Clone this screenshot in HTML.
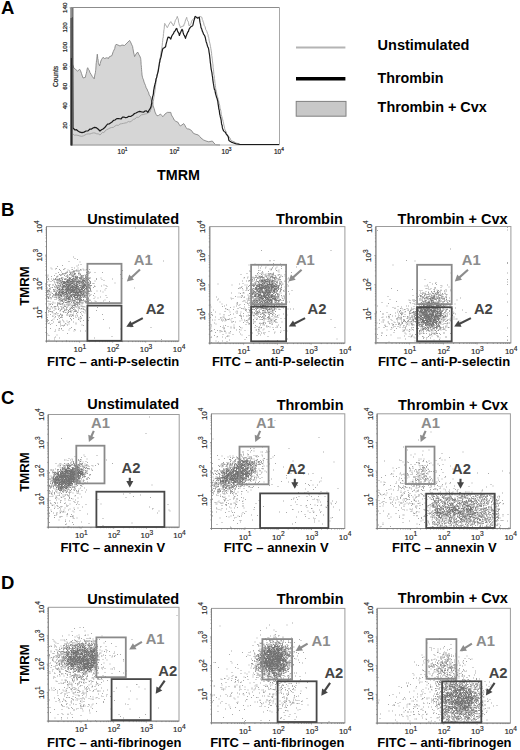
<!DOCTYPE html><html><head><meta charset="utf-8"><style>html,body{margin:0;padding:0;background:#fff;width:520px;height:750px;overflow:hidden}svg{display:block}text{font-family:"Liberation Sans",sans-serif}</style></head><body><svg width="520" height="750" viewBox="0 0 520 750" font-family="Liberation Sans, sans-serif"><defs><filter id="bl" x="-5%" y="-5%" width="110%" height="110%"><feGaussianBlur stdDeviation="0.9"/></filter></defs><text x="1" y="14" font-size="18.5" font-weight="bold" fill="#000">A</text><polygon points="72,145 72,8 73,8 72.7,64.2 73.2,65.8 73.8,68 75.8,69.6 77.7,71.2 79.6,69.2 80.5,70.7 81.5,73.5 82.3,76 83.1,78 85.4,77.3 85.9,74.6 86.3,73.5 86.8,71.3 87.2,68.8 87.7,67.7 88.5,69.4 89.2,70.2 90,72.7 91.2,74.5 92.3,76.5 94.2,78.8 94.6,76 95,74 95.4,72.7 95.6,70.5 95.8,69.2 96,65.9 96.1,64 96.3,62.7 96.5,60.4 96.8,59.1 97,56.4 97.3,54.2 97.5,55.9 97.8,58.8 98,59 98.3,62.3 98.5,63.5 99.6,65.8 100.2,63.4 100.9,61 101.5,59.6 103,57.3 104.6,58.5 106.9,57.7 108.5,58.5 109,57 112,55.5 112.7,53 113.3,51.5 114,50 114.7,48.7 115.3,45.7 116,44.4 118,45 120,46 122,45 124.5,45.5 126,44 128,42 129.6,40.4 131,43 131.8,44.9 132.6,46.5 132.9,48.6 133.2,49.9 133.5,52 134.1,54.4 134.6,56.6 136,54 137.7,52 139,55 139.8,56 140.7,58.6 140.8,59.6 141,61.7 141.1,64.4 141.3,65.8 141.4,67.4 141.6,69.7 141.7,71.3 141.9,72.8 142,75 142.5,77.3 143,78.9 143.5,79.8 144,82 144.8,83.9 145.5,85.5 146.2,87.9 147,89 147.8,91.2 148.5,92.1 149.2,95.1 150,96 150.6,97.1 151.2,99.5 151.8,102 152.3,102.7 152.9,105.1 153.5,107 154.2,108.7 155,112 156,114.2 157,115.8 158.7,115.4 160.4,114 161.7,115.5 163,116.7 165,114 167.3,112.4 170.8,112.4 171.4,114.9 172,116 173.1,117.7 174.2,120 175.9,121.4 177.7,122 179,124.2 180.3,126 182,124.9 183.7,123.6 184.9,125.3 186,127.7 187.2,128.8 189,129 191.5,130.5 193.2,133.1 195,134 198.4,135 199.7,136.5 201,138 203.6,140 206,141 208.8,141.8 212.3,141 214,143.1 215.7,144.7 220,145" fill="#d6d6d6" stroke="#7a7a7a" stroke-width="0.8" stroke-linejoin="round"/><line x1="71" y1="7.5" x2="279.5" y2="7.5" stroke="#8c8c8c" stroke-width="1.2"/><line x1="279.5" y1="7.5" x2="279.5" y2="145" stroke="#a8a8a8" stroke-width="1"/><line x1="71" y1="145" x2="279.5" y2="145" stroke="#b8b8b8" stroke-width="1"/><polyline points="73,134 74.5,135.3 76,135 78,135.4 80,136 81.7,136.3 83.3,135.9 85,135 86.7,134.1 88.3,133.9 90,134 91.7,133.3 93.3,132.9 95,133 96.7,133.8 98.3,133.9 100,135 101.2,133.9 102.5,132.3 103.8,132.7 105,131 106.7,129.7 108.3,128.9 110,128 111.7,127.5 113.3,127.4 115,126 116.7,125.2 118.3,125.4 120,124 121.7,123.7 123.3,123.4 125,123 126.7,122.7 128.3,121.5 130,122 131.7,120.9 133.3,119.4 135,119 136.7,117.1 138.3,117.5 140,116 141.7,114.7 143.3,114.6 145,114 146.7,113.7 148.3,112.8 150,112 150.6,110.1 151.2,108.8 151.8,107.3 152.4,106.1 153,104 153.2,101.7 153.4,101 153.7,98.9 153.9,97.4 154.1,96.7 154.3,94.7 154.6,93.2 154.8,92 155,90 155.2,89.2 155.4,86.9 155.6,85.7 155.8,84 156,82.5 156.2,81.3 156.4,79.4 156.6,78.1 156.8,76.5 157,75 157.3,74.3 157.6,72.4 157.9,71.2 158.2,69.8 158.5,67.1 158.8,66.1 159.1,65.3 159.4,63.6 159.7,60.8 160,60 160.2,57.7 160.5,56.6 160.8,54.2 161,52.9 161.2,50.9 161.5,50.3 161.8,48.9 162,46.7 162.2,45.9 162.4,43 162.5,42.4 162.7,40.8 162.9,38.3 163.1,38.1 163.3,36.7 163.4,33.8 163.6,33.5 163.8,31 164,29.6 164.2,28.9 164.3,27.1 164.5,24.3 164.7,23.4 165.6,24.7 166.4,26.3 167.3,27.7 168.2,25.9 169.1,24.1 169.9,22.8 170.8,21.6 171.7,23.5 172.5,23.7 173.4,26 174.1,24.5 174.7,22.7 175.4,20.3 176,19.3 176.7,18.2 177.3,16.4 177.7,18 178.2,18.8 178.6,22.1 179,23.4 179.4,25.3 179.9,25.4 180.3,27.7 182,26.4 183.7,26 184.2,23.7 184.7,23.6 185.2,21.2 185.7,19.5 186.2,18.6 186.7,17.3 187.1,19.5 187.6,20.8 188.1,21.2 188.5,22.5 188.9,25.3 189.4,26 190.2,24.7 191,23.6 191.7,21.1 192.5,19.6 193.3,19 195,18.5 196.7,17.3 198.4,17.2 200.2,16.5 201.9,17.3 202.3,19.5 202.8,20.4 203.2,22.2 203.6,22.4 204.1,25.2 204.5,26 205.1,26.7 205.7,29.5 206.2,30.2 206.8,31.4 207.4,33.3 208,34.6 208.3,36.9 208.6,37.3 208.9,38.7 209.2,41 209.5,42 209.9,43.4 210.2,45.1 210.5,46.4 210.8,48.3 211.1,50.1 211.4,52 211.6,53.2 211.7,55.5 211.9,56.2 212.1,58.1 212.3,59.1 212.4,60.9 212.6,61.9 212.8,63.8 213,64.9 213.1,67.8 213.3,69 213.5,69.8 213.7,71.9 213.8,74.2 214,75 214.2,75.8 214.4,78.6 214.6,79.4 214.8,81 215,83.1 215.2,83.8 215.4,85.5 215.6,87.3 215.8,89.4 216,90 216.4,91.3 216.8,93.8 217.1,95.2 217.5,96.7 217.9,98 218.2,99.5 218.6,100.6 219,103 219.3,103.9 219.7,105.3 220,108.1 220.3,108.8 220.7,110.2 221,111.6 221.3,114.5 221.7,116.1 222,117 222.4,118.9 222.8,119.9 223.1,121.4 223.5,123.1 223.9,125.1 224.2,126.1 224.6,128.3 225,130 225.8,131 226.6,133.6 227.4,135.1 228.2,135.7 229,137 230,137.9 231,140.5 232,141 234,141.7 236,143 238,143.5 240,144.5" fill="none" stroke="#a0a0a0" stroke-width="0.9" stroke-linejoin="round"/><polyline points="72.5,8 73,128 75,130 76.5,129.7 78,131 80,132.2 82,132.6 84,132.1 86,131 88,130.9 90,129 91.5,129.1 93,128 94.5,127.4 96,127.6 98,129 100,131 101.5,129.8 103,129 104.5,127.8 106,126 107.5,124.1 109,124 110.5,122.9 112,122 113.5,120.4 115,120 116.8,118.6 118.5,118.5 121,119 122.5,117.2 124,117 125.5,117.7 127,117.5 128.8,116.3 130.6,116.5 133,115 134.5,113.5 136,113 137.8,112 139.7,111.4 142,112 143.5,112.2 145,111 146.4,110.9 147.8,112.4 148.8,110.6 149.8,109.2 150.8,107.4 151.1,106.5 151.4,104.7 151.7,103.2 151.9,100.5 152.2,99.1 152.5,97.4 152.8,96 153.1,95.2 153.4,93.8 153.6,90.9 153.9,89.4 154.2,88 154.4,86.5 154.7,85.5 155,84 155.4,82.7 155.8,80.6 156.1,78.6 156.5,78 156.9,76.4 157.2,74.8 157.6,73.6 158,72 158.2,71.3 158.5,69.3 158.8,67.5 159,66.2 159.2,64.8 159.5,62.2 159.8,62.2 160,60 160.4,58.8 160.9,57.4 161.3,55.6 161.7,53.2 162.1,51.5 162.6,49.3 163,48.4 164.3,47.8 165.6,46.7 166,44.3 166.4,42.8 166.8,41.4 167.2,39.8 167.6,38.5 168,37.2 169.4,37.3 170.8,39 171.7,36.3 172.5,34.8 173.4,33.7 174.2,31.7 175.1,30.9 176,28.9 176.8,28.5 177.5,30.9 178.1,32.2 178.8,33.1 179.4,35.5 180.1,33.5 180.7,32.2 181.3,30.7 182,29.4 182.6,30.2 183.2,33 183.8,34.8 184.3,35.3 184.9,36.9 185.5,38.4 186.1,36.2 186.7,34.7 187.2,33.6 187.8,32 188.4,31.5 189,29.4 190.1,27.7 191.3,26.3 192.4,26 192.9,25.2 193.4,22.9 193.9,20.6 194.3,19.7 194.8,17.1 195.3,16.4 197.6,18.2 199.3,17.3 199.5,18.8 199.8,21.1 200,22.4 200.3,23.6 200.5,24.3 200.8,26 201,27.7 201.6,28.6 202.3,31.1 202.9,32.2 203.5,34.1 204.1,34.8 204.8,36 205.4,38 205.8,40.1 206.2,41.9 206.7,43.1 207.1,44.6 207.5,46.1 208,47.4 208.4,48 208.8,50 209,51.6 209.2,52.8 209.4,53.8 209.6,55.3 209.8,57.3 210,58.8 210.2,61.1 210.4,63.1 210.6,63.8 210.8,66.2 211,67.8 211.2,69.3 211.4,70 211.6,71.3 211.9,72.6 212.1,74.2 212.3,75.7 212.6,77.3 212.8,79.7 213.1,81.7 213.3,83.2 213.5,84.1 213.8,86 214,87.3 214.4,89.5 214.9,89.8 215.3,92.5 215.8,94.5 216.2,95.9 216.6,97.5 217.1,98.6 217.5,100.3 217.8,101.4 218.1,104.1 218.3,104.9 218.6,107.4 218.9,109.3 219.2,109.9 219.4,111.6 219.7,114.2 220,115 220.3,116.9 220.6,117.5 220.9,118.9 221.2,120.5 221.5,123.4 221.8,124.8 222.1,125.1 222.4,127.9 222.7,128.8 223.6,130.9 224.4,131.6 225.3,132.3 226.1,133.8 227,135 227.7,135.8 228.3,137.1 228.9,140.3 229.6,141 231.3,142.1 233,142.7 234.8,143.4 236.5,144 238.2,144.2 240,144.5 241.5,144.5 243,144.5 244.5,144.5 246,144.5 247.5,144.5 249,144.5 250.5,144.5 252,144.5 253.5,144.5 255,144.5 256.5,144.5 258,144.5 259.5,144.5 261,144.5 262.5,144.5 264,144.5 265.5,144.5 267,144.5 268.5,144.5 270,144.5 271.5,144.5 273,144.5 274.5,144.5 276,144.5 277.5,144.5 279,144.5" fill="none" stroke="#1a1a1a" stroke-width="1.2" stroke-linejoin="round"/><line x1="71.5" y1="7.5" x2="71.5" y2="17.6" stroke="#8c8c8c" stroke-width="2.6"/><line x1="71.5" y1="17.6" x2="71.5" y2="145.5" stroke="#5a5a5a" stroke-width="2.6"/><line x1="71.4" y1="58" x2="71.4" y2="145.5" stroke="#2a2a2a" stroke-width="1.1"/><text x="67.2" y="125.4" font-size="6.2" text-anchor="middle" fill="#1a1a1a" transform="rotate(-90 67.2 125.4)" stroke="#1a1a1a" stroke-width="0.2">20</text><line x1="69.5" y1="125.4" x2="71" y2="125.4" stroke="#777" stroke-width="0.6"/><text x="67.2" y="105.8" font-size="6.2" text-anchor="middle" fill="#1a1a1a" transform="rotate(-90 67.2 105.8)" stroke="#1a1a1a" stroke-width="0.2">40</text><line x1="69.5" y1="105.8" x2="71" y2="105.8" stroke="#777" stroke-width="0.6"/><text x="67.2" y="86.2" font-size="6.2" text-anchor="middle" fill="#1a1a1a" transform="rotate(-90 67.2 86.2)" stroke="#1a1a1a" stroke-width="0.2">60</text><line x1="69.5" y1="86.2" x2="71" y2="86.2" stroke="#777" stroke-width="0.6"/><text x="67.2" y="66.6" font-size="6.2" text-anchor="middle" fill="#1a1a1a" transform="rotate(-90 67.2 66.6)" stroke="#1a1a1a" stroke-width="0.2">80</text><line x1="69.5" y1="66.6" x2="71" y2="66.6" stroke="#777" stroke-width="0.6"/><text x="67.2" y="47.0" font-size="6.2" text-anchor="middle" fill="#1a1a1a" transform="rotate(-90 67.2 47.0)" stroke="#1a1a1a" stroke-width="0.2">100</text><line x1="69.5" y1="47.0" x2="71" y2="47.0" stroke="#777" stroke-width="0.6"/><text x="67.2" y="27.4" font-size="6.2" text-anchor="middle" fill="#1a1a1a" transform="rotate(-90 67.2 27.4)" stroke="#1a1a1a" stroke-width="0.2">120</text><line x1="69.5" y1="27.4" x2="71" y2="27.4" stroke="#777" stroke-width="0.6"/><text x="67.2" y="7.8" font-size="6.2" text-anchor="middle" fill="#1a1a1a" transform="rotate(-90 67.2 7.8)" stroke="#1a1a1a" stroke-width="0.2">140</text><line x1="69.5" y1="7.8" x2="71" y2="7.8" stroke="#777" stroke-width="0.6"/><text x="57.8" y="76.4" font-size="6.7" text-anchor="middle" fill="#1a1a1a" transform="rotate(-90 57.8 76.4)" stroke="#1a1a1a" stroke-width="0.2">Counts</text><text x="122.5" y="154.4" font-size="6.5" fill="#1a1a1a" stroke="#1a1a1a" stroke-width="0.2" text-anchor="middle">10<tspan font-size="4.8" dy="-3">1</tspan></text><text x="174.5" y="154.4" font-size="6.5" fill="#1a1a1a" stroke="#1a1a1a" stroke-width="0.2" text-anchor="middle">10<tspan font-size="4.8" dy="-3">2</tspan></text><text x="226.5" y="154.4" font-size="6.5" fill="#1a1a1a" stroke="#1a1a1a" stroke-width="0.2" text-anchor="middle">10<tspan font-size="4.8" dy="-3">3</tspan></text><text x="278.9" y="154.4" font-size="6.5" fill="#1a1a1a" stroke="#1a1a1a" stroke-width="0.2" text-anchor="middle">10<tspan font-size="4.8" dy="-3">4</tspan></text><text x="157" y="179.5" font-size="14.3" font-weight="bold" fill="#000">TMRM</text><line x1="296" y1="47.6" x2="345.4" y2="47.6" stroke="#b4b4b4" stroke-width="2"/><line x1="296" y1="78.7" x2="345.4" y2="78.7" stroke="#000" stroke-width="3.4"/><rect x="296.2" y="101.4" width="49.8" height="14.8" fill="#c8c8c8" stroke="#808080" stroke-width="1"/><text x="377.6" y="50" font-size="14.5" font-weight="bold" fill="#000">Unstimulated</text><text x="377.6" y="82.5" font-size="14.3" font-weight="bold" fill="#000">Thrombin</text><text x="377.6" y="111.5" font-size="14.4" font-weight="bold" fill="#000">Thrombin + Cvx</text><g transform="scale(0.5)" filter="url(#bl)" stroke-width="2" fill="none"><path d="M270 456h2m23 54h2m-151 4h2m1 3h2m3 2h2m170 3h2m-191 1h2m20 1h2m0 5h2m-7 1h2m-34 1h2m-12 2h2m27 2h2m-44 1h2m45 0h2m5 0h2m-45 1h2m15 0h2m-28 1h2m5 0h2m16 0h2m35 0h2m-41 1h2m15 0h2m-1 0h2m26 0h2m4 0h2m-18 1h2m2 0h2m-48 1h2m122 0h2m-72 1h2m-54 2h2m55 0h2m-65 1h2m71 0h2m13 0h2m-29 1h2m-68 1h2m64 0h2m61 2h2m-147 1h2m23 0h2m-14 1h2m-15 1h2m5 1h2m10 0h2m-23 2h2m106 1h2m-107 1h2m81 0h2m11 0h2m49 0h2m-143 1h2m120 0h2m-131 1h2m95 0h2m9 0h2m-101 2h2m101 0h2m-112 1h2m-5 2h2m133 2h2m-44 1h2m-96 2h2m3 1h2m107 0h2m-112 1h2m6 0h2m104 0h2m-115 1h2m88 0h2m12 0h2m-106 1h2m8 0h2m78 0h2m23 0h2m-114 2h2m83 0h2m-94 1h2m172 0h2m-59 1h2m-113 1h2m107 2h2m-18 2h2m5 0h2m3 2h2m-19 3h2m-9 2h2m3 2h2m23 0h2m-24 3h2m9 0h2m-107 1h2m3 0h2m111 0h2m-122 1h2m100 0h2m-10 1h2m-88 1h2m106 2h2m-22 2h2m15 0h2m-113 1h2m2 0h2m90 0h2m25 0h2m-115 1h2m75 0h2m17 1h2m-94 1h2m-14 1h2m2 0h2m74 0h2m-80 2h2m74 0h2m-80 1h2m3 3h2m9 0h2m-14 1h2m71 1h2m18 0h2m-92 1h2m3 0h2m46 0h2m-60 1h2m57 0h2m-51 1h2m11 1h2m50 0h2m-80 2h2m9 0h2m11 0h2m70 0h2m-24 1h2m-9 1h2m-62 1h2m41 0h2m-36 1h2m16 0h2m-1 0h2m-28 1h2m62 0h2m-56 1h2m35 0h2m-41 1h2m31 0h2m14 0h2m-64 1h2m102 0h2m-111 1h2m10 0h2m23 0h2m0 0h2m-1 0h2m-22 1h2m47 0h2m-62 1h2m35 0h2m3 0h2m2 0h2m-47 1h2m3 0h2m30 0h2m-28 1h2m-24 1h2m13 0h2m40 0h2m25 0h2m-24 1h2m4 0h2m-46 1h2m26 0h2m-41 1h2m33 1h2m62 0h2m-114 1h2m8 0h2m18 0h2m33 0h2m-68 1h2m1 0h2m4 0h2m62 0h2m8 0h2m-59 1h2m5 0h2m5 0h2m-41 1h2m21 0h2m19 0h2m20 0h2m-56 1h2m12 0h2m5 0h2m8 0h2m7 0h2m-32 1h2m0 0h2m15 0h2m-44 1h2m3 0h2m51 0h2m-57 1h2m5 0h2m25 0h2m-1 1h2m4 0h2m12 0h2m-53 1h2m26 1h2m33 0h2m-53 1h2m11 0h2m1 0h2m36 0h2m-48 1h2m4 0h2m133 2h2m-121 1h2m157 0h2m-85 1h2m-120 1h2m16 0h2m19 0h2m-19 1h2m117 0h2m-133 2h2m25 0h2m11 0h2m-35 1h2m6 0h2m20 1h2m11 0h2m8 0h2m-63 1h2m-18 4h2m39 0h2m-41 3h2m16 0h2m-18 1h2m124 2h2m-115 1h2m-4 2h2m8 0h2m68 0h2m132 3h2m-227 1h2m9 0h2m22 1h2" stroke="#ababab"/><path d="M153 532h2m-37 7h2m40 0h2m-27 1h2m15 0h2m1 0h2m12 0h2m-20 1h2m6 0h2m-23 1h2m17 0h2m-14 1h2m1 0h2m26 0h2m-45 1h2m-1 0h2m21 0h2m-28 1h2m0 0h2m6 0h2m29 0h2m5 0h2m-40 1h2m33 0h2m-54 1h2m-1 0h2m0 0h2m0 0h2m-1 0h2m18 0h2m-23 1h2m19 0h2m5 0h2m-41 1h2m3 0h2m14 0h2m-19 1h2m45 0h2m-51 1h2m6 0h2m3 0h2m27 0h2m-1 0h2m1 0h2m2 0h2m-57 1h2m18 0h2m33 0h2m1 0h2m-44 1h2m0 0h2m30 0h2m-74 1h2m17 0h2m-1 0h2m59 1h2m3 0h2m-59 1h2m5 1h2m47 0h2m-74 1h2m5 0h2m-19 1h2m9 0h2m0 0h2m2 0h2m63 2h2m-73 1h2m69 0h2m9 0h2m-90 1h2m77 0h2m-74 1h2m3 1h2m65 0h2m-73 1h2m3 0h2m69 1h2m-88 2h2m4 0h2m3 0h2m-15 1h2m12 1h2m69 0h2m5 2h2m-79 1h2m-10 1h2m3 0h2m-13 2h2m80 0h2m-83 1h2m10 0h2m-4 1h2m-16 1h2m0 0h2m8 0h2m-15 1h2m84 0h2m-74 1h2m-1 0h2m70 0h2m-88 1h2m1 0h2m9 0h2m67 0h2m1 0h2m-89 1h2m-1 0h2m4 0h2m-2 2h2m1 1h2m71 0h2m-83 1h2m-4 1h2m3 0h2m5 0h2m-15 1h2m5 0h2m4 0h2m-3 1h2m72 0h2m-3 1h2m-87 1h2m-1 0h2m8 0h2m-10 1h2m7 0h2m2 0h2m1 1h2m-15 1h2m1 0h2m11 0h2m58 1h2m-1 0h2m-66 1h2m3 0h2m57 0h2m-69 1h2m61 0h2m-8 1h2m9 0h2m0 0h2m-64 1h2m60 0h2m-86 1h2m23 0h2m46 0h2m-1 1h2m3 0h2m-11 1h2m-25 1h2m-39 1h2m7 0h2m1 0h2m7 0h2m34 0h2m0 0h2m5 0h2m4 0h2m-61 1h2m3 0h2m49 0h2m-61 1h2m16 0h2m6 0h2m2 0h2m27 0h2m-76 1h2m2 0h2m8 0h2m17 0h2m2 0h2m19 0h2m-35 1h2m1 0h2m-1 0h2m5 0h2m25 0h2m-51 1h2m21 0h2m4 0h2m-12 1h2m0 0h2m4 0h2m11 0h2m18 0h2m-68 1h2m0 0h2m16 0h2m0 0h2m31 0h2m0 0h2m0 0h2m-74 1h2m10 0h2m7 0h2m7 0h2m25 0h2m2 0h2m0 0h2m9 0h2m-77 1h2m30 0h2m18 0h2m-26 1h2m-1 0h2m7 0h2m5 0h2m7 0h2m5 0h2m8 0h2m-72 1h2m20 0h2m8 0h2m11 0h2m20 0h2m-70 1h2m15 0h2m10 0h2m7 0h2m27 0h2m2 0h2m-1 0h2m5 0h2m-76 1h2m15 0h2m13 0h2m0 0h2m3 0h2m6 0h2m19 0h2m-49 1h2m28 0h2m4 0h2m11 0h2m-43 1h2m1 0h2m10 0h2m4 0h2m-54 1h2m20 0h2m31 0h2m-55 1h2m-1 0h2m1 0h2m20 0h2m-1 0h2m9 0h2m2 0h2m5 0h2m0 0h2m-1 0h2m-57 1h2m6 0h2m21 0h2m6 0h2m18 0h2m9 0h2m-27 1h2m11 0h2m4 0h2m-53 2h2m23 0h2m38 0h2m-66 1h2m8 0h2m-2 1h2m19 0h2m-21 1h2m0 0h2m27 0h2m-37 1h2m4 0h2m18 0h2m-1 0h2m-29 1h2m2 0h2m14 0h2m14 0h2m-18 1h2m20 0h2m-39 1h2m-5 1h2m-1 0h2m0 0h2m34 1h2m-21 1h2m19 0h2m-69 2h2m18 0h2m40 0h2m-16 1h2m-24 8h2m12 2h2m-13 1h2m-3 6h2m-7 1h2m29 1h2" stroke="#9c9c9c"/><path d="M147 541h2m2 1h2m0 0h2m0 0h2m-11 1h2m-7 1h2m2 0h2m-8 1h2m6 0h2m-5 1h2m11 0h2m-28 1h2m7 0h2m6 0h2m-1 0h2m5 0h2m1 0h2m-20 1h2m2 0h2m-22 1h2m11 0h2m8 0h2m10 0h2m10 0h2m-40 1h2m3 0h2m1 0h2m1 0h2m10 0h2m16 0h2m-16 1h2m-19 1h2m0 0h2m16 0h2m-17 1h2m3 0h2m6 0h2m-29 1h2m23 0h2m8 0h2m-1 0h2m-1 0h2m-1 0h2m-52 1h2m9 0h2m2 0h2m10 0h2m0 0h2m8 0h2m-1 0h2m5 0h2m-47 1h2m27 0h2m3 0h2m3 0h2m10 0h2m-68 1h2m6 0h2m1 0h2m-1 0h2m7 0h2m4 0h2m1 0h2m16 0h2m0 0h2m0 0h2m4 0h2m1 0h2m-56 1h2m52 0h2m2 0h2m-67 1h2m2 0h2m1 0h2m-1 0h2m4 0h2m2 0h2m0 0h2m39 0h2m1 0h2m0 0h2m-65 1h2m1 0h2m0 0h2m-1 0h2m-8 1h2m5 0h2m1 0h2m-10 1h2m4 1h2m50 0h2m-62 1h2m65 0h2m-67 1h2m58 0h2m-1 0h2m-63 1h2m2 0h2m58 0h2m-63 1h2m60 0h2m-67 1h2m2 0h2m57 0h2m-3 1h2m-1 1h2m-64 1h2m-1 0h2m1 0h2m58 0h2m-70 1h2m0 0h2m63 1h2m-70 1h2m3 0h2m3 0h2m53 0h2m-64 1h2m1 0h2m59 0h2m-1 0h2m-3 1h2m-62 2h2m60 0h2m-76 1h2m8 0h2m1 0h2m59 0h2m-6 1h2m-82 1h2m77 0h2m-83 1h2m2 0h2m7 0h2m-2 1h2m4 0h2m58 1h2m-64 1h2m-1 0h2m3 0h2m54 0h2m-78 1h2m72 0h2m3 0h2m-68 1h2m65 1h2m-84 1h2m13 0h2m-1 0h2m61 0h2m-66 2h2m3 0h2m56 0h2m-1 0h2m-78 1h2m11 0h2m60 0h2m-7 1h2m-47 1h2m4 0h2m34 0h2m-71 1h2m11 0h2m6 0h2m12 0h2m11 0h2m16 0h2m2 0h2m1 0h2m0 0h2m2 0h2m-61 1h2m-22 1h2m23 0h2m21 0h2m4 0h2m21 0h2m-56 1h2m2 0h2m3 0h2m-1 0h2m1 0h2m6 0h2m5 0h2m-31 1h2m9 0h2m10 0h2m1 0h2m16 0h2m2 0h2m-48 1h2m2 0h2m2 0h2m20 0h2m6 0h2m0 0h2m-1 0h2m12 0h2m-54 1h2m-1 0h2m19 0h2m-1 0h2m27 0h2m-55 1h2m3 0h2m11 0h2m5 0h2m0 0h2m3 0h2m14 0h2m-48 1h2m17 0h2m2 0h2m2 0h2m19 0h2m2 0h2m-59 1h2m6 0h2m4 0h2m-1 0h2m34 0h2m-1 0h2m-47 1h2m2 0h2m0 0h2m3 0h2m7 0h2m4 0h2m0 0h2m1 0h2m12 0h2m2 0h2m-62 1h2m18 0h2m0 0h2m10 0h2m4 0h2m1 0h2m5 0h2m-50 1h2m5 0h2m21 0h2m-29 1h2m2 0h2m13 0h2m8 0h2m0 0h2m0 0h2m4 0h2m-42 1h2m0 0h2m26 0h2m0 0h2m0 0h2m-7 1h2m4 0h2m-1 0h2m-12 1h2m-1 0h2m1 0h2m-1 1h2m9 0h2m-42 1h2m21 0h2m3 1h2m-18 1h2m7 0h2m0 1h2m-3 1h2m-1 0h2m-6 1h2m5 1h2m-21 1h2m6 1h2m2 1h2m9 0h2m-14 1h2m-1 0h2m-16 1h2m8 1h2m1 5h2m3 0h2" stroke="#8e8e8e"/><path d="M148 548h2m-3 2h2m-6 2h2m0 0h2m4 0h2m-8 1h2m3 0h2m-6 1h2m4 0h2m-13 1h2m8 0h2m0 0h2m-1 0h2m-1 0h2m2 0h2m-10 1h2m5 0h2m6 0h2m-30 1h2m-1 0h2m6 0h2m2 0h2m8 0h2m9 0h2m-51 1h2m20 0h2m7 0h2m10 0h2m1 0h2m-38 1h2m0 0h2m4 0h2m-1 0h2m6 0h2m9 0h2m0 0h2m0 0h2m-33 1h2m-1 0h2m11 0h2m0 0h2m4 0h2m1 0h2m4 0h2m0 0h2m2 0h2m-38 1h2m7 0h2m-1 0h2m0 0h2m6 0h2m2 0h2m3 0h2m1 0h2m2 0h2m0 0h2m-58 1h2m4 0h2m19 0h2m6 0h2m-35 1h2m3 0h2m0 0h2m0 0h2m19 0h2m4 0h2m2 0h2m3 0h2m3 0h2m-47 1h2m1 0h2m-1 0h2m22 0h2m6 0h2m4 0h2m-47 1h2m-1 0h2m2 0h2m35 0h2m6 0h2m0 0h2m-53 1h2m2 0h2m-1 0h2m-1 0h2m26 0h2m0 1h2m15 0h2m-56 1h2m39 0h2m0 0h2m-13 1h2m-1 0h2m13 0h2m0 0h2m3 0h2m-58 1h2m1 0h2m34 0h2m13 0h2m-50 1h2m30 0h2m3 0h2m9 0h2m-1 0h2m0 0h2m-60 1h2m6 0h2m47 0h2m-1 0h2m-60 1h2m6 0h2m27 0h2m-36 1h2m1 0h2m33 1h2m11 0h2m0 0h2m0 0h2m-62 1h2m5 0h2m45 0h2m0 0h2m-61 1h2m3 0h2m49 0h2m5 0h2m-54 1h2m44 0h2m-1 0h2m-52 1h2m1 0h2m-1 0h2m36 0h2m6 0h2m-59 1h2m56 0h2m-62 1h2m4 0h2m0 0h2m0 0h2m-10 1h2m56 0h2m2 0h2m-58 1h2m53 0h2m-61 1h2m1 0h2m44 0h2m-1 0h2m2 0h2m-57 1h2m0 0h2m8 0h2m1 0h2m-21 1h2m8 0h2m0 0h2m43 0h2m3 0h2m-63 1h2m57 0h2m-1 0h2m-65 1h2m0 0h2m2 0h2m-1 0h2m5 0h2m6 0h2m10 0h2m20 0h2m0 0h2m3 0h2m-62 1h2m0 0h2m3 0h2m8 0h2m1 0h2m29 0h2m-58 1h2m2 0h2m1 0h2m4 0h2m12 0h2m2 0h2m1 0h2m-1 0h2m18 0h2m1 0h2m-1 0h2m1 0h2m1 0h2m-56 1h2m-1 0h2m0 0h2m3 0h2m6 0h2m4 0h2m0 0h2m2 0h2m9 0h2m0 0h2m1 0h2m3 0h2m1 0h2m-60 1h2m1 0h2m-1 0h2m-1 0h2m3 0h2m1 0h2m25 0h2m-33 1h2m5 0h2m15 0h2m12 0h2m3 0h2m2 0h2m-51 1h2m17 0h2m14 0h2m1 0h2m-42 1h2m12 0h2m2 0h2m0 0h2m1 0h2m5 0h2m0 0h2m0 0h2m0 0h2m-28 1h2m2 0h2m0 0h2m3 0h2m10 0h2m0 0h2m-24 1h2m1 0h2m21 0h2m-38 1h2m3 0h2m21 0h2m4 0h2m2 0h2m-1 0h2m-1 0h2m-38 1h2m9 0h2m-1 0h2m-1 0h2m12 0h2m-1 0h2m4 0h2m-30 1h2m0 0h2m22 0h2m3 0h2m-42 1h2m6 0h2m-1 0h2m10 0h2m3 0h2m8 0h2m1 0h2m0 0h2m0 0h2m-31 1h2m1 0h2m19 0h2m-27 1h2m-1 0h2m-1 0h2m-1 0h2m18 0h2m1 1h2m-16 1h2m4 0h2m4 0h2m-7 1h2m0 0h2m-9 1h2m-3 4h2" stroke="#808080"/><path d="M149 556h2m-5 1h2m-10 1h2m-1 0h2m3 0h2m6 0h2m-1 0h2m-12 1h2m0 0h2m2 0h2m-15 1h2m0 0h2m4 0h2m3 0h2m-18 1h2m-1 0h2m2 0h2m1 0h2m23 0h2m0 0h2m-36 1h2m-1 0h2m-1 0h2m8 0h2m3 0h2m4 0h2m4 0h2m-33 1h2m-1 0h2m-1 0h2m3 0h2m-1 0h2m0 0h2m-1 0h2m0 0h2m0 0h2m2 0h2m1 0h2m2 0h2m7 0h2m-40 1h2m0 0h2m1 0h2m0 0h2m0 0h2m1 0h2m2 0h2m0 0h2m-1 0h2m5 0h2m-1 0h2m0 0h2m-1 0h2m0 0h2m-1 0h2m-1 0h2m4 0h2m-1 0h2m-44 1h2m0 0h2m1 0h2m-1 0h2m0 0h2m1 0h2m2 0h2m8 0h2m0 0h2m9 0h2m-38 1h2m1 0h2m0 0h2m0 0h2m1 0h2m1 0h2m-1 0h2m-1 0h2m-1 0h2m3 0h2m-1 0h2m-1 0h2m8 0h2m0 0h2m-42 1h2m-1 0h2m0 0h2m7 0h2m2 0h2m-1 0h2m-1 0h2m-1 0h2m13 0h2m4 0h2m0 0h2m2 0h2m-43 1h2m0 0h2m-1 0h2m3 0h2m1 0h2m4 0h2m-1 0h2m-1 0h2m0 0h2m-1 0h2m-1 0h2m2 0h2m9 0h2m-46 1h2m5 0h2m-1 0h2m0 0h2m1 0h2m0 0h2m-1 0h2m5 0h2m-1 0h2m15 0h2m1 0h2m-43 1h2m5 0h2m-1 0h2m-1 0h2m-1 0h2m-1 0h2m-1 0h2m0 0h2m0 0h2m1 0h2m0 0h2m3 0h2m-1 0h2m-1 0h2m9 0h2m-1 0h2m-1 0h2m-1 0h2m-1 0h2m-44 1h2m1 0h2m-1 0h2m2 0h2m-1 0h2m-1 0h2m4 0h2m4 0h2m-1 0h2m-1 0h2m5 0h2m0 0h2m2 0h2m-1 0h2m0 0h2m-1 0h2m-1 0h2m-1 0h2m-49 1h2m2 0h2m6 0h2m-1 0h2m-1 0h2m-1 0h2m-1 0h2m0 0h2m0 0h2m2 0h2m1 0h2m8 0h2m4 0h2m0 0h2m-1 0h2m-46 1h2m2 0h2m-1 0h2m0 0h2m-1 0h2m-1 0h2m-1 0h2m5 0h2m0 0h2m-1 0h2m3 0h2m-1 0h2m-1 0h2m-1 0h2m7 0h2m-1 0h2m-1 0h2m-1 0h2m-1 0h2m3 0h2m0 0h2m-52 1h2m0 0h2m0 0h2m0 0h2m4 0h2m-1 0h2m2 0h2m-1 0h2m0 0h2m0 0h2m-1 0h2m-1 0h2m1 0h2m0 0h2m6 0h2m4 0h2m4 0h2m-50 1h2m6 0h2m-1 0h2m-1 0h2m0 0h2m1 0h2m0 0h2m0 0h2m2 0h2m-1 0h2m-1 0h2m-1 0h2m-1 0h2m5 0h2m3 0h2m-1 0h2m0 0h2m-1 0h2m2 0h2m0 0h2m-51 1h2m2 0h2m0 0h2m-1 0h2m0 0h2m0 0h2m3 0h2m0 0h2m0 0h2m-1 0h2m0 0h2m0 0h2m-1 0h2m1 0h2m-1 0h2m-1 0h2m-1 0h2m3 0h2m-1 0h2m2 0h2m3 0h2m-50 1h2m6 0h2m1 0h2m-1 0h2m-1 0h2m0 0h2m-1 0h2m3 0h2m4 0h2m0 0h2m-1 0h2m6 0h2m-1 0h2m0 0h2m-1 0h2m4 0h2m-51 1h2m6 0h2m-1 0h2m0 0h2m-1 0h2m2 0h2m3 0h2m-1 0h2m-1 0h2m1 0h2m-1 0h2m-1 0h2m-1 0h2m-1 0h2m0 0h2m0 0h2m-1 0h2m1 0h2m-1 0h2m-46 1h2m4 0h2m3 0h2m-1 0h2m-1 0h2m1 0h2m0 0h2m-1 0h2m-1 0h2m1 0h2m-1 0h2m-1 0h2m-1 0h2m-1 0h2m1 0h2m-1 0h2m4 0h2m-1 0h2m1 0h2m1 0h2m4 0h2m-51 1h2m4 0h2m5 0h2m-1 0h2m2 0h2m0 0h2m-1 0h2m-1 0h2m-1 0h2m3 0h2m-1 0h2m0 0h2m0 0h2m4 0h2m0 0h2m-1 0h2m1 0h2m3 0h2m-42 1h2m3 0h2m-1 0h2m0 0h2m0 0h2m0 0h2m1 0h2m-1 0h2m-1 0h2m0 0h2m3 0h2m2 0h2m-1 0h2m6 0h2m-1 0h2m-44 1h2m2 0h2m1 0h2m-1 0h2m-1 0h2m-1 0h2m2 0h2m0 0h2m-1 0h2m0 0h2m-1 0h2m-1 0h2m0 0h2m-1 0h2m0 0h2m-1 0h2m0 0h2m1 0h2m-1 0h2m0 0h2m1 0h2m0 0h2m0 0h2m-51 1h2m3 0h2m0 0h2m-1 0h2m3 0h2m-1 0h2m-1 0h2m2 0h2m2 0h2m0 0h2m-1 0h2m1 0h2m2 0h2m-1 0h2m-1 0h2m2 0h2m-1 0h2m-1 0h2m-1 0h2m0 0h2m5 0h2m-47 1h2m-1 0h2m9 0h2m2 0h2m0 0h2m0 0h2m-1 0h2m-1 0h2m-1 0h2m3 0h2m3 0h2m-1 0h2m2 0h2m-1 0h2m-1 0h2m-45 1h2m-1 0h2m0 0h2m1 0h2m1 0h2m0 0h2m2 0h2m-1 0h2m1 0h2m0 0h2m2 0h2m0 0h2m0 0h2m0 0h2m0 0h2m-1 0h2m-1 0h2m1 0h2m-1 0h2m-1 0h2m6 0h2m-54 1h2m8 0h2m-1 0h2m3 0h2m2 0h2m0 0h2m-1 0h2m7 0h2m-1 0h2m1 0h2m-1 0h2m1 0h2m1 0h2m4 0h2m-49 1h2m3 0h2m0 0h2m4 0h2m-1 0h2m2 0h2m0 0h2m9 0h2m2 0h2m-1 0h2m4 0h2m-1 0h2m1 0h2m-1 0h2m-50 1h2m3 0h2m0 0h2m3 0h2m2 0h2m1 0h2m7 0h2m1 0h2m0 0h2m-1 0h2m0 0h2m0 0h2m-42 1h2m9 0h2m10 0h2m2 0h2m0 0h2m-1 0h2m-1 0h2m0 0h2m0 0h2m2 0h2m0 0h2m2 0h2m2 0h2m-47 1h2m0 0h2m4 0h2m3 0h2m-1 0h2m12 0h2m2 0h2m2 0h2m-1 0h2m0 0h2m0 0h2m1 0h2m-45 1h2m17 0h2m6 0h2m0 0h2m-1 0h2m0 0h2m-1 0h2m-1 0h2m-1 0h2m1 0h2m-30 1h2m-1 0h2m3 0h2m3 0h2m1 0h2m2 0h2m10 0h2m-30 1h2m-1 0h2m3 0h2m0 0h2m-1 0h2m4 0h2m4 0h2m-1 0h2m-21 1h2m0 0h2m19 0h2m-8 1h2m4 0h2m-24 1h2m15 0h2m3 0h2m-25 1h2m21 0h2m-28 1h2m3 0h2m-1 0h2m15 0h2m-3 1h2" stroke="#727272"/></g><rect x="46.5" y="226.6" width="132.3" height="114.5" fill="none" stroke="#9c9c9c" stroke-width="1"/><line x1="46.5" y1="226.6" x2="46.5" y2="341.6" stroke="#858585" stroke-width="1"/><line x1="46.0" y1="341.1" x2="178.8" y2="341.1" stroke="#858585" stroke-width="1"/><path d="M45.0 341.1h1.5M46.5 341.1v1.5M45.5 332.5h1.0M56.5 341.1v1.0M45.5 327.4h1.0M62.3 341.1v1.0M45.5 323.9h1.0M66.4 341.1v1.0M45.5 321.1h1.0M69.6 341.1v1.0M45.5 318.8h1.0M72.2 341.1v1.0M45.5 316.9h1.0M74.5 341.1v1.0M45.5 315.2h1.0M76.4 341.1v1.0M45.5 313.8h1.0M78.1 341.1v1.0M45.0 312.5h1.5M79.6 341.1v1.5M45.5 303.9h1.0M89.5 341.1v1.0M45.5 298.8h1.0M95.4 341.1v1.0M45.5 295.2h1.0M99.5 341.1v1.0M45.5 292.5h1.0M102.7 341.1v1.0M45.5 290.2h1.0M105.3 341.1v1.0M45.5 288.3h1.0M107.5 341.1v1.0M45.5 286.6h1.0M109.4 341.1v1.0M45.5 285.2h1.0M111.1 341.1v1.0M45.0 283.9h1.5M112.7 341.1v1.5M45.5 275.2h1.0M122.6 341.1v1.0M45.5 270.2h1.0M128.4 341.1v1.0M45.5 266.6h1.0M132.6 341.1v1.0M45.5 263.8h1.0M135.8 341.1v1.0M45.5 261.6h1.0M138.4 341.1v1.0M45.5 259.7h1.0M140.6 341.1v1.0M45.5 258.0h1.0M142.5 341.1v1.0M45.5 256.5h1.0M144.2 341.1v1.0M45.0 255.2h1.5M145.7 341.1v1.5M45.5 246.6h1.0M155.7 341.1v1.0M45.5 241.6h1.0M161.5 341.1v1.0M45.5 238.0h1.0M165.6 341.1v1.0M45.5 235.2h1.0M168.8 341.1v1.0M45.5 233.0h1.0M171.5 341.1v1.0M45.5 231.0h1.0M173.7 341.1v1.0M45.5 229.4h1.0M175.6 341.1v1.0M45.5 227.9h1.0M177.3 341.1v1.0" stroke="#777" stroke-width="0.7"/><text x="79.9" y="352.3" font-size="8" fill="#1e1e1e" stroke="#1e1e1e" stroke-width="0.15" text-anchor="middle">10<tspan font-size="6.6" dy="-3.6">1</tspan></text><text x="42.1" y="312.5" font-size="8" fill="#1e1e1e" stroke="#1e1e1e" stroke-width="0.15" text-anchor="middle" transform="rotate(-90 42.1 312.5)">10<tspan font-size="6.6" dy="-3.6">1</tspan></text><text x="113.0" y="352.3" font-size="8" fill="#1e1e1e" stroke="#1e1e1e" stroke-width="0.15" text-anchor="middle">10<tspan font-size="6.6" dy="-3.6">2</tspan></text><text x="42.1" y="283.9" font-size="8" fill="#1e1e1e" stroke="#1e1e1e" stroke-width="0.15" text-anchor="middle" transform="rotate(-90 42.1 283.9)">10<tspan font-size="6.6" dy="-3.6">2</tspan></text><text x="146.0" y="352.3" font-size="8" fill="#1e1e1e" stroke="#1e1e1e" stroke-width="0.15" text-anchor="middle">10<tspan font-size="6.6" dy="-3.6">3</tspan></text><text x="42.1" y="255.2" font-size="8" fill="#1e1e1e" stroke="#1e1e1e" stroke-width="0.15" text-anchor="middle" transform="rotate(-90 42.1 255.2)">10<tspan font-size="6.6" dy="-3.6">3</tspan></text><text x="179.1" y="352.3" font-size="8" fill="#1e1e1e" stroke="#1e1e1e" stroke-width="0.15" text-anchor="middle">10<tspan font-size="6.6" dy="-3.6">4</tspan></text><text x="42.1" y="226.6" font-size="8" fill="#1e1e1e" stroke="#1e1e1e" stroke-width="0.15" text-anchor="middle" transform="rotate(-90 42.1 226.6)">10<tspan font-size="6.6" dy="-3.6">4</tspan></text><rect x="87.4" y="263.8" width="34.1" height="39.3" fill="none" stroke="#8a8a8a" stroke-width="1.8"/><rect x="87.4" y="305.6" width="34.1" height="35.2" fill="none" stroke="#484848" stroke-width="1.8"/><text x="133.8" y="264.9" font-size="14.8" font-weight="bold" fill="#8c8c8c">A1</text><line x1="140.0" y1="269.5" x2="130.9" y2="277.9" stroke="#8c8c8c" stroke-width="2.1"/><polygon points="126.8,281.6 129.3,274.6 134.0,279.8" fill="#8c8c8c"/><text x="145.7" y="314.3" font-size="14.8" font-weight="bold" fill="#454545">A2</text><line x1="142.8" y1="318.1" x2="131.2" y2="324.2" stroke="#454545" stroke-width="2.1"/><polygon points="126.3,326.8 130.4,320.7 133.7,326.9" fill="#454545"/><text x="179.0" y="223.8" font-size="14.5" font-weight="bold" text-anchor="end" fill="#000">Unstimulated</text><text x="113.2" y="366.0" font-size="13" font-weight="bold" text-anchor="middle" fill="#000">FITC – anti-P-selectin</text><text x="29.4" y="285.9" font-size="13.2" font-weight="bold" text-anchor="middle" fill="#000" transform="rotate(-90 29.4 285.9)">TMRM</text><g transform="scale(0.5)" filter="url(#bl)" stroke-width="2" fill="none"><path d="M522 501h2m137 0h2m-124 20h2m6 0h2m-10 1h2m5 5h2m-39 1h2m49 0h2m-14 1h2m-53 1h2m36 1h2m-15 1h2m38 1h2m-33 1h2m20 0h2m37 0h2m-50 1h2m-30 1h2m12 0h2m19 0h2m9 1h2m-25 1h2m9 0h2m5 2h2m-43 1h2m1 0h2m-23 1h2m55 0h2m-57 1h2m22 0h2m10 0h2m32 0h2m-15 1h2m-43 1h2m5 0h2m57 0h2m-61 1h2m-32 1h2m42 0h2m-4 1h2m-56 1h2m44 0h2m29 0h2m9 0h2m-10 1h2m-53 1h2m49 1h2m6 0h2m-7 1h2m-71 1h2m8 0h2m51 0h2m0 0h2m-74 1h2m19 0h2m-24 1h2m5 0h2m80 0h2m-76 1h2m67 1h2m2 0h2m-78 3h2m-17 1h2m6 0h2m2 0h2m-1 0h2m5 0h2m63 0h2m-1 0h2m-3 1h2m-9 1h2m12 0h2m-93 3h2m-52 1h2m41 0h2m85 0h2m6 1h2m-112 1h2m24 0h2m2 0h2m5 0h2m71 2h2m1 0h2m-95 1h2m7 1h2m75 0h2m-89 1h2m9 0h2m77 0h2m-96 1h2m-4 1h2m6 0h2m6 1h2m5 1h2m-16 1h2m6 0h2m74 0h2m-80 1h2m73 0h2m15 0h2m-9 2h2m-92 2h2m-26 1h2m13 0h2m6 0h2m91 2h2m-10 1h2m-5 2h2m-85 1h2m11 0h2m-29 1h2m95 0h2m-137 1h2m41 0h2m2 0h2m87 0h2m-88 1h2m3 0h2m-28 1h2m105 0h2m-105 1h2m97 0h2m-130 1h2m24 0h2m-30 2h2m51 1h2m8 0h2m-14 2h2m-48 1h2m130 0h2m0 0h2m3 0h2m-106 1h2m15 0h2m-20 1h2m19 0h2m-2 1h2m65 0h2m-120 1h2m29 0h2m3 1h2m7 0h2m-70 1h2m30 0h2m42 0h2m-21 1h2m-31 1h2m22 0h2m84 0h2m-116 1h2m-25 1h2m44 0h2m19 0h2m-30 1h2m17 0h2m16 0h2m55 0h2m7 0h2m-63 1h2m62 0h2m-118 1h2m30 0h2m-33 1h2m37 0h2m60 0h2m3 0h2m16 0h2m3 0h2m4 0h2m-122 1h2m23 0h2m-1 0h2m63 0h2m-133 1h2m29 0h2m31 1h2m-19 1h2m17 0h2m8 0h2m-74 2h2m27 0h2m10 0h2m1 0h2m5 0h2m-61 1h2m71 0h2m-24 2h2m11 0h2m-49 1h2m25 0h2m12 0h2m84 0h2m-146 1h2m23 0h2m11 0h2m88 0h2m-128 1h2m70 0h2m2 0h2m5 0h2m48 0h2m14 0h2m-151 1h2m31 0h2m19 0h2m0 0h2m17 0h2m44 0h2m-100 1h2m43 0h2m55 0h2m-2 1h2m-121 1h2m13 0h2m35 0h2m-64 1h2m19 0h2m4 0h2m20 0h2m47 0h2m31 0h2m2 0h2m-117 1h2m67 0h2m-48 1h2m17 0h2m77 0h2m6 0h2m-128 1h2m69 0h2m12 0h2m13 0h2m-108 1h2m14 0h2m0 0h2m62 0h2m2 0h2m25 0h2m0 0h2m107 0h2m-239 1h2m3 0h2m15 0h2m13 0h2m20 0h2m3 0h2m5 0h2m9 0h2m19 0h2m21 0h2m-108 2h2m3 0h2m28 0h2m13 0h2m31 0h2m-63 1h2m41 0h2m37 0h2m-88 1h2m0 0h2m4 0h2m34 0h2m1 0h2m31 0h2m6 0h2m11 0h2m-79 1h2m38 0h2m25 0h2m-127 1h2m89 0h2m20 0h2m-37 1h2m10 0h2m1 0h2m7 0h2m-101 1h2m-12 1h2m68 0h2m4 0h2m44 0h2m-78 1h2m59 0h2m26 0h2m-108 1h2m58 0h2m-90 1h2m22 0h2m84 0h2m-1 0h2m18 0h2m-115 1h2m13 0h2m21 0h2m33 0h2m21 0h2m-77 1h2m4 0h2m70 0h2m-61 1h2m27 0h2m6 0h2m26 0h2m4 0h2m7 0h2m107 0h2m-250 1h2m38 0h2m4 0h2m-1 0h2m13 0h2m36 0h2m-76 1h2m-2 1h2m52 0h2m-75 1h2m48 0h2m66 0h2m-76 1h2m7 0h2m42 0h2m-93 1h2m53 0h2m76 0h2m-146 1h2m23 0h2m66 0h2m43 0h2m10 0h2m-155 1h2m-1 0h2m37 0h2m57 0h2m16 0h2m-100 1h2m37 0h2m69 0h2m-121 1h2m69 0h2m26 0h2m29 0h2m-111 1h2m4 0h2m45 0h2m42 0h2m-70 2h2m34 0h2m10 0h2m-85 1h2m18 0h2m16 1h2m35 0h2m-94 1h2m67 0h2m14 0h2m-61 1h2m-1 0h2m0 0h2m-25 1h2m99 0h2m-115 1h2m9 0h2m9 0h2m-25 1h2m69 0h2m-44 1h2m122 2h2m97 0h2m-186 1h2m-33 1h2m75 1h2m17 0h2m-125 1h2m11 0h2m84 0h2m-79 1h2m-19 1h2m79 0h2m-97 1h2m10 1h2m13 0h2" stroke="#ababab"/><path d="M516 532h2m28 0h2m-28 4h2m21 1h2m-3 2h2m-3 1h2m9 1h2m-29 5h2m19 0h2m-34 1h2m3 0h2m19 0h2m1 0h2m1 0h2m-25 1h2m6 0h2m5 0h2m-18 1h2m17 0h2m1 0h2m-1 0h2m-1 0h2m-18 1h2m11 0h2m10 0h2m-1 0h2m-13 1h2m2 0h2m-34 2h2m12 0h2m8 0h2m-32 1h2m22 0h2m-34 1h2m5 0h2m38 0h2m6 0h2m-55 1h2m48 1h2m-49 1h2m48 0h2m-60 1h2m2 0h2m6 0h2m46 0h2m-54 1h2m2 0h2m42 0h2m1 0h2m-63 1h2m5 1h2m5 0h2m40 0h2m-45 1h2m2 0h2m35 2h2m9 1h2m-65 1h2m2 1h2m53 0h2m2 1h2m-60 1h2m-9 1h2m5 0h2m51 0h2m2 0h2m-2 1h2m-68 1h2m-18 3h2m11 1h2m76 0h2m-72 1h2m57 0h2m-58 1h2m56 0h2m-63 1h2m57 0h2m-66 1h2m62 0h2m-62 1h2m58 1h2m5 0h2m-11 1h2m-73 2h2m12 0h2m58 0h2m-83 1h2m18 1h2m69 0h2m-16 1h2m-64 1h2m-14 1h2m72 0h2m3 0h2m-81 1h2m15 0h2m-14 2h2m7 0h2m64 0h2m-69 2h2m3 1h2m0 0h2m-12 1h2m1 0h2m4 0h2m63 0h2m-72 2h2m3 0h2m59 1h2m1 0h2m-79 1h2m3 0h2m6 0h2m-1 0h2m66 0h2m-74 3h2m61 0h2m-7 1h2m5 0h2m-69 1h2m5 0h2m50 0h2m-85 1h2m30 0h2m-6 1h2m57 0h2m-1 0h2m-64 2h2m1 0h2m5 1h2m32 0h2m3 0h2m7 0h2m4 0h2m-61 1h2m44 0h2m2 0h2m-52 1h2m7 0h2m1 0h2m37 0h2m-44 1h2m31 0h2m0 0h2m-75 2h2m8 0h2m23 0h2m30 0h2m4 0h2m-1 0h2m-64 1h2m16 0h2m30 0h2m-85 1h2m41 0h2m5 0h2m1 0h2m-1 0h2m49 0h2m-61 1h2m-4 1h2m2 0h2m13 0h2m5 0h2m21 0h2m-51 1h2m43 0h2m-96 1h2m67 0h2m21 0h2m7 0h2m-8 1h2m-47 1h2m2 0h2m3 0h2m15 0h2m0 0h2m16 0h2m-40 1h2m32 0h2m-40 1h2m10 0h2m7 0h2m-1 0h2m15 0h2m3 0h2m-39 1h2m10 0h2m12 0h2m-18 1h2m6 0h2m8 0h2m-37 1h2m23 0h2m8 0h2m-42 1h2m6 0h2m-1 0h2m21 0h2m22 0h2m-74 1h2m2 0h2m7 0h2m10 0h2m29 0h2m-59 1h2m33 0h2m2 0h2m14 0h2m5 0h2m8 0h2m-37 1h2m8 0h2m7 0h2m-40 1h2m21 0h2m-1 0h2m9 0h2m0 0h2m-40 1h2m13 0h2m12 0h2m9 0h2m-1 0h2m6 0h2m-100 1h2m75 0h2m1 0h2m7 0h2m-82 1h2m36 0h2m0 0h2m-1 0h2m30 0h2m2 0h2m-87 1h2m4 0h2m48 0h2m4 0h2m7 0h2m-81 1h2m96 0h2m0 0h2m1 0h2m-96 1h2m39 0h2m48 0h2m4 0h2m-61 1h2m46 0h2m-4 1h2m2 0h2m4 1h2m4 0h2m-60 1h2m34 0h2m-35 1h2m27 0h2m-1 0h2m10 0h2m-42 1h2m23 0h2m1 0h2m11 0h2m-15 1h2m16 0h2m-26 2h2m3 0h2m-9 4h2m13 0h2m19 0h2m-111 1h2m75 0h2m-76 1h2m67 0h2m8 2h2m-13 1h2m-7 1h2m-1 0h2m4 0h2m-98 1h2m15 0h2m0 1h2m6 0h2m-8 1h2m4 0h2m64 1h2m-58 2h2m61 0h2m2 0h2m-11 1h2m-66 6h2" stroke="#9c9c9c"/><path d="M536 548h2m-23 2h2m21 0h2m-5 1h2m-25 1h2m5 0h2m3 0h2m3 0h2m1 0h2m3 0h2m2 0h2m7 0h2m-34 1h2m1 0h2m-1 0h2m18 0h2m0 0h2m-25 1h2m9 0h2m5 0h2m1 0h2m1 0h2m4 0h2m-40 1h2m0 0h2m3 0h2m1 0h2m-1 0h2m-1 0h2m-1 0h2m-1 0h2m11 0h2m2 0h2m0 0h2m0 0h2m-43 1h2m5 0h2m1 0h2m32 0h2m-1 0h2m-39 1h2m10 0h2m5 0h2m11 0h2m-29 1h2m12 0h2m2 0h2m4 0h2m7 0h2m-23 1h2m2 0h2m11 0h2m6 0h2m-10 1h2m-33 1h2m26 0h2m-29 1h2m23 0h2m-1 0h2m4 0h2m-39 1h2m1 0h2m30 0h2m0 0h2m8 0h2m-47 1h2m36 0h2m2 0h2m-51 1h2m5 0h2m35 0h2m-38 1h2m35 0h2m3 0h2m-52 1h2m48 0h2m-55 1h2m7 0h2m41 0h2m0 0h2m-53 1h2m40 0h2m-52 1h2m3 0h2m-4 1h2m0 0h2m0 0h2m-2 1h2m-4 1h2m48 1h2m4 1h2m-54 1h2m49 0h2m-58 1h2m-1 0h2m1 0h2m48 0h2m-56 3h2m46 0h2m6 0h2m-60 1h2m1 0h2m-3 1h2m0 0h2m45 0h2m-3 1h2m-54 1h2m45 1h2m1 0h2m-49 1h2m-8 1h2m47 0h2m-47 1h2m1 0h2m0 0h2m45 0h2m1 0h2m-5 1h2m-48 1h2m40 0h2m2 0h2m-56 1h2m0 0h2m45 0h2m-48 1h2m-4 1h2m0 0h2m0 0h2m48 0h2m-1 0h2m-2 1h2m-1 0h2m-47 2h2m40 0h2m-1 0h2m-58 1h2m6 0h2m48 1h2m-52 1h2m51 0h2m-10 1h2m4 0h2m0 0h2m-56 1h2m46 0h2m0 0h2m-54 1h2m9 0h2m41 0h2m-54 1h2m3 0h2m43 0h2m-56 1h2m3 0h2m1 0h2m30 0h2m4 0h2m2 0h2m-50 1h2m6 0h2m36 0h2m3 0h2m-39 1h2m0 0h2m18 0h2m11 0h2m-49 1h2m1 0h2m5 0h2m35 0h2m2 0h2m-46 1h2m32 0h2m-38 1h2m-1 0h2m27 0h2m16 0h2m-14 1h2m-41 1h2m1 0h2m7 0h2m26 0h2m-43 1h2m3 0h2m1 0h2m3 0h2m17 0h2m11 0h2m-14 1h2m9 0h2m-46 1h2m6 0h2m17 0h2m0 0h2m6 0h2m-1 0h2m-41 1h2m33 0h2m-27 1h2m3 0h2m-1 0h2m-13 1h2m1 0h2m22 0h2m-18 1h2m3 0h2m3 0h2m6 0h2m1 0h2m0 0h2m2 0h2m-39 1h2m5 0h2m11 0h2m1 0h2m-1 0h2m3 0h2m5 0h2m-38 1h2m16 0h2m3 0h2m8 0h2m-21 1h2m16 0h2m-36 1h2m13 0h2m7 0h2m3 0h2m4 0h2m-33 1h2m13 0h2m-27 1h2m6 0h2m-1 0h2m-1 0h2m-1 0h2m18 0h2m0 0h2m-23 1h2m1 0h2m8 0h2m-1 0h2m-1 0h2m3 0h2m0 0h2m-27 1h2m-1 0h2m3 0h2m3 0h2m3 0h2m2 0h2m-26 1h2m1 0h2m26 0h2m-16 1h2m9 0h2m6 0h2m-36 1h2m2 0h2m27 0h2m-20 1h2m-15 1h2m15 1h2m-8 1h2m0 1h2m8 4h2m1 0h2m-17 1h2" stroke="#8e8e8e"/><path d="M523 553h2m-7 1h2m2 0h2m11 2h2m11 1h2m-31 1h2m3 0h2m11 0h2m1 0h2m7 0h2m-26 1h2m2 0h2m2 0h2m-13 1h2m3 0h2m-1 0h2m-1 0h2m0 0h2m2 0h2m-10 1h2m1 0h2m6 0h2m-1 0h2m3 0h2m-26 1h2m1 0h2m0 0h2m0 0h2m12 0h2m0 0h2m3 0h2m-25 1h2m0 0h2m5 0h2m1 0h2m-1 0h2m4 0h2m-1 0h2m-26 1h2m-1 0h2m-1 0h2m0 0h2m5 0h2m7 0h2m-6 1h2m-1 0h2m5 0h2m-36 1h2m6 0h2m10 0h2m15 0h2m-40 2h2m38 0h2m-1 0h2m-36 1h2m-1 0h2m0 0h2m-13 1h2m2 0h2m35 0h2m0 0h2m-1 0h2m-43 1h2m-1 0h2m38 0h2m0 0h2m-1 1h2m-1 0h2m-44 1h2m38 0h2m-1 0h2m-46 1h2m41 0h2m-47 1h2m-1 0h2m-1 0h2m42 0h2m-6 1h2m0 0h2m0 0h2m-48 1h2m36 0h2m2 0h2m1 0h2m-48 2h2m-1 0h2m0 0h2m36 0h2m4 0h2m-9 1h2m0 0h2m-1 0h2m-41 1h2m0 0h2m37 0h2m-44 1h2m-1 0h2m27 0h2m-39 1h2m1 0h2m36 0h2m3 0h2m-46 1h2m1 0h2m1 0h2m2 0h2m25 0h2m-41 1h2m-1 0h2m2 0h2m31 0h2m0 0h2m2 0h2m-45 1h2m0 0h2m1 0h2m39 0h2m-50 1h2m-1 0h2m7 0h2m30 0h2m5 0h2m-46 1h2m2 0h2m0 0h2m23 0h2m13 0h2m-53 1h2m4 0h2m32 0h2m4 0h2m-10 1h2m1 0h2m-38 1h2m-1 0h2m4 0h2m23 0h2m0 0h2m0 0h2m-39 1h2m38 0h2m5 0h2m-49 1h2m5 0h2m-1 0h2m29 0h2m-1 0h2m1 0h2m-48 1h2m4 0h2m2 0h2m32 0h2m2 0h2m-50 1h2m8 0h2m26 0h2m4 0h2m-2 1h2m0 0h2m-42 1h2m2 0h2m0 0h2m27 0h2m-38 1h2m11 0h2m28 0h2m-44 1h2m6 0h2m3 0h2m5 0h2m7 0h2m5 0h2m1 0h2m-1 0h2m-45 1h2m3 0h2m2 0h2m7 0h2m0 0h2m1 0h2m17 0h2m-45 1h2m-1 0h2m-1 0h2m3 0h2m-1 0h2m1 0h2m9 0h2m9 0h2m8 0h2m0 0h2m-1 0h2m2 0h2m-50 1h2m0 0h2m1 0h2m3 0h2m16 0h2m5 0h2m-31 1h2m4 0h2m-1 0h2m-1 0h2m3 0h2m12 0h2m7 0h2m-45 1h2m1 0h2m6 0h2m4 0h2m5 0h2m7 0h2m0 0h2m-37 1h2m4 0h2m2 0h2m0 0h2m2 0h2m4 0h2m9 0h2m-37 1h2m13 0h2m9 0h2m0 0h2m0 0h2m1 0h2m3 0h2m-23 1h2m4 0h2m0 0h2m5 0h2m2 0h2m-22 1h2m10 0h2m1 0h2m1 0h2m-1 0h2m-18 1h2m2 0h2m1 0h2m-1 0h2m4 0h2m-26 1h2m3 0h2m1 0h2m3 0h2m3 0h2m-11 1h2m0 0h2m7 0h2m-14 1h2m-1 0h2m0 0h2m2 0h2m-1 0h2m9 0h2m-21 1h2m2 0h2m9 0h2m-22 1h2m4 0h2m-6 1h2m0 0h2m5 0h2m0 0h2m0 0h2m-22 1h2m4 0h2m3 0h2m-1 1h2m-1 0h2m-1 0h2m0 0h2m-1 0h2m-1 0h2m0 0h2m-2 1h2m3 1h2m-13 2h2m5 0h2" stroke="#808080"/><path d="M533 560h2m6 0h2m-21 1h2m0 0h2m2 0h2m-8 1h2m0 0h2m8 0h2m0 0h2m-14 1h2m4 0h2m0 0h2m9 0h2m-16 1h2m-1 0h2m2 0h2m1 0h2m0 0h2m1 0h2m-17 1h2m-4 1h2m0 0h2m-1 0h2m-1 0h2m7 0h2m3 0h2m0 0h2m-23 1h2m2 0h2m3 0h2m3 0h2m-1 0h2m3 0h2m-1 0h2m-29 1h2m3 0h2m-1 0h2m0 0h2m5 0h2m-1 0h2m1 0h2m3 0h2m5 0h2m-29 1h2m3 0h2m5 0h2m0 0h2m-1 0h2m-1 0h2m-1 0h2m-1 0h2m-1 0h2m-1 0h2m0 0h2m-1 0h2m-32 1h2m-1 0h2m0 0h2m0 0h2m0 0h2m1 0h2m3 0h2m1 0h2m-1 0h2m0 0h2m-1 0h2m2 0h2m0 0h2m0 0h2m-29 1h2m2 0h2m-1 0h2m-1 0h2m-1 0h2m2 0h2m-1 0h2m-1 0h2m0 0h2m-1 0h2m3 0h2m1 0h2m1 0h2m0 0h2m-1 0h2m-37 1h2m-1 0h2m-1 0h2m1 0h2m1 0h2m2 0h2m0 0h2m0 0h2m0 0h2m0 0h2m0 0h2m2 0h2m0 0h2m-1 0h2m1 0h2m-1 0h2m1 0h2m-35 1h2m0 0h2m3 0h2m0 0h2m0 0h2m-1 0h2m-1 0h2m0 0h2m0 0h2m0 0h2m-1 0h2m-1 0h2m2 0h2m-1 0h2m-1 0h2m-1 0h2m-1 0h2m0 0h2m-1 0h2m0 0h2m0 0h2m-41 1h2m2 0h2m-1 0h2m-1 0h2m0 0h2m0 0h2m2 0h2m0 0h2m1 0h2m-1 0h2m1 0h2m1 0h2m0 0h2m-25 1h2m0 0h2m-1 0h2m-1 0h2m0 0h2m0 0h2m-1 0h2m1 0h2m-1 0h2m0 0h2m0 0h2m1 0h2m2 0h2m-1 0h2m-1 0h2m0 0h2m-1 0h2m6 0h2m-44 1h2m3 0h2m2 0h2m-1 0h2m0 0h2m-1 0h2m1 0h2m-1 0h2m0 0h2m-1 0h2m0 0h2m-1 0h2m-1 0h2m-1 0h2m-1 0h2m3 0h2m-1 0h2m3 0h2m-1 0h2m-41 1h2m2 0h2m-1 0h2m-1 0h2m0 0h2m0 0h2m0 0h2m1 0h2m-1 0h2m0 0h2m3 0h2m2 0h2m1 0h2m5 0h2m-37 1h2m0 0h2m-1 0h2m1 0h2m0 0h2m0 0h2m2 0h2m0 0h2m0 0h2m2 0h2m0 0h2m2 0h2m-1 0h2m2 0h2m-1 0h2m-1 0h2m-36 1h2m4 0h2m-1 0h2m-1 0h2m7 0h2m-1 0h2m0 0h2m4 0h2m0 0h2m2 0h2m-1 0h2m1 0h2m-39 1h2m2 0h2m-1 0h2m-1 0h2m-1 0h2m6 0h2m3 0h2m0 0h2m1 0h2m0 0h2m5 0h2m-31 1h2m2 0h2m5 0h2m-1 0h2m-1 0h2m-1 0h2m0 0h2m0 0h2m0 0h2m0 0h2m0 0h2m1 0h2m0 0h2m-36 1h2m2 0h2m2 0h2m-1 0h2m-1 0h2m1 0h2m1 0h2m-1 0h2m-1 0h2m2 0h2m-1 0h2m-1 0h2m-24 1h2m-1 0h2m0 0h2m3 0h2m6 0h2m-1 0h2m3 0h2m-1 0h2m0 0h2m5 0h2m-34 1h2m0 0h2m0 0h2m-1 0h2m0 0h2m-1 0h2m-1 0h2m-1 0h2m0 0h2m0 0h2m-1 0h2m-1 0h2m-1 0h2m-1 0h2m0 0h2m-21 1h2m0 0h2m0 0h2m1 0h2m1 0h2m0 0h2m2 0h2m0 0h2m-1 0h2m0 0h2m0 0h2m-22 1h2m3 0h2m-1 0h2m-1 0h2m0 0h2m-1 0h2m1 0h2m-1 0h2m0 0h2m-1 0h2m-1 0h2m-1 0h2m-28 1h2m12 0h2m1 0h2m3 0h2m-26 1h2m3 0h2m0 0h2m0 0h2m-1 0h2m3 0h2m-1 0h2m-1 0h2m1 0h2m0 0h2m-1 0h2m0 0h2m-22 1h2m0 0h2m0 0h2m5 0h2m-1 0h2m3 0h2m-1 0h2m2 0h2m3 0h2m-33 1h2m3 0h2m0 0h2m8 0h2m0 0h2m0 0h2m1 0h2m-20 1h2m1 0h2m-1 0h2m1 0h2m-1 0h2m-1 0h2m-1 0h2m1 0h2m0 0h2m0 0h2m0 0h2m3 0h2m-34 1h2m3 0h2m-1 0h2m0 0h2m0 0h2m0 0h2m1 0h2m-1 0h2m-1 0h2m1 0h2m0 0h2m2 0h2m-1 0h2m1 0h2m1 0h2m0 0h2m-38 1h2m-1 0h2m1 0h2m7 0h2m-1 0h2m1 0h2m-1 0h2m-1 0h2m-1 0h2m-1 0h2m4 0h2m3 0h2m-1 0h2m0 0h2m-1 0h2m-28 1h2m1 0h2m0 0h2m0 0h2m2 0h2m-1 0h2m2 0h2m0 0h2m-1 0h2m2 0h2m7 0h2m-35 1h2m-1 0h2m-1 0h2m1 0h2m3 0h2m-1 0h2m-1 0h2m0 0h2m0 0h2m1 0h2m-1 0h2m-1 0h2m1 0h2m-24 1h2m-1 0h2m-1 0h2m8 0h2m0 0h2m4 0h2m1 0h2m1 0h2m-1 0h2m-28 1h2m-1 0h2m0 0h2m-1 0h2m-1 0h2m2 0h2m2 0h2m1 0h2m5 0h2m1 0h2m0 0h2m-1 0h2m-37 1h2m1 0h2m4 0h2m7 0h2m0 0h2m-1 0h2m-1 0h2m8 0h2m0 0h2m-34 1h2m13 0h2m1 0h2m-1 0h2m1 0h2m0 0h2m0 0h2m3 0h2m-31 1h2m1 0h2m0 0h2m7 0h2m-1 0h2m0 0h2m-1 0h2m0 0h2m2 0h2m3 0h2m-38 1h2m12 0h2m2 0h2m5 0h2m0 0h2m1 0h2m-23 1h2m4 0h2m2 0h2m2 0h2m4 0h2m-10 1h2m-1 0h2m2 0h2m-16 1h2m2 0h2m-1 0h2m2 1h2m0 0h2m5 0h2m-19 1h2m2 0h2m4 0h2m0 0h2m-11 1h2m8 1h2m-18 1h2m4 0h2m1 0h2m-9 1h2m0 0h2m1 1h2m-8 4h2m-1 0h2m0 1h2" stroke="#727272"/></g><rect x="209.8" y="226.6" width="135.1" height="116.5" fill="none" stroke="#9c9c9c" stroke-width="1"/><line x1="209.8" y1="226.6" x2="209.8" y2="343.6" stroke="#858585" stroke-width="1"/><line x1="209.3" y1="343.1" x2="344.9" y2="343.1" stroke="#858585" stroke-width="1"/><path d="M208.3 343.1h1.5M209.8 343.1v1.5M208.8 334.3h1.0M220.0 343.1v1.0M208.8 329.2h1.0M225.9 343.1v1.0M208.8 325.6h1.0M230.1 343.1v1.0M208.8 322.7h1.0M233.4 343.1v1.0M208.8 320.4h1.0M236.1 343.1v1.0M208.8 318.5h1.0M238.3 343.1v1.0M208.8 316.8h1.0M240.3 343.1v1.0M208.8 315.3h1.0M242.0 343.1v1.0M208.3 314.0h1.5M243.6 343.1v1.5M208.8 305.2h1.0M253.7 343.1v1.0M208.8 300.1h1.0M259.7 343.1v1.0M208.8 296.4h1.0M263.9 343.1v1.0M208.8 293.6h1.0M267.2 343.1v1.0M208.8 291.3h1.0M269.9 343.1v1.0M208.8 289.4h1.0M272.1 343.1v1.0M208.8 287.7h1.0M274.1 343.1v1.0M208.8 286.2h1.0M275.8 343.1v1.0M208.3 284.9h1.5M277.4 343.1v1.5M208.8 276.1h1.0M287.5 343.1v1.0M208.8 271.0h1.0M293.5 343.1v1.0M208.8 267.3h1.0M297.7 343.1v1.0M208.8 264.5h1.0M301.0 343.1v1.0M208.8 262.2h1.0M303.6 343.1v1.0M208.8 260.2h1.0M305.9 343.1v1.0M208.8 258.5h1.0M307.9 343.1v1.0M208.8 257.1h1.0M309.6 343.1v1.0M208.3 255.7h1.5M311.1 343.1v1.5M208.8 247.0h1.0M321.3 343.1v1.0M208.8 241.8h1.0M327.2 343.1v1.0M208.8 238.2h1.0M331.5 343.1v1.0M208.8 235.4h1.0M334.7 343.1v1.0M208.8 233.1h1.0M337.4 343.1v1.0M208.8 231.1h1.0M339.7 343.1v1.0M208.8 229.4h1.0M341.6 343.1v1.0M208.8 227.9h1.0M343.4 343.1v1.0" stroke="#777" stroke-width="0.7"/><text x="243.9" y="354.3" font-size="8" fill="#1e1e1e" stroke="#1e1e1e" stroke-width="0.15" text-anchor="middle">10<tspan font-size="6.6" dy="-3.6">1</tspan></text><text x="205.4" y="314.0" font-size="8" fill="#1e1e1e" stroke="#1e1e1e" stroke-width="0.15" text-anchor="middle" transform="rotate(-90 205.4 314.0)">10<tspan font-size="6.6" dy="-3.6">1</tspan></text><text x="277.7" y="354.3" font-size="8" fill="#1e1e1e" stroke="#1e1e1e" stroke-width="0.15" text-anchor="middle">10<tspan font-size="6.6" dy="-3.6">2</tspan></text><text x="205.4" y="284.9" font-size="8" fill="#1e1e1e" stroke="#1e1e1e" stroke-width="0.15" text-anchor="middle" transform="rotate(-90 205.4 284.9)">10<tspan font-size="6.6" dy="-3.6">2</tspan></text><text x="311.4" y="354.3" font-size="8" fill="#1e1e1e" stroke="#1e1e1e" stroke-width="0.15" text-anchor="middle">10<tspan font-size="6.6" dy="-3.6">3</tspan></text><text x="205.4" y="255.7" font-size="8" fill="#1e1e1e" stroke="#1e1e1e" stroke-width="0.15" text-anchor="middle" transform="rotate(-90 205.4 255.7)">10<tspan font-size="6.6" dy="-3.6">3</tspan></text><text x="345.2" y="354.3" font-size="8" fill="#1e1e1e" stroke="#1e1e1e" stroke-width="0.15" text-anchor="middle">10<tspan font-size="6.6" dy="-3.6">4</tspan></text><text x="205.4" y="226.6" font-size="8" fill="#1e1e1e" stroke="#1e1e1e" stroke-width="0.15" text-anchor="middle" transform="rotate(-90 205.4 226.6)">10<tspan font-size="6.6" dy="-3.6">4</tspan></text><rect x="251.1" y="264.8" width="35.0" height="39.4" fill="none" stroke="#8a8a8a" stroke-width="1.8"/><rect x="251.1" y="306.6" width="35.0" height="34.7" fill="none" stroke="#484848" stroke-width="1.8"/><text x="295.9" y="264.9" font-size="14.8" font-weight="bold" fill="#8c8c8c">A1</text><line x1="301.6" y1="269.7" x2="292.6" y2="277.9" stroke="#8c8c8c" stroke-width="2.1"/><polygon points="288.5,281.6 291.0,274.6 295.7,279.8" fill="#8c8c8c"/><text x="307.6" y="314.3" font-size="14.8" font-weight="bold" fill="#454545">A2</text><line x1="305.1" y1="318.1" x2="293.7" y2="324.0" stroke="#454545" stroke-width="2.1"/><polygon points="288.8,326.5 293.0,320.4 296.2,326.6" fill="#454545"/><text x="342.8" y="223.6" font-size="14.5" font-weight="bold" text-anchor="end" fill="#000">Thrombin</text><text x="278.0" y="366.0" font-size="13" font-weight="bold" text-anchor="middle" fill="#000">FITC – anti-P-selectin</text><g transform="scale(0.5)" filter="url(#bl)" stroke-width="2" fill="none"><path d="M1014 455h2m-2 5h2m-262 1h2m144 37h2m-90 23h2m15 1h2m183 3h2m-2 2h2m-231 3h2m114 16h2m111 0h2m-167 13h2m163 0h2m-2 5h2m-157 1h2m10 0h2m-3 2h2m-8 1h2m6 1h2m140 0h2m-162 1h2m38 0h2m-15 1h2m-34 1h2m32 0h2m-29 2h2m39 0h2m-18 1h2m-101 2h2m67 0h2m0 0h2m6 0h2m-7 1h2m-34 1h2m33 0h2m30 0h2m-20 1h2m25 0h2m-108 1h2m43 0h2m2 0h2m44 1h2m1 0h2m7 0h2m-52 1h2m-13 1h2m14 0h2m-14 2h2m43 0h2m-59 1h2m180 1h2m-123 1h2m-57 1h2m52 0h2m-69 1h2m-52 2h2m59 0h2m-6 2h2m57 0h2m-1 1h2m4 0h2m20 0h2m-143 3h2m46 0h2m-12 1h2m5 0h2m87 0h2m-85 1h2m-40 2h2m220 1h2m-253 1h2m55 1h2m9 0h2m63 0h2m-122 1h2m47 0h2m7 0h2m73 1h2m-80 1h2m66 2h2m-147 1h2m17 0h2m37 0h2m2 0h2m-23 1h2m30 0h2m-27 1h2m-19 1h2m2 1h2m31 0h2m86 0h2m-123 1h2m9 0h2m1 0h2m8 0h2m84 0h2m2 0h2m-90 1h2m77 0h2m8 0h2m-98 1h2m-5 1h2m9 0h2m3 0h2m101 0h2m-111 1h2m81 0h2m54 1h2m-204 1h2m6 0h2m48 0h2m86 0h2m-106 1h2m-44 1h2m19 0h2m120 0h2m34 0h2m-181 1h2m36 0h2m13 0h2m100 0h2m-144 1h2m36 0h2m101 0h2m-112 1h2m100 0h2m10 0h2m-147 1h2m42 0h2m-34 1h2m23 0h2m89 0h2m9 0h2m-109 1h2m215 0h2m-232 1h2m4 0h2m-16 1h2m-13 1h2m5 0h2m4 0h2m21 0h2m-40 1h2m37 0h2m-27 1h2m20 0h2m100 0h2m-1 0h2m-91 1h2m-15 1h2m97 0h2m6 0h2m2 0h2m0 0h2m-134 1h2m-25 1h2m23 1h2m134 1h2m-31 1h2m-129 1h2m1 0h2m7 0h2m-1 0h2m9 0h2m5 0h2m-7 1h2m21 0h2m-61 1h2m43 0h2m95 0h2m1 0h2m-142 1h2m17 0h2m4 0h2m102 0h2m0 0h2m3 0h2m-118 1h2m16 0h2m-2 1h2m24 0h2m61 0h2m-118 1h2m15 0h2m105 0h2m-126 1h2m131 0h2m-105 1h2m5 0h2m-38 1h2m1 0h2m11 1h2m22 0h2m-55 1h2m23 0h2m15 0h2m4 0h2m2 0h2m12 0h2m1 0h2m69 0h2m-116 1h2m37 0h2m190 0h2m-224 1h2m-41 1h2m55 0h2m75 0h2m-108 1h2m35 0h2m4 0h2m61 0h2m-116 1h2m30 0h2m14 0h2m11 0h2m-48 1h2m101 0h2m-86 1h2m8 0h2m83 0h2m-99 1h2m11 0h2m-57 2h2m22 0h2m54 1h2m41 0h2m0 0h2m-127 1h2m76 0h2m9 0h2m24 0h2m20 0h2m-91 1h2m6 0h2m13 0h2m22 0h2m-106 1h2m113 0h2m9 0h2m-101 1h2m75 0h2m-98 1h2m8 0h2m99 0h2m-67 1h2m12 0h2m11 0h2m26 0h2m10 0h2m-60 1h2m195 0h2m-264 1h2m67 0h2m4 0h2m17 0h2m42 0h2m0 0h2m-47 1h2m-54 1h2m2 0h2m28 0h2m48 0h2m-126 1h2m89 0h2m-38 1h2m40 0h2m24 1h2m-13 1h2m145 0h2m-2 1h2m-187 1h2m48 0h2m-104 2h2m74 0h2m-101 1h2m138 0h2" stroke="#ababab"/><path d="M853 572h2m14 3h2m-1 1h2m-4 2h2m-3 1h2m12 1h2m-7 1h2m3 0h2m-15 1h2m4 0h2m12 0h2m-28 1h2m3 0h2m10 0h2m-4 1h2m-23 1h2m5 0h2m-20 1h2m-1 0h2m1 0h2m18 0h2m9 0h2m-41 1h2m6 0h2m8 0h2m3 0h2m9 0h2m7 0h2m3 0h2m-35 1h2m-14 1h2m3 0h2m2 0h2m6 0h2m16 0h2m2 0h2m0 0h2m4 0h2m-25 1h2m-29 1h2m19 0h2m-22 1h2m38 0h2m-1 0h2m-42 1h2m12 0h2m14 0h2m-19 1h2m24 0h2m0 0h2m-40 1h2m31 0h2m11 0h2m-53 1h2m1 0h2m35 1h2m5 0h2m-52 1h2m0 0h2m6 0h2m-7 1h2m35 1h2m6 0h2m-71 1h2m6 0h2m10 0h2m2 0h2m44 0h2m2 0h2m2 0h2m-17 1h2m14 0h2m-1 0h2m-74 1h2m58 0h2m-1 0h2m3 0h2m3 0h2m-16 1h2m-1 0h2m-1 0h2m-69 1h2m73 0h2m-55 1h2m-4 1h2m44 0h2m6 0h2m-67 1h2m10 0h2m45 0h2m4 1h2m0 0h2m-7 1h2m1 0h2m6 0h2m-71 2h2m0 1h2m52 2h2m4 0h2m-69 2h2m-6 1h2m6 0h2m-24 1h2m14 0h2m60 0h2m3 0h2m0 0h2m-101 1h2m25 0h2m-24 1h2m18 0h2m68 1h2m0 0h2m-96 1h2m-2 1h2m1 0h2m6 0h2m7 0h2m85 0h2m-78 1h2m57 0h2m-88 1h2m0 0h2m12 0h2m1 0h2m-23 1h2m16 0h2m0 0h2m71 0h2m-115 2h2m21 0h2m13 1h2m74 0h2m-73 1h2m79 0h2m-81 1h2m63 0h2m-86 1h2m1 0h2m3 0h2m7 0h2m-48 1h2m17 0h2m17 0h2m0 0h2m4 0h2m2 0h2m78 0h2m-112 1h2m-5 1h2m5 0h2m17 0h2m69 0h2m-100 1h2m-3 1h2m3 0h2m18 0h2m-12 1h2m73 0h2m5 0h2m4 0h2m-132 1h2m0 0h2m25 0h2m10 0h2m-1 0h2m77 0h2m0 0h2m9 0h2m-85 1h2m76 0h2m5 0h2m-101 1h2m11 0h2m69 0h2m4 0h2m7 0h2m-97 1h2m-1 0h2m1 0h2m2 0h2m-1 0h2m2 0h2m1 0h2m-3 1h2m60 0h2m-82 1h2m-1 0h2m-10 1h2m13 0h2m2 0h2m2 0h2m73 0h2m-98 1h2m4 0h2m16 0h2m-1 0h2m7 0h2m57 0h2m-91 1h2m10 0h2m-30 1h2m3 0h2m4 0h2m14 0h2m10 0h2m-43 1h2m14 0h2m15 0h2m4 0h2m-1 0h2m1 0h2m-22 1h2m3 1h2m77 0h2m-104 1h2m4 0h2m89 1h2m2 0h2m1 0h2m-128 1h2m114 0h2m11 0h2m-88 1h2m22 0h2m5 0h2m36 0h2m5 0h2m-56 1h2m2 0h2m-4 1h2m12 0h2m14 0h2m2 0h2m8 0h2m9 0h2m-14 1h2m6 0h2m-79 1h2m3 0h2m11 0h2m12 0h2m1 0h2m-1 0h2m35 0h2m-76 1h2m54 0h2m10 0h2m-35 1h2m8 0h2m3 0h2m2 0h2m2 0h2m5 1h2m-35 1h2m5 0h2m-39 2h2m26 0h2m23 0h2m1 0h2m2 0h2m0 0h2m-1 0h2m-28 1h2m-1 0h2m16 0h2m1 0h2m2 0h2m0 0h2m-38 1h2m-1 0h2m26 0h2m-39 1h2m2 0h2m25 0h2m-1 0h2m-40 1h2m33 1h2m-38 1h2m-3 1h2m20 0h2m10 0h2m17 0h2m-2 1h2m-24 1h2m5 1h2" stroke="#9c9c9c"/><path d="M868 583h2m4 0h2m-2 2h2m0 0h2m-6 1h2m-8 1h2m2 0h2m-22 1h2m22 0h2m-1 0h2m-22 1h2m0 0h2m12 0h2m-1 0h2m3 0h2m-28 1h2m14 0h2m-29 1h2m6 0h2m15 0h2m1 0h2m7 0h2m0 0h2m-1 0h2m-24 1h2m8 0h2m6 0h2m-38 1h2m5 0h2m6 0h2m9 0h2m17 0h2m4 0h2m-49 1h2m6 0h2m-1 0h2m9 0h2m10 0h2m-12 1h2m0 0h2m3 0h2m3 0h2m-35 1h2m2 0h2m-1 0h2m0 0h2m9 0h2m6 0h2m9 0h2m3 0h2m-41 1h2m8 0h2m14 0h2m-1 0h2m1 0h2m5 0h2m0 0h2m-35 1h2m0 0h2m-1 0h2m13 0h2m4 0h2m4 0h2m-17 1h2m-1 0h2m15 0h2m3 0h2m-28 1h2m8 0h2m-1 0h2m-30 1h2m0 0h2m25 0h2m-36 1h2m5 0h2m24 0h2m-34 1h2m0 0h2m30 0h2m-35 1h2m-1 0h2m0 0h2m-1 0h2m27 0h2m-39 1h2m38 2h2m-41 1h2m44 0h2m-9 1h2m-1 1h2m1 0h2m0 0h2m1 0h2m-7 1h2m-2 1h2m-47 1h2m40 0h2m3 0h2m-57 1h2m49 0h2m-54 1h2m46 0h2m2 0h2m0 0h2m-1 0h2m-53 1h2m49 0h2m2 0h2m-60 1h2m1 0h2m42 0h2m-49 1h2m-2 1h2m0 0h2m54 1h2m-61 1h2m46 0h2m3 0h2m-3 1h2m-67 1h2m5 0h2m2 0h2m1 0h2m49 0h2m-58 1h2m1 0h2m57 0h2m-68 1h2m0 0h2m-5 1h2m2 0h2m60 0h2m-62 1h2m0 0h2m52 0h2m-60 1h2m1 0h2m54 0h2m-86 1h2m23 0h2m6 0h2m-9 1h2m-1 0h2m4 0h2m52 0h2m-61 1h2m58 0h2m-64 2h2m6 0h2m48 0h2m-1 0h2m1 0h2m1 0h2m-8 1h2m-1 0h2m-67 1h2m61 0h2m-74 1h2m3 0h2m7 0h2m57 0h2m-87 2h2m20 0h2m1 0h2m1 0h2m49 0h2m0 0h2m-66 1h2m5 0h2m3 0h2m-10 1h2m11 0h2m47 0h2m-79 1h2m15 0h2m-1 0h2m53 1h2m-56 1h2m0 0h2m-1 0h2m1 0h2m-1 0h2m-1 0h2m41 0h2m-55 1h2m3 0h2m47 1h2m-1 0h2m-47 1h2m43 0h2m-48 1h2m0 0h2m-4 1h2m41 0h2m2 0h2m-43 1h2m0 1h2m-12 1h2m1 0h2m0 0h2m-5 1h2m5 0h2m-1 0h2m-1 0h2m-1 0h2m6 0h2m12 0h2m7 0h2m1 0h2m-47 1h2m41 0h2m-44 1h2m12 0h2m30 0h2m-11 1h2m6 0h2m-48 1h2m14 0h2m5 0h2m8 0h2m0 0h2m4 0h2m4 0h2m-1 0h2m-37 1h2m1 0h2m1 0h2m2 0h2m8 0h2m4 0h2m-31 1h2m11 0h2m7 0h2m5 0h2m6 0h2m-38 1h2m0 0h2m2 0h2m3 0h2m4 0h2m-10 1h2m-1 0h2m6 0h2m-26 1h2m-1 0h2m15 0h2m11 0h2m-1 0h2m4 0h2m-32 1h2m10 0h2m-22 1h2" stroke="#8e8e8e"/><path d="M871 592h2m-12 1h2m5 0h2m-18 2h2m7 0h2m0 0h2m-12 1h2m-1 0h2m6 0h2m0 0h2m-1 0h2m0 0h2m6 0h2m-18 1h2m-1 0h2m2 0h2m0 0h2m1 0h2m-10 1h2m5 0h2m-10 1h2m-11 1h2m19 0h2m-13 1h2m1 0h2m-16 1h2m5 0h2m0 0h2m5 0h2m-11 1h2m3 0h2m-1 0h2m-10 1h2m0 0h2m10 0h2m2 0h2m0 0h2m-1 0h2m-25 1h2m3 0h2m6 0h2m-1 0h2m-24 1h2m16 0h2m-1 0h2m2 0h2m-26 1h2m1 0h2m12 0h2m-19 1h2m2 0h2m2 0h2m13 0h2m5 0h2m0 0h2m-1 0h2m-28 1h2m24 1h2m-1 0h2m0 1h2m-1 0h2m-45 1h2m2 0h2m2 0h2m-1 0h2m24 0h2m2 0h2m-39 1h2m3 0h2m-13 1h2m39 0h2m1 0h2m-41 1h2m41 0h2m-49 1h2m42 0h2m-43 1h2m-1 0h2m38 0h2m4 0h2m-14 1h2m3 0h2m-48 1h2m46 0h2m3 1h2m-51 1h2m41 0h2m-45 1h2m40 0h2m2 0h2m-49 1h2m1 0h2m38 0h2m-1 0h2m0 0h2m-44 1h2m41 0h2m-50 1h2m3 0h2m-9 1h2m3 0h2m0 0h2m-7 1h2m1 0h2m39 0h2m0 0h2m-1 0h2m-43 1h2m40 0h2m-50 1h2m1 0h2m-7 1h2m4 0h2m0 0h2m39 0h2m-1 0h2m-46 1h2m41 0h2m1 0h2m-47 1h2m44 0h2m-7 1h2m-50 1h2m1 0h2m2 0h2m40 0h2m-52 1h2m3 0h2m47 0h2m-57 1h2m1 0h2m5 0h2m37 0h2m4 0h2m-57 1h2m2 0h2m-1 0h2m41 0h2m-47 1h2m2 0h2m-1 0h2m35 0h2m-45 1h2m8 0h2m31 0h2m-44 1h2m5 0h2m-1 0h2m-9 1h2m1 0h2m37 0h2m-43 1h2m2 0h2m36 0h2m-37 2h2m-1 0h2m3 0h2m29 0h2m-1 0h2m-46 1h2m-1 0h2m-1 0h2m6 0h2m24 0h2m4 0h2m-39 1h2m0 0h2m0 0h2m1 0h2m20 0h2m-1 0h2m-1 0h2m2 0h2m-1 0h2m0 0h2m-43 2h2m5 0h2m-1 0h2m24 0h2m-37 1h2m-1 0h2m3 0h2m0 0h2m29 0h2m-21 1h2m7 0h2m-1 0h2m-1 0h2m5 0h2m-34 1h2m5 0h2m19 0h2m2 0h2m1 0h2m-42 1h2m17 0h2m3 0h2m1 0h2m7 0h2m1 0h2m-38 1h2m2 0h2m17 0h2m6 0h2m4 0h2m-36 1h2m-1 0h2m7 0h2m1 0h2m9 0h2m4 0h2m-26 1h2m2 0h2m-1 0h2m3 0h2m1 0h2m5 0h2m0 0h2m-21 1h2m2 0h2m1 0h2m5 0h2m-24 1h2m0 0h2" stroke="#808080"/><path d="M864 598h2m-4 2h2m-2 1h2m2 3h2m-12 1h2m-1 0h2m4 0h2m-14 1h2m0 0h2m0 0h2m0 0h2m0 0h2m1 0h2m6 0h2m-1 0h2m0 0h2m0 0h2m0 0h2m-25 1h2m3 0h2m-1 0h2m0 0h2m4 0h2m0 0h2m-1 0h2m-1 0h2m0 0h2m-22 1h2m-1 0h2m-1 0h2m0 0h2m1 0h2m-1 0h2m-1 0h2m-1 0h2m9 0h2m-27 1h2m1 0h2m-1 0h2m3 0h2m1 0h2m5 0h2m2 0h2m2 0h2m-31 1h2m3 0h2m5 0h2m-1 0h2m-1 0h2m3 0h2m3 0h2m0 0h2m-1 0h2m-1 0h2m1 0h2m-35 1h2m5 0h2m-1 0h2m1 0h2m-1 0h2m-1 0h2m2 0h2m7 0h2m0 0h2m-1 0h2m-1 0h2m-29 1h2m3 0h2m-1 0h2m-1 0h2m1 0h2m5 0h2m3 0h2m-1 0h2m2 0h2m-31 1h2m2 0h2m-1 0h2m3 0h2m3 0h2m0 0h2m-1 0h2m-1 0h2m-1 0h2m-26 1h2m0 0h2m0 0h2m-1 0h2m0 0h2m-1 0h2m-1 0h2m-1 0h2m3 0h2m-1 0h2m2 0h2m0 0h2m-1 0h2m1 0h2m3 0h2m-34 1h2m2 0h2m2 0h2m-1 0h2m0 0h2m0 0h2m-1 0h2m1 0h2m-1 0h2m0 0h2m1 0h2m0 0h2m-1 0h2m1 0h2m0 0h2m-35 1h2m-1 0h2m-1 0h2m-1 0h2m-1 0h2m3 0h2m1 0h2m3 0h2m4 0h2m0 0h2m-1 0h2m-1 0h2m1 0h2m0 0h2m0 0h2m-36 1h2m0 0h2m2 0h2m-1 0h2m0 0h2m1 0h2m-1 0h2m-1 0h2m-1 0h2m-1 0h2m0 0h2m3 0h2m0 0h2m0 0h2m1 0h2m-1 0h2m1 0h2m-40 1h2m1 0h2m2 0h2m1 0h2m1 0h2m0 0h2m3 0h2m0 0h2m0 0h2m3 0h2m0 0h2m-1 0h2m-1 0h2m-1 0h2m-1 0h2m1 0h2m-1 0h2m-1 0h2m-37 1h2m0 0h2m2 0h2m-1 0h2m-1 0h2m-1 0h2m-1 0h2m1 0h2m-1 0h2m2 0h2m-1 0h2m0 0h2m-23 1h2m-1 0h2m0 0h2m2 0h2m3 0h2m-1 0h2m0 0h2m-1 0h2m2 0h2m-1 0h2m2 0h2m0 0h2m4 0h2m1 0h2m-39 1h2m-1 0h2m1 0h2m2 0h2m0 0h2m-1 0h2m-1 0h2m-1 0h2m-1 0h2m-1 0h2m2 0h2m-1 0h2m0 0h2m-1 0h2m0 0h2m-1 0h2m0 0h2m-1 0h2m-1 0h2m-33 1h2m2 0h2m0 0h2m1 0h2m-1 0h2m-1 0h2m-1 0h2m5 0h2m4 0h2m3 0h2m1 0h2m-1 0h2m-35 1h2m-1 0h2m-1 0h2m3 0h2m1 0h2m0 0h2m-1 0h2m1 0h2m0 0h2m1 0h2m-1 0h2m-1 0h2m0 0h2m-1 0h2m0 0h2m2 0h2m-1 0h2m-1 0h2m-1 0h2m-39 1h2m0 0h2m2 0h2m0 0h2m0 0h2m-1 0h2m0 0h2m0 0h2m1 0h2m-1 0h2m6 0h2m2 0h2m-1 0h2m1 0h2m-1 0h2m0 0h2m0 0h2m-38 1h2m0 0h2m0 0h2m-1 0h2m-1 0h2m-1 0h2m0 0h2m0 0h2m4 0h2m2 0h2m-1 0h2m0 0h2m1 0h2m3 0h2m4 0h2m-1 0h2m-40 1h2m-1 0h2m0 0h2m-1 0h2m0 0h2m0 0h2m-1 0h2m-1 0h2m4 0h2m2 0h2m-1 0h2m-1 0h2m-1 0h2m-1 0h2m2 0h2m3 0h2m2 0h2m0 0h2m-39 1h2m0 0h2m2 0h2m0 0h2m4 0h2m0 0h2m1 0h2m7 0h2m-1 0h2m-1 0h2m2 0h2m-39 1h2m-1 0h2m-1 0h2m-1 0h2m-1 0h2m0 0h2m-1 0h2m-1 0h2m2 0h2m-1 0h2m1 0h2m-1 0h2m0 0h2m0 0h2m1 0h2m2 0h2m-1 0h2m-1 0h2m1 0h2m2 0h2m-36 1h2m1 0h2m-1 0h2m0 0h2m-1 0h2m1 0h2m1 0h2m0 0h2m-1 0h2m-1 0h2m0 0h2m-1 0h2m-1 0h2m2 0h2m8 0h2m-36 1h2m-1 0h2m0 0h2m-1 0h2m0 0h2m-1 0h2m0 0h2m-1 0h2m0 0h2m1 0h2m2 0h2m-1 0h2m-1 0h2m1 0h2m-1 0h2m0 0h2m-1 0h2m1 0h2m0 0h2m-40 1h2m0 0h2m0 0h2m0 0h2m1 0h2m-1 0h2m-1 0h2m-1 0h2m-1 0h2m-1 0h2m-1 0h2m-1 0h2m2 0h2m-1 0h2m0 0h2m-1 0h2m-1 0h2m2 0h2m-1 0h2m-1 0h2m1 0h2m-1 0h2m-1 0h2m-1 0h2m0 0h2m-42 1h2m0 0h2m4 0h2m0 0h2m-1 0h2m-1 0h2m-1 0h2m-1 0h2m-1 0h2m-1 0h2m-1 0h2m2 0h2m-1 0h2m0 0h2m-1 0h2m0 0h2m0 0h2m-1 0h2m0 0h2m4 0h2m1 0h2m-43 1h2m-1 0h2m-1 0h2m3 0h2m-1 0h2m0 0h2m0 0h2m1 0h2m-1 0h2m-1 0h2m-1 0h2m-1 0h2m0 0h2m-1 0h2m-1 0h2m3 0h2m-1 0h2m-1 0h2m-1 0h2m-1 0h2m-1 0h2m-1 0h2m1 0h2m-31 1h2m1 0h2m-1 0h2m0 0h2m-1 0h2m-1 0h2m-1 0h2m-1 0h2m-1 0h2m2 0h2m1 0h2m1 0h2m-1 0h2m1 0h2m1 0h2m-1 0h2m-41 1h2m3 0h2m-1 0h2m-1 0h2m1 0h2m-1 0h2m0 0h2m0 0h2m-1 0h2m-1 0h2m-1 0h2m0 0h2m-1 0h2m1 0h2m3 0h2m-1 0h2m1 0h2m0 0h2m0 0h2m-34 1h2m1 0h2m0 0h2m2 0h2m-1 0h2m-1 0h2m2 0h2m-1 0h2m0 0h2m-1 0h2m-1 0h2m0 0h2m4 0h2m1 0h2m-1 0h2m-1 0h2m-38 1h2m5 0h2m1 0h2m1 0h2m1 0h2m1 0h2m-1 0h2m-1 0h2m1 0h2m2 0h2m-1 0h2m0 0h2m4 0h2m-39 1h2m-1 0h2m-1 0h2m-1 0h2m0 0h2m-1 0h2m2 0h2m-1 0h2m-1 0h2m-1 0h2m1 0h2m0 0h2m-1 0h2m-1 0h2m3 0h2m1 0h2m3 0h2m-1 0h2m2 0h2m-36 1h2m-1 0h2m6 0h2m0 0h2m-1 0h2m0 0h2m-1 0h2m0 0h2m0 0h2m1 0h2m0 0h2m0 0h2m-1 0h2m3 0h2m-34 1h2m4 0h2m2 0h2m1 0h2m0 0h2m1 0h2m5 0h2m0 0h2m-29 1h2m0 0h2m0 0h2m-1 0h2m-1 0h2m0 0h2m-1 0h2m-1 0h2m1 0h2m0 0h2m-1 0h2m3 0h2m-1 0h2m-1 0h2m-1 0h2m0 0h2m-26 1h2m0 0h2m4 0h2m2 0h2m-1 0h2m-1 0h2m-1 0h2m-1 0h2m1 0h2m-1 0h2m-1 0h2m2 0h2m-1 0h2m-30 1h2m0 0h2m-1 0h2m3 0h2m0 0h2m-1 0h2m-1 0h2m2 0h2m-1 0h2m0 0h2m1 0h2m4 0h2m-1 0h2m-1 0h2m-35 1h2m9 0h2m1 0h2m-1 0h2m0 0h2m-1 0h2m-1 0h2m-1 0h2m0 0h2m1 0h2m-1 0h2m-1 0h2m0 0h2m-1 0h2m0 0h2m-33 1h2m1 0h2m0 0h2m0 0h2m-1 0h2m1 0h2m-1 0h2m8 0h2m2 0h2m-1 0h2m-1 0h2m-22 1h2m-1 0h2m-1 0h2m0 0h2m-1 0h2m-1 0h2m7 0h2m-1 0h2m-19 1h2m0 0h2m5 0h2m-1 0h2m0 0h2m1 0h2m-1 0h2m-1 0h2m3 0h2m0 0h2m-23 1h2m1 0h2m0 0h2m1 0h2m-1 0h2m2 0h2m-17 1h2m2 0h2m1 0h2m2 0h2m-1 0h2m-1 0h2m1 0h2m4 0h2m-22 1h2m1 0h2m2 0h2m3 0h2m-13 1h2m2 0h2m2 0h2m-1 0h2m-1 0h2m-7 1h2m1 1h2" stroke="#727272"/></g><rect x="375.9" y="226.5" width="135.0" height="116.4" fill="none" stroke="#9c9c9c" stroke-width="1"/><line x1="375.9" y1="226.5" x2="375.9" y2="343.4" stroke="#858585" stroke-width="1"/><line x1="375.4" y1="342.9" x2="510.9" y2="342.9" stroke="#858585" stroke-width="1"/><path d="M374.4 342.9h1.5M375.9 342.9v1.5M374.9 334.1h1.0M386.1 342.9v1.0M374.9 329.0h1.0M392.0 342.9v1.0M374.9 325.4h1.0M396.2 342.9v1.0M374.9 322.6h1.0M399.5 342.9v1.0M374.9 320.3h1.0M402.2 342.9v1.0M374.9 318.3h1.0M404.4 342.9v1.0M374.9 316.6h1.0M406.4 342.9v1.0M374.9 315.1h1.0M408.1 342.9v1.0M374.4 313.8h1.5M409.6 342.9v1.5M374.9 305.0h1.0M419.8 342.9v1.0M374.9 299.9h1.0M425.8 342.9v1.0M374.9 296.3h1.0M430.0 342.9v1.0M374.9 293.5h1.0M433.2 342.9v1.0M374.9 291.2h1.0M435.9 342.9v1.0M374.9 289.2h1.0M438.2 342.9v1.0M374.9 287.5h1.0M440.1 342.9v1.0M374.9 286.0h1.0M441.9 342.9v1.0M374.4 284.7h1.5M443.4 342.9v1.5M374.9 275.9h1.0M453.6 342.9v1.0M374.9 270.8h1.0M459.5 342.9v1.0M374.9 267.2h1.0M463.7 342.9v1.0M374.9 264.4h1.0M467.0 342.9v1.0M374.9 262.1h1.0M469.7 342.9v1.0M374.9 260.1h1.0M471.9 342.9v1.0M374.9 258.4h1.0M473.9 342.9v1.0M374.9 256.9h1.0M475.6 342.9v1.0M374.4 255.6h1.5M477.1 342.9v1.5M374.9 246.8h1.0M487.3 342.9v1.0M374.9 241.7h1.0M493.3 342.9v1.0M374.9 238.1h1.0M497.5 342.9v1.0M374.9 235.3h1.0M500.7 342.9v1.0M374.9 233.0h1.0M503.4 342.9v1.0M374.9 231.0h1.0M505.7 342.9v1.0M374.9 229.3h1.0M507.6 342.9v1.0M374.9 227.8h1.0M509.4 342.9v1.0" stroke="#777" stroke-width="0.7"/><text x="409.9" y="354.1" font-size="8" fill="#1e1e1e" stroke="#1e1e1e" stroke-width="0.15" text-anchor="middle">10<tspan font-size="6.6" dy="-3.6">1</tspan></text><text x="371.5" y="313.8" font-size="8" fill="#1e1e1e" stroke="#1e1e1e" stroke-width="0.15" text-anchor="middle" transform="rotate(-90 371.5 313.8)">10<tspan font-size="6.6" dy="-3.6">1</tspan></text><text x="443.7" y="354.1" font-size="8" fill="#1e1e1e" stroke="#1e1e1e" stroke-width="0.15" text-anchor="middle">10<tspan font-size="6.6" dy="-3.6">2</tspan></text><text x="371.5" y="284.7" font-size="8" fill="#1e1e1e" stroke="#1e1e1e" stroke-width="0.15" text-anchor="middle" transform="rotate(-90 371.5 284.7)">10<tspan font-size="6.6" dy="-3.6">2</tspan></text><text x="477.4" y="354.1" font-size="8" fill="#1e1e1e" stroke="#1e1e1e" stroke-width="0.15" text-anchor="middle">10<tspan font-size="6.6" dy="-3.6">3</tspan></text><text x="371.5" y="255.6" font-size="8" fill="#1e1e1e" stroke="#1e1e1e" stroke-width="0.15" text-anchor="middle" transform="rotate(-90 371.5 255.6)">10<tspan font-size="6.6" dy="-3.6">3</tspan></text><text x="511.2" y="354.1" font-size="8" fill="#1e1e1e" stroke="#1e1e1e" stroke-width="0.15" text-anchor="middle">10<tspan font-size="6.6" dy="-3.6">4</tspan></text><text x="371.5" y="226.5" font-size="8" fill="#1e1e1e" stroke="#1e1e1e" stroke-width="0.15" text-anchor="middle" transform="rotate(-90 371.5 226.5)">10<tspan font-size="6.6" dy="-3.6">4</tspan></text><rect x="417.1" y="264.8" width="34.6" height="39.4" fill="none" stroke="#8a8a8a" stroke-width="1.8"/><rect x="417.1" y="307.2" width="34.6" height="34.1" fill="none" stroke="#484848" stroke-width="1.8"/><text x="461.8" y="264.9" font-size="14.8" font-weight="bold" fill="#8c8c8c">A1</text><line x1="468.0" y1="269.7" x2="458.9" y2="277.9" stroke="#8c8c8c" stroke-width="2.1"/><polygon points="454.8,281.6 457.3,274.6 462.0,279.8" fill="#8c8c8c"/><text x="473.9" y="314.3" font-size="14.8" font-weight="bold" fill="#454545">A2</text><line x1="470.9" y1="318.1" x2="459.1" y2="324.0" stroke="#454545" stroke-width="2.1"/><polygon points="454.2,326.5 458.4,320.5 461.6,326.7" fill="#454545"/><text x="507.6" y="223.5" font-size="14.5" font-weight="bold" text-anchor="end" fill="#000">Thrombin + Cvx</text><text x="444.0" y="366.0" font-size="13" font-weight="bold" text-anchor="middle" fill="#000">FITC – anti-P-selectin</text><g transform="scale(0.5)" filter="url(#bl)" stroke-width="2" fill="none"><path d="M298 834h2m-9 33h2m-171 10h2m43 33h2m24 1h2m-46 2h2m18 0h2m-9 2h2m-27 2h2m4 1h2m28 0h2m-19 1h2m3 0h2m-35 1h2m1 0h2m7 0h2m70 0h2m-79 1h2m19 0h2m3 1h2m-18 1h2m24 0h2m-8 1h2m7 1h2m-65 2h2m6 0h2m74 0h2m27 0h2m-53 2h2m21 0h2m-81 1h2m0 0h2m54 1h2m6 0h2m5 0h2m-7 1h2m-11 5h2m-68 1h2m63 0h2m1 0h2m2 0h2m-84 2h2m0 0h2m79 0h2m-12 1h2m9 0h2m-88 4h2m-3 2h2m80 3h2m-84 2h2m76 3h2m-1 0h2m-81 1h2m79 1h2m-83 2h2m67 3h2m-2 1h2m6 1h2m-7 1h2m-6 4h2m136 1h2m-152 1h2m7 0h2m-66 2h2m63 0h2m-5 3h2m6 0h2m2 4h2m-26 1h2m2 0h2m2 0h2m5 0h2m-67 1h2m56 1h2m-2 1h2m12 0h2m-69 1h2m-8 1h2m39 0h2m5 0h2m-49 1h2m55 0h2m102 0h2m-158 1h2m54 0h2m85 0h2m-145 1h2m28 0h2m-1 1h2m144 0h2m-164 1h2m30 0h2m-47 1h2m4 0h2m25 0h2m9 0h2m-52 1h2m2 0h2m161 0h2m-156 1h2m7 0h2m2 0h2m35 0h2m87 1h2m47 0h2m-189 1h2m40 0h2m-47 1h2m26 0h2m-23 1h2m26 0h2m48 1h2m-85 1h2m15 0h2m5 0h2m12 0h2m-53 1h2m38 0h2m-21 1h2m33 1h2m-49 2h2m10 0h2m-8 1h2m14 0h2m22 0h2m-55 1h2m7 0h2m16 0h2m9 1h2m60 0h2m-51 1h2m3 0h2m12 0h2m162 0h2m-230 1h2m23 0h2m1 1h2m-23 1h2m17 0h2m-20 1h2m4 0h2m0 0h2m8 0h2m-26 1h2m53 0h2m132 0h2m-202 1h2m18 0h2m9 1h2m16 0h2m6 0h2m-49 1h2m5 0h2m188 0h2m-168 1h2m163 0h2m-158 1h2m-49 1h2m24 0h2m7 0h2m199 0h2m-180 1h2m-42 1h2m0 0h2m22 0h2m170 0h2m20 0h2m-239 1h2m19 0h2m1 0h2m1 1h2m16 0h2m-36 1h2m10 0h2m-29 1h2m6 0h2m11 0h2m193 0h2m-218 1h2m34 0h2m-23 1h2m59 0h2m-43 1h2m-1 0h2m6 0h2m-36 2h2m1 0h2m32 0h2m-49 1h2m33 0h2m-14 1h2m0 0h2m19 0h2m-28 1h2m0 0h2m24 0h2m-3 2h2m6 0h2m-8 1h2m56 0h2m-90 3h2m11 0h2m6 2h2m-10 1h2m30 1h2m-66 1h2m44 0h2m117 1h2m-88 1h2m-47 1h2m-4 1h2m14 0h2m57 2h2m-72 2h2m-1 0h2m-1 0h2m18 1h2m5 0h2" stroke="#ababab"/><path d="M160 919h2m-18 1h2m12 2h2m-14 1h2m-6 1h2m2 1h2m-8 1h2m-14 1h2m6 0h2m21 0h2m3 0h2m-45 1h2m8 0h2m8 0h2m17 0h2m7 0h2m-27 1h2m-21 1h2m37 0h2m6 0h2m-54 1h2m6 0h2m-15 1h2m47 0h2m3 0h2m2 0h2m-10 1h2m10 0h2m-60 1h2m51 1h2m-4 2h2m5 0h2m-65 2h2m0 0h2m-15 1h2m1 0h2m62 1h2m-67 1h2m66 0h2m-2 2h2m-67 1h2m-5 1h2m65 0h2m0 1h2m4 2h2m-4 1h2m-79 2h2m67 1h2m-69 1h2m63 0h2m-6 1h2m-67 2h2m72 0h2m-13 1h2m9 0h2m-76 1h2m72 0h2m-9 1h2m-1 1h2m-6 1h2m-64 1h2m-3 1h2m57 2h2m-1 0h2m-62 1h2m-5 3h2m4 0h2m49 1h2m4 0h2m-64 1h2m2 0h2m45 0h2m-4 1h2m2 0h2m-53 1h2m0 0h2m41 1h2m1 0h2m-51 1h2m-1 0h2m46 0h2m-1 0h2m-42 2h2m1 0h2m21 0h2m-1 0h2m4 0h2m6 0h2m5 0h2m-46 1h2m22 0h2m3 0h2m3 0h2m-2 1h2m-51 1h2m40 0h2m-38 1h2m4 0h2m1 0h2m19 0h2m2 0h2m-41 1h2m23 0h2m27 0h2m-43 1h2m27 0h2m-35 1h2m9 0h2m16 0h2m0 0h2m-42 1h2m14 0h2m36 0h2m-53 1h2m4 0h2m12 0h2m-16 1h2m8 0h2m18 0h2m-15 2h2m2 0h2m-1 0h2m-17 1h2m18 0h2m-1 1h2m-11 1h2m-18 2h2m9 0h2m14 0h2m-11 2h2m11 0h2m-23 4h2m24 2h2m0 2h2m-51 1h2m8 0h2m-9 4h2m-1 1h2m7 0h2m6 3h2m-3 4h2m-2 7h2m-10 3h2m26 5h2m1 0h2m-37 2h2" stroke="#9c9c9c"/><path d="M160 923h2m-11 3h2m5 0h2m-14 1h2m15 0h2m-31 1h2m0 0h2m9 0h2m-1 0h2m11 0h2m-15 1h2m6 0h2m-1 0h2m3 0h2m-32 1h2m4 0h2m2 0h2m10 0h2m0 0h2m0 0h2m-29 1h2m7 0h2m6 0h2m-1 0h2m2 0h2m2 0h2m-1 0h2m11 0h2m-47 1h2m20 0h2m17 0h2m-31 1h2m19 0h2m-33 1h2m0 0h2m33 0h2m-43 1h2m42 0h2m-49 1h2m3 0h2m38 0h2m3 0h2m-49 1h2m1 0h2m45 0h2m-56 2h2m5 0h2m33 0h2m-1 0h2m-1 0h2m-52 3h2m-1 0h2m0 1h2m45 0h2m5 0h2m-69 1h2m3 0h2m-5 1h2m5 0h2m55 0h2m-64 1h2m-2 1h2m1 0h2m-1 0h2m-6 1h2m58 0h2m0 0h2m-63 2h2m56 0h2m-1 0h2m-5 2h2m-61 1h2m59 0h2m-1 0h2m-5 1h2m-65 2h2m0 0h2m0 1h2m50 0h2m-1 0h2m-57 1h2m52 0h2m-59 2h2m0 1h2m0 0h2m51 1h2m-1 0h2m-1 0h2m-9 2h2m4 0h2m-57 1h2m51 0h2m-11 1h2m8 0h2m-8 1h2m-51 1h2m47 1h2m-47 1h2m-11 1h2m9 0h2m-12 1h2m2 0h2m1 0h2m-2 1h2m3 0h2m-12 1h2m40 0h2m-1 0h2m1 0h2m-9 1h2m-36 1h2m25 2h2m-7 2h2m3 0h2m-16 1h2m-1 0h2m8 0h2m-12 1h2m5 0h2m4 1h2m-10 1h2m-1 0h2m3 0h2m-1 1h2" stroke="#8e8e8e"/><path d="M137 930h2m4 0h2m-11 1h2m0 0h2m9 0h2m1 0h2m-14 1h2m-1 0h2m-1 0h2m7 0h2m0 0h2m8 0h2m-29 1h2m14 0h2m-1 0h2m1 0h2m-22 1h2m0 0h2m16 0h2m-1 0h2m-1 0h2m-24 1h2m-1 0h2m-1 0h2m5 0h2m10 0h2m0 0h2m-31 1h2m-1 0h2m4 0h2m9 0h2m-1 0h2m9 0h2m-29 1h2m1 0h2m0 0h2m10 0h2m-25 1h2m35 0h2m1 0h2m-43 1h2m3 0h2m30 0h2m-43 1h2m-1 0h2m44 0h2m-48 1h2m42 0h2m-2 1h2m-49 1h2m1 0h2m-13 2h2m4 0h2m47 0h2m-3 1h2m1 0h2m-55 1h2m-1 0h2m-1 0h2m46 0h2m-54 1h2m50 0h2m0 0h2m-58 1h2m2 0h2m46 0h2m0 0h2m0 0h2m-62 1h2m0 0h2m54 1h2m-58 1h2m50 1h2m-53 1h2m0 0h2m-7 1h2m51 0h2m-4 1h2m-52 1h2m-3 1h2m0 0h2m-4 1h2m46 0h2m0 1h2m-51 1h2m0 0h2m43 0h2m-1 0h2m-50 1h2m44 0h2m2 0h2m-54 1h2m1 0h2m39 0h2m2 0h2m2 0h2m-5 1h2m-1 0h2m-49 1h2m37 0h2m4 0h2m-51 1h2m3 0h2m-7 1h2m3 0h2m-2 1h2m0 0h2m-1 0h2m30 0h2m3 1h2m-43 1h2m0 0h2m30 0h2m0 0h2m-33 1h2m0 0h2m-3 1h2m-1 1h2m-1 1h2m-1 0h2m9 0h2m1 0h2m0 0h2m4 0h2m-29 1h2m1 0h2m15 0h2m-1 0h2m-1 0h2m1 0h2m-18 1h2m-1 1h2m-1 0h2m0 0h2m3 0h2m-13 1h2m8 0h2m-15 1h2m3 0h2m0 0h2m-3 1h2m1 0h2m-1 0h2m-10 1h2m2 0h2" stroke="#808080"/><path d="M153 933h2m-2 2h2m-18 1h2m5 0h2m-1 0h2m3 0h2m-1 0h2m-1 0h2m-1 0h2m-1 0h2m0 0h2m-21 1h2m-1 0h2m4 0h2m4 0h2m-25 1h2m5 0h2m0 0h2m1 0h2m4 0h2m-1 0h2m5 0h2m-1 0h2m1 0h2m0 0h2m0 0h2m-33 1h2m0 0h2m7 0h2m0 0h2m-1 0h2m-1 0h2m2 0h2m0 0h2m-1 0h2m-1 0h2m0 0h2m0 0h2m-20 1h2m-1 0h2m0 0h2m1 0h2m1 0h2m1 0h2m-1 0h2m-1 0h2m1 0h2m4 0h2m-37 1h2m1 0h2m0 0h2m0 0h2m0 0h2m-1 0h2m-1 0h2m2 0h2m-1 0h2m0 0h2m3 0h2m2 0h2m-1 0h2m1 0h2m-36 1h2m5 0h2m-1 0h2m-1 0h2m1 0h2m0 0h2m-1 0h2m-1 0h2m-1 0h2m-1 0h2m0 0h2m-1 0h2m-1 0h2m0 0h2m0 0h2m-1 0h2m4 0h2m0 0h2m0 0h2m-41 1h2m0 0h2m1 0h2m-1 0h2m-1 0h2m-1 0h2m-1 0h2m-1 0h2m0 0h2m-1 0h2m1 0h2m0 0h2m0 0h2m-1 0h2m0 0h2m0 0h2m-1 0h2m1 0h2m3 0h2m2 0h2m-1 0h2m-1 0h2m-40 1h2m1 0h2m1 0h2m-1 0h2m0 0h2m0 0h2m4 0h2m0 0h2m-1 0h2m-1 0h2m0 0h2m0 0h2m0 0h2m-1 0h2m-1 0h2m-1 0h2m-1 0h2m1 0h2m-1 0h2m-1 0h2m-1 0h2m-43 1h2m1 0h2m-1 0h2m-1 0h2m3 0h2m-1 0h2m-1 0h2m-1 0h2m0 0h2m2 0h2m-1 0h2m0 0h2m0 0h2m-1 0h2m-1 0h2m-1 0h2m3 0h2m1 0h2m-1 0h2m-1 0h2m-1 0h2m4 0h2m-52 1h2m4 0h2m0 0h2m2 0h2m-1 0h2m0 0h2m1 0h2m-1 0h2m-1 0h2m0 0h2m-1 0h2m2 0h2m1 0h2m1 0h2m-1 0h2m-1 0h2m-1 0h2m2 0h2m0 0h2m-1 0h2m-1 0h2m0 0h2m-1 0h2m-1 0h2m-44 1h2m0 0h2m0 0h2m1 0h2m-1 0h2m-1 0h2m-1 0h2m-1 0h2m1 0h2m-1 0h2m0 0h2m-1 0h2m0 0h2m-1 0h2m1 0h2m-1 0h2m0 0h2m-1 0h2m1 0h2m-1 0h2m0 0h2m-1 0h2m0 0h2m-1 0h2m-1 0h2m-1 0h2m0 0h2m-1 0h2m-45 1h2m0 0h2m1 0h2m-1 0h2m-1 0h2m-1 0h2m0 0h2m3 0h2m0 0h2m2 0h2m-1 0h2m-1 0h2m-1 0h2m0 0h2m-1 0h2m-1 0h2m-1 0h2m-1 0h2m-1 0h2m2 0h2m4 0h2m-47 1h2m-1 0h2m1 0h2m-1 0h2m2 0h2m2 0h2m0 0h2m6 0h2m-1 0h2m-1 0h2m-1 0h2m-1 0h2m-1 0h2m0 0h2m0 0h2m-1 0h2m-1 0h2m-1 0h2m0 0h2m1 0h2m2 0h2m-47 1h2m2 0h2m0 0h2m-1 0h2m-1 0h2m0 0h2m-1 0h2m0 0h2m0 0h2m-1 0h2m0 0h2m-1 0h2m0 0h2m-1 0h2m0 0h2m-1 0h2m-1 0h2m-1 0h2m0 0h2m-1 0h2m-1 0h2m-1 0h2m-1 0h2m0 0h2m0 0h2m0 0h2m4 0h2m-1 0h2m-48 1h2m-1 0h2m1 0h2m0 0h2m-1 0h2m0 0h2m-1 0h2m-1 0h2m0 0h2m0 0h2m-1 0h2m-1 0h2m0 0h2m0 0h2m-1 0h2m1 0h2m-1 0h2m0 0h2m1 0h2m1 0h2m1 0h2m-1 0h2m1 0h2m-1 0h2m0 0h2m-49 1h2m4 0h2m-1 0h2m-1 0h2m1 0h2m-1 0h2m-1 0h2m0 0h2m-1 0h2m-1 0h2m0 0h2m-1 0h2m-1 0h2m0 0h2m1 0h2m-1 0h2m-1 0h2m-1 0h2m-1 0h2m-1 0h2m-1 0h2m0 0h2m1 0h2m1 0h2m-1 0h2m0 0h2m0 0h2m-1 0h2m-47 1h2m-1 0h2m-1 0h2m0 0h2m-1 0h2m0 0h2m0 0h2m-1 0h2m-1 0h2m0 0h2m-1 0h2m-1 0h2m0 0h2m-1 0h2m-1 0h2m-1 0h2m-1 0h2m1 0h2m-1 0h2m0 0h2m-1 0h2m0 0h2m-1 0h2m-1 0h2m-1 0h2m-1 0h2m2 0h2m2 0h2m-45 1h2m-1 0h2m2 0h2m-1 0h2m-1 0h2m0 0h2m0 0h2m0 0h2m-1 0h2m0 0h2m-1 0h2m-1 0h2m-1 0h2m-1 0h2m0 0h2m-1 0h2m-1 0h2m1 0h2m-1 0h2m-1 0h2m-1 0h2m-1 0h2m0 0h2m-1 0h2m-1 0h2m0 0h2m2 0h2m-1 0h2m-1 0h2m-1 0h2m-1 0h2m-49 1h2m2 0h2m1 0h2m-1 0h2m0 0h2m-1 0h2m-1 0h2m0 0h2m-1 0h2m1 0h2m-1 0h2m-1 0h2m1 0h2m-1 0h2m-1 0h2m-1 0h2m1 0h2m-1 0h2m-1 0h2m0 0h2m1 0h2m0 0h2m1 0h2m-1 0h2m3 0h2m-48 1h2m-1 0h2m3 0h2m1 0h2m0 0h2m-1 0h2m1 0h2m-1 0h2m0 0h2m2 0h2m1 0h2m-1 0h2m-1 0h2m-1 0h2m-1 0h2m-1 0h2m-1 0h2m-1 0h2m-1 0h2m-1 0h2m0 0h2m-1 0h2m-1 0h2m0 0h2m-43 1h2m1 0h2m0 0h2m-1 0h2m5 0h2m1 0h2m2 0h2m-1 0h2m-1 0h2m1 0h2m-1 0h2m-1 0h2m-1 0h2m-1 0h2m-1 0h2m-1 0h2m-1 0h2m-1 0h2m-1 0h2m-1 0h2m0 0h2m3 0h2m2 0h2m-1 0h2m-52 1h2m4 0h2m0 0h2m-1 0h2m-1 0h2m-1 0h2m1 0h2m-1 0h2m-1 0h2m-1 0h2m-1 0h2m-1 0h2m3 0h2m0 0h2m0 0h2m-1 0h2m-1 0h2m0 0h2m-1 0h2m1 0h2m0 0h2m-1 0h2m-1 0h2m-1 0h2m-1 0h2m-1 0h2m3 0h2m-50 1h2m1 0h2m0 0h2m0 0h2m0 0h2m1 0h2m-1 0h2m2 0h2m-1 0h2m1 0h2m-1 0h2m-1 0h2m0 0h2m1 0h2m-1 0h2m-1 0h2m-1 0h2m0 0h2m-1 0h2m-1 0h2m-1 0h2m-1 0h2m-1 0h2m-1 0h2m0 0h2m-42 1h2m2 0h2m-1 0h2m-1 0h2m3 0h2m0 0h2m-1 0h2m-1 0h2m-1 0h2m1 0h2m-1 0h2m2 0h2m0 0h2m-1 0h2m1 0h2m0 0h2m0 0h2m7 0h2m-1 0h2m-43 1h2m-1 0h2m2 0h2m0 0h2m-1 0h2m2 0h2m-1 0h2m-1 0h2m1 0h2m1 0h2m-1 0h2m-1 0h2m0 0h2m-1 0h2m-1 0h2m-1 0h2m1 0h2m0 0h2m1 0h2m-1 0h2m-39 1h2m-1 0h2m1 0h2m-1 0h2m5 0h2m0 0h2m-1 0h2m-1 0h2m0 0h2m-1 0h2m-1 0h2m-1 0h2m0 0h2m-1 0h2m-1 0h2m-1 0h2m-1 0h2m0 0h2m-1 0h2m0 0h2m-1 0h2m0 0h2m1 0h2m0 0h2m-42 1h2m5 0h2m0 0h2m1 0h2m0 0h2m0 0h2m-1 0h2m-1 0h2m-1 0h2m2 0h2m-1 0h2m0 0h2m0 0h2m-1 0h2m1 0h2m-1 0h2m-1 0h2m0 0h2m-42 1h2m2 0h2m0 0h2m-1 0h2m1 0h2m1 0h2m-1 0h2m-1 0h2m0 0h2m-1 0h2m-1 0h2m0 0h2m-1 0h2m0 0h2m-1 0h2m-1 0h2m-1 0h2m1 0h2m1 0h2m-1 0h2m-1 0h2m0 0h2m1 0h2m-1 0h2m0 0h2m-41 1h2m1 0h2m-1 0h2m1 0h2m-1 0h2m0 0h2m-1 0h2m2 0h2m-1 0h2m-1 0h2m-1 0h2m1 0h2m-1 0h2m1 0h2m1 0h2m-1 0h2m0 0h2m-1 0h2m-36 1h2m1 0h2m-1 0h2m3 0h2m2 0h2m-1 0h2m-1 0h2m0 0h2m0 0h2m-1 0h2m-1 0h2m0 0h2m-1 0h2m0 0h2m0 0h2m-1 0h2m-1 0h2m-1 0h2m-27 1h2m1 0h2m-1 0h2m3 0h2m-1 0h2m-1 0h2m2 0h2m-1 0h2m2 0h2m-1 0h2m-1 0h2m0 0h2m-1 0h2m-1 0h2m0 0h2m0 0h2m-36 1h2m5 0h2m-1 0h2m-1 0h2m0 0h2m-1 0h2m-1 0h2m1 0h2m-1 0h2m0 0h2m-1 0h2m-1 0h2m-1 0h2m1 0h2m-1 0h2m-1 0h2m-1 0h2m3 0h2m-29 1h2m-1 0h2m0 0h2m-1 0h2m-1 0h2m0 0h2m0 0h2m3 0h2m-1 0h2m0 0h2m1 0h2m0 0h2m-1 0h2m-30 1h2m4 0h2m0 0h2m1 0h2m0 0h2m9 0h2m-1 0h2m0 0h2m0 0h2m-25 1h2m3 0h2m-1 0h2m3 0h2m-1 0h2m2 0h2m0 0h2m-1 0h2m-1 0h2m0 0h2m-1 0h2m-1 0h2m-26 1h2m4 0h2m4 0h2m0 0h2m0 0h2m-1 0h2m0 0h2m-19 1h2m0 0h2m-1 0h2m-1 0h2m1 0h2m4 0h2m3 0h2m-20 1h2m0 0h2m-1 0h2m0 0h2m3 0h2m-1 0h2m-12 1h2m1 0h2m-1 0h2m-1 0h2m1 0h2m-14 1h2m0 0h2m-1 0h2m2 0h2m1 0h2m3 0h2m-17 1h2m2 0h2m10 0h2m-12 1h2m-5 1h2" stroke="#727272"/></g><rect x="48.3" y="414.5" width="130.9" height="112.7" fill="none" stroke="#9c9c9c" stroke-width="1"/><line x1="48.3" y1="414.5" x2="48.3" y2="527.7" stroke="#858585" stroke-width="1"/><line x1="47.8" y1="527.2" x2="179.2" y2="527.2" stroke="#858585" stroke-width="1"/><path d="M46.8 527.2h1.5M48.3 527.2v1.5M47.3 518.7h1.0M58.2 527.2v1.0M47.3 513.8h1.0M63.9 527.2v1.0M47.3 510.2h1.0M68.0 527.2v1.0M47.3 507.5h1.0M71.2 527.2v1.0M47.3 505.3h1.0M73.8 527.2v1.0M47.3 503.4h1.0M76.0 527.2v1.0M47.3 501.8h1.0M77.9 527.2v1.0M47.3 500.3h1.0M79.5 527.2v1.0M46.8 499.0h1.5M81.0 527.2v1.5M47.3 490.5h1.0M90.9 527.2v1.0M47.3 485.6h1.0M96.6 527.2v1.0M47.3 482.1h1.0M100.7 527.2v1.0M47.3 479.3h1.0M103.9 527.2v1.0M47.3 477.1h1.0M106.5 527.2v1.0M47.3 475.2h1.0M108.7 527.2v1.0M47.3 473.6h1.0M110.6 527.2v1.0M47.3 472.1h1.0M112.3 527.2v1.0M46.8 470.9h1.5M113.7 527.2v1.5M47.3 462.4h1.0M123.6 527.2v1.0M47.3 457.4h1.0M129.4 527.2v1.0M47.3 453.9h1.0M133.5 527.2v1.0M47.3 451.2h1.0M136.6 527.2v1.0M47.3 448.9h1.0M139.2 527.2v1.0M47.3 447.0h1.0M141.4 527.2v1.0M47.3 445.4h1.0M143.3 527.2v1.0M47.3 444.0h1.0M145.0 527.2v1.0M46.8 442.7h1.5M146.5 527.2v1.5M47.3 434.2h1.0M156.3 527.2v1.0M47.3 429.2h1.0M162.1 527.2v1.0M47.3 425.7h1.0M166.2 527.2v1.0M47.3 423.0h1.0M169.3 527.2v1.0M47.3 420.8h1.0M171.9 527.2v1.0M47.3 418.9h1.0M174.1 527.2v1.0M47.3 417.2h1.0M176.0 527.2v1.0M47.3 415.8h1.0M177.7 527.2v1.0" stroke="#777" stroke-width="0.7"/><text x="81.3" y="538.4" font-size="8" fill="#1e1e1e" stroke="#1e1e1e" stroke-width="0.15" text-anchor="middle">10<tspan font-size="6.6" dy="-3.6">1</tspan></text><text x="43.9" y="499.0" font-size="8" fill="#1e1e1e" stroke="#1e1e1e" stroke-width="0.15" text-anchor="middle" transform="rotate(-90 43.9 499.0)">10<tspan font-size="6.6" dy="-3.6">1</tspan></text><text x="114.0" y="538.4" font-size="8" fill="#1e1e1e" stroke="#1e1e1e" stroke-width="0.15" text-anchor="middle">10<tspan font-size="6.6" dy="-3.6">2</tspan></text><text x="43.9" y="470.9" font-size="8" fill="#1e1e1e" stroke="#1e1e1e" stroke-width="0.15" text-anchor="middle" transform="rotate(-90 43.9 470.9)">10<tspan font-size="6.6" dy="-3.6">2</tspan></text><text x="146.8" y="538.4" font-size="8" fill="#1e1e1e" stroke="#1e1e1e" stroke-width="0.15" text-anchor="middle">10<tspan font-size="6.6" dy="-3.6">3</tspan></text><text x="43.9" y="442.7" font-size="8" fill="#1e1e1e" stroke="#1e1e1e" stroke-width="0.15" text-anchor="middle" transform="rotate(-90 43.9 442.7)">10<tspan font-size="6.6" dy="-3.6">3</tspan></text><text x="179.5" y="538.4" font-size="8" fill="#1e1e1e" stroke="#1e1e1e" stroke-width="0.15" text-anchor="middle">10<tspan font-size="6.6" dy="-3.6">4</tspan></text><text x="43.9" y="414.5" font-size="8" fill="#1e1e1e" stroke="#1e1e1e" stroke-width="0.15" text-anchor="middle" transform="rotate(-90 43.9 414.5)">10<tspan font-size="6.6" dy="-3.6">4</tspan></text><rect x="76.3" y="445.7" width="28.2" height="37.7" fill="none" stroke="#8a8a8a" stroke-width="1.8"/><rect x="96.4" y="491.7" width="68.0" height="35.3" fill="none" stroke="#484848" stroke-width="1.8"/><text x="91.0" y="427.8" font-size="14.8" font-weight="bold" fill="#8c8c8c">A1</text><line x1="93.8" y1="430.9" x2="91.1" y2="437.0" stroke="#8c8c8c" stroke-width="2.1"/><polygon points="88.9,442.0 88.3,434.7 94.7,437.5" fill="#8c8c8c"/><text x="121.5" y="473.3" font-size="14.8" font-weight="bold" fill="#454545">A2</text><line x1="129.8" y1="477.8" x2="129.8" y2="482.0" stroke="#454545" stroke-width="2.1"/><polygon points="129.8,487.5 126.3,481.0 133.3,481.0" fill="#454545"/><text x="179.2" y="409.2" font-size="14.5" font-weight="bold" text-anchor="end" fill="#000">Unstimulated</text><text x="112.8" y="552.0" font-size="13" font-weight="bold" text-anchor="middle" fill="#000">FITC – annexin V</text><text x="29.4" y="472.0" font-size="13.2" font-weight="bold" text-anchor="middle" fill="#000" transform="rotate(-90 29.4 472.0)">TMRM</text><g transform="scale(0.5)" filter="url(#bl)" stroke-width="2" fill="none"><path d="M549 841h2m86 34h2m-214 3h2m60 15h2m35 1h2m-26 3h2m5 0h2m68 0h2m-101 4h2m15 0h2m5 0h2m3 1h2m23 0h2m-49 1h2m50 0h2m-39 1h2m19 0h2m1 0h2m8 0h2m110 0h2m-163 1h2m44 0h2m-47 3h2m6 0h2m0 1h2m-17 1h2m40 0h2m-91 1h2m71 0h2m39 0h2m-107 1h2m14 0h2m4 0h2m43 0h2m12 0h2m-14 1h2m2 0h2m-63 1h2m56 0h2m30 0h2m-87 1h2m3 0h2m0 0h2m-21 2h2m51 0h2m-1 0h2m24 0h2m11 0h2m-106 2h2m94 0h2m-67 2h2m50 0h2m4 0h2m57 1h2m-61 2h2m7 0h2m130 0h2m-245 3h2m124 0h2m-27 1h2m11 0h2m-99 2h2m-7 1h2m1 1h2m92 0h2m-11 1h2m40 1h2m-144 2h2m-2 2h2m91 0h2m6 0h2m-89 2h2m106 0h2m-119 1h2m155 0h2m-160 1h2m1 0h2m96 0h2m-99 1h2m98 1h2m-110 1h2m88 1h2m6 0h2m57 1h2m19 0h2m21 0h2m-21 1h2m8 0h2m-192 1h2m86 2h2m56 0h2m-149 3h2m4 0h2m82 0h2m-1 0h2m5 1h2m-17 1h2m62 0h2m68 0h2m-217 2h2m113 0h2m-39 2h2m0 0h2m28 1h2m82 0h2m-198 1h2m214 0h2m-142 1h2m15 0h2m42 0h2m-54 1h2m15 0h2m47 0h2m60 0h2m-215 1h2m83 0h2m4 0h2m-21 1h2m92 0h2m-84 1h2m99 0h2m-120 2h2m8 0h2m39 0h2m71 0h2m-195 1h2m200 0h2m7 0h2m-212 1h2m112 0h2m54 0h2m22 0h2m-133 2h2m9 0h2m6 0h2m47 0h2m-56 2h2m1 0h2m10 0h2m112 0h2m-209 1h2m1 1h2m48 0h2m9 0h2m186 0h2m-67 1h2m14 1h2m-127 1h2m-79 1h2m66 0h2m-26 1h2m-26 1h2m36 0h2m-1 0h2m130 0h2m24 0h2m-168 1h2m18 0h2m156 0h2m-231 1h2m26 0h2m142 0h2m-172 1h2m16 0h2m162 0h2m1 0h2m-160 1h2m-29 1h2m19 0h2m33 0h2m132 0h2m19 0h2m0 0h2m-201 2h2m24 0h2m150 0h2m-196 1h2m9 0h2m37 0h2m-19 1h2m-19 1h2m2 0h2m22 0h2m-1 0h2m126 0h2m14 0h2m7 0h2m12 0h2m11 0h2m-202 1h2m31 1h2m108 0h2m-128 1h2m0 0h2m16 0h2m99 0h2m-166 1h2m25 1h2m14 0h2m4 0h2m112 0h2m40 0h2m-206 1h2m21 0h2m10 0h2m29 0h2m90 0h2m10 0h2m29 0h2m6 0h2m-185 1h2m182 0h2m1 0h2m-184 1h2m21 0h2m37 0h2m95 0h2m-179 1h2m32 0h2m12 0h2m79 0h2m96 0h2m-182 1h2m168 0h2m-66 1h2m43 0h2m3 0h2m30 0h2m-245 1h2m0 0h2m19 0h2m13 1h2m0 0h2m190 0h2m-207 1h2m3 0h2m22 0h2m24 0h2m157 0h2m-241 1h2m0 0h2m227 0h2m-214 1h2m0 0h2m139 0h2m25 0h2m-171 1h2m176 0h2m11 0h2m-192 1h2m31 0h2m94 0h2m18 0h2m9 0h2m20 0h2m5 0h2m11 0h2m-186 1h2m139 0h2m-128 1h2m39 0h2m-70 1h2m191 0h2m13 0h2m-194 1h2m32 0h2m103 0h2m37 0h2m-193 1h2m5 0h2m17 0h2m-46 1h2m178 0h2m-192 1h2m17 0h2m-17 1h2m68 0h2m75 0h2m-1 0h2m-146 1h2m195 0h2m38 0h2m-218 2h2m151 0h2m8 0h2m-170 1h2m32 0h2m109 0h2m37 0h2m-219 1h2m6 0h2m124 0h2m36 0h2m29 0h2m-179 1h2m12 0h2m2 0h2m15 0h2m85 0h2m45 0h2m5 0h2m12 0h2m-154 2h2m-7 1h2m124 1h2m-145 1h2m34 0h2m142 0h2m-225 1h2m41 0h2m46 0h2m116 0h2m-210 1h2m35 0h2m12 0h2m-25 1h2m156 0h2m-155 1h2m133 0h2m-123 1h2m191 0h2m-227 1h2m27 0h2m156 0h2m33 0h2m-46 1h2m10 0h2m-127 3h2m122 0h2m-164 1h2m11 0h2m0 0h2m154 1h2m20 0h2m-181 2h2m146 0h2m-187 1h2m145 0h2m-118 2h2m108 1h2m58 0h2m-213 1h2m83 1h2m-60 4h2m-1 1h2m129 0h2m46 0h2m-153 1h2m195 1h2" stroke="#ababab"/><path d="M481 909h2m3 1h2m25 1h2m-33 1h2m11 0h2m2 1h2m-29 1h2m10 0h2m16 0h2m-30 1h2m11 0h2m0 0h2m10 0h2m-29 1h2m15 0h2m4 0h2m-1 0h2m-36 1h2m10 0h2m8 0h2m7 0h2m30 0h2m-26 1h2m2 0h2m-51 1h2m0 0h2m8 0h2m42 0h2m-46 1h2m41 0h2m10 0h2m-66 1h2m46 0h2m1 0h2m-2 1h2m-54 1h2m5 0h2m0 0h2m46 0h2m-1 0h2m2 0h2m-59 1h2m-21 1h2m5 0h2m61 0h2m-62 1h2m1 0h2m7 0h2m42 0h2m4 0h2m2 0h2m12 0h2m-93 1h2m7 0h2m4 0h2m2 0h2m46 0h2m10 0h2m-84 1h2m0 0h2m71 0h2m-72 1h2m-1 0h2m1 0h2m60 0h2m1 0h2m0 0h2m-1 0h2m-1 0h2m-62 1h2m-18 1h2m-1 0h2m6 0h2m-12 1h2m82 0h2m-91 1h2m5 0h2m4 0h2m-10 1h2m78 3h2m0 0h2m-89 2h2m7 0h2m-15 2h2m74 0h2m7 0h2m-8 1h2m4 0h2m-86 2h2m4 0h2m67 0h2m11 0h2m-100 3h2m3 0h2m4 0h2m0 0h2m69 0h2m-73 1h2m-8 1h2m-1 0h2m4 0h2m72 0h2m4 0h2m-83 1h2m73 0h2m-8 2h2m-71 1h2m71 1h2m-5 1h2m2 1h2m-84 1h2m-1 0h2m-1 0h2m85 0h2m-19 1h2m4 0h2m-15 1h2m4 0h2m-7 1h2m1 0h2m5 0h2m3 0h2m-87 1h2m4 0h2m61 0h2m-67 3h2m3 0h2m-13 1h2m3 0h2m-7 1h2m66 1h2m-66 1h2m84 0h2m-89 2h2m53 0h2m4 0h2m-62 1h2m51 0h2m1 0h2m7 0h2m-62 1h2m1 0h2m44 0h2m-57 1h2m0 0h2m3 0h2m44 0h2m15 0h2m-66 1h2m62 0h2m-28 1h2m-7 1h2m11 0h2m-54 1h2m1 0h2m-2 1h2m6 0h2m6 0h2m22 0h2m-49 1h2m30 0h2m7 0h2m3 0h2m-48 1h2m13 0h2m-5 1h2m3 0h2m18 0h2m-34 1h2m16 0h2m2 0h2m3 0h2m4 0h2m-1 0h2m-37 1h2m5 0h2m3 0h2m19 0h2m0 0h2m-29 1h2m11 0h2m10 0h2m-27 1h2m30 0h2m-44 1h2m38 0h2m-32 1h2m10 0h2m11 0h2m2 0h2m5 0h2m-24 1h2m20 0h2m-41 2h2m11 4h2m0 1h2m2 2h2m21 1h2m-28 3h2m-2 1h2m-15 2h2m36 0h2m-36 1h2m2 1h2m0 0h2m-6 1h2m27 1h2m-11 1h2m9 0h2m-31 2h2m-13 5h2m188 1h2m-142 15h2m-6 1h2" stroke="#9c9c9c"/><path d="M491 915h2m4 2h2m-26 1h2m6 0h2m5 0h2m3 0h2m-18 1h2m1 0h2m-4 1h2m6 0h2m12 0h2m-32 2h2m8 0h2m-1 0h2m13 0h2m-1 0h2m0 0h2m-1 0h2m-26 1h2m-1 0h2m2 0h2m22 0h2m1 0h2m6 0h2m-44 1h2m-1 0h2m25 0h2m0 0h2m9 0h2m-10 1h2m12 0h2m-58 1h2m37 0h2m1 0h2m-1 0h2m-1 0h2m-41 1h2m3 0h2m29 0h2m-61 1h2m6 0h2m6 0h2m-1 0h2m42 0h2m-56 1h2m4 0h2m6 0h2m-12 1h2m1 0h2m46 0h2m0 0h2m-2 1h2m-61 1h2m5 0h2m2 0h2m37 0h2m7 0h2m-1 0h2m-9 1h2m-53 1h2m2 0h2m49 0h2m-6 1h2m-50 1h2m1 0h2m48 0h2m-60 1h2m6 0h2m49 0h2m-67 1h2m-1 0h2m1 0h2m53 0h2m1 0h2m-1 0h2m-64 2h2m61 0h2m-67 1h2m0 0h2m-9 1h2m0 0h2m65 1h2m-68 1h2m63 0h2m1 0h2m-7 1h2m-4 1h2m-63 1h2m57 0h2m-2 2h2m-59 1h2m55 0h2m-60 1h2m57 1h2m-2 1h2m-72 1h2m61 0h2m3 0h2m-1 0h2m-67 1h2m57 0h2m-63 1h2m1 0h2m0 0h2m-7 1h2m-1 0h2m0 0h2m60 0h2m-69 1h2m-1 0h2m61 0h2m-1 1h2m-9 1h2m-1 0h2m-58 1h2m62 0h2m-13 1h2m-1 0h2m-51 1h2m47 0h2m-8 1h2m-54 1h2m53 0h2m-1 0h2m-54 1h2m0 0h2m0 0h2m-1 0h2m14 0h2m-1 0h2m15 0h2m0 0h2m0 0h2m3 0h2m-55 1h2m-1 0h2m-5 1h2m-1 0h2m0 0h2m0 0h2m3 0h2m2 0h2m6 0h2m22 0h2m-41 1h2m9 0h2m17 0h2m-1 0h2m8 0h2m2 0h2m1 0h2m-1 0h2m-62 1h2m14 0h2m14 0h2m3 0h2m5 0h2m2 0h2m-21 1h2m0 0h2m1 0h2m-30 1h2m8 0h2m4 0h2m5 0h2m10 0h2m8 0h2m-42 1h2m14 0h2m10 0h2m1 0h2m-1 0h2m2 0h2m3 0h2m-33 1h2m3 0h2m-1 0h2m7 0h2m1 0h2m-35 1h2m12 0h2m3 0h2m5 0h2m-1 0h2m-1 0h2m4 0h2m-16 2h2m2 0h2m1 0h2m9 0h2m-34 1h2m0 0h2m2 0h2m0 0h2m-12 1h2m0 0h2m-1 0h2m8 0h2m9 0h2m-26 1h2m11 0h2m2 1h2m-15 1h2m10 0h2m-17 1h2m2 0h2m22 0h2m-28 1h2m21 1h2" stroke="#8e8e8e"/><path d="M493 919h2m-13 2h2m-1 0h2m-1 0h2m3 0h2m0 0h2m-1 0h2m0 0h2m-4 1h2m-16 1h2m4 0h2m3 0h2m-1 0h2m0 0h2m0 0h2m7 0h2m-28 1h2m5 0h2m5 0h2m1 0h2m-20 1h2m1 0h2m-1 0h2m4 0h2m10 0h2m-1 0h2m3 0h2m-4 1h2m-1 0h2m-23 1h2m13 0h2m-29 1h2m1 0h2m4 0h2m17 0h2m0 0h2m-1 0h2m-31 1h2m17 0h2m6 0h2m-1 0h2m2 0h2m-43 1h2m3 0h2m3 0h2m13 0h2m6 0h2m3 0h2m3 0h2m-40 1h2m3 0h2m16 0h2m2 0h2m-1 0h2m2 0h2m0 0h2m6 0h2m-44 1h2m-1 0h2m23 0h2m3 0h2m6 0h2m-42 1h2m5 0h2m12 0h2m1 0h2m3 1h2m-1 0h2m1 0h2m2 0h2m-45 1h2m4 0h2m-1 0h2m1 0h2m21 0h2m7 0h2m-1 0h2m-42 1h2m0 0h2m1 0h2m19 0h2m1 0h2m6 0h2m6 0h2m-43 1h2m2 0h2m18 0h2m-1 0h2m5 0h2m-49 1h2m-1 0h2m-1 0h2m0 0h2m5 0h2m-1 0h2m28 0h2m4 0h2m-1 0h2m0 0h2m1 0h2m-56 1h2m0 0h2m37 0h2m4 0h2m2 0h2m-54 1h2m0 0h2m2 0h2m1 0h2m-1 0h2m-1 0h2m36 0h2m2 0h2m-55 1h2m3 0h2m2 0h2m3 0h2m30 0h2m1 0h2m0 0h2m0 0h2m-63 1h2m6 0h2m42 0h2m1 0h2m4 0h2m0 0h2m-64 1h2m5 0h2m1 0h2m2 0h2m0 0h2m35 0h2m2 0h2m1 0h2m-62 1h2m-1 0h2m1 0h2m46 0h2m-57 1h2m-1 0h2m1 0h2m0 0h2m52 0h2m-57 1h2m-1 0h2m50 0h2m-57 1h2m5 0h2m44 0h2m-3 1h2m1 0h2m-54 1h2m48 0h2m-6 1h2m-53 1h2m2 0h2m47 0h2m2 0h2m-8 2h2m0 0h2m-54 1h2m46 0h2m1 0h2m-56 1h2m-1 0h2m-10 1h2m7 0h2m1 0h2m40 0h2m2 0h2m-57 1h2m4 0h2m45 0h2m0 0h2m-57 1h2m0 0h2m-1 0h2m39 0h2m1 0h2m1 0h2m-1 0h2m-43 1h2m-15 1h2m1 0h2m1 0h2m5 0h2m41 0h2m-48 1h2m38 0h2m-44 1h2m-1 0h2m2 0h2m38 0h2m-47 1h2m13 0h2m0 0h2m20 0h2m0 0h2m-33 1h2m3 0h2m3 0h2m10 0h2m1 0h2m-39 1h2m-1 0h2m16 0h2m4 0h2m2 0h2m-1 0h2m5 0h2m5 0h2m-1 0h2m-43 1h2m-1 0h2m17 0h2m17 0h2m-40 1h2m0 0h2m7 0h2m-1 0h2m7 0h2m15 0h2m-1 0h2m-45 1h2m-1 0h2m3 0h2m1 0h2m8 0h2m11 0h2m-1 0h2m-28 1h2m3 0h2m7 0h2m10 0h2m-26 1h2m-1 0h2m15 0h2m2 0h2m-28 1h2m-1 0h2m2 0h2m12 0h2m3 0h2m-28 1h2m-1 0h2m11 0h2m3 0h2m-18 1h2m6 0h2m6 0h2m-20 1h2m18 0h2m-20 1h2m2 0h2m10 0h2m-13 1h2m6 0h2m0 0h2m-14 1h2" stroke="#808080"/><path d="M489 922h2m-5 1h2m-1 0h2m-9 1h2m5 0h2m-1 0h2m8 0h2m-15 1h2m0 0h2m3 0h2m-4 1h2m1 0h2m2 0h2m-22 1h2m4 0h2m0 0h2m2 0h2m2 0h2m-1 0h2m-1 0h2m-17 1h2m9 0h2m0 0h2m4 0h2m-25 1h2m0 0h2m0 0h2m-1 0h2m0 0h2m-1 0h2m-1 0h2m0 0h2m-1 0h2m6 0h2m-1 0h2m-1 0h2m-23 1h2m1 0h2m-1 0h2m1 0h2m3 0h2m2 0h2m-1 0h2m-22 1h2m2 0h2m2 0h2m-1 0h2m-1 0h2m0 0h2m-15 1h2m-1 0h2m3 0h2m2 0h2m2 0h2m0 0h2m-15 1h2m1 0h2m0 0h2m-1 0h2m5 0h2m-18 1h2m4 0h2m-1 0h2m1 0h2m6 0h2m-24 1h2m1 0h2m1 0h2m-1 0h2m-1 0h2m-1 0h2m0 0h2m1 0h2m0 0h2m-1 0h2m-20 1h2m1 0h2m2 0h2m0 0h2m1 0h2m0 0h2m-1 0h2m1 0h2m3 0h2m3 0h2m-1 0h2m-25 1h2m-1 0h2m-1 0h2m0 0h2m2 0h2m0 0h2m-1 0h2m2 0h2m3 0h2m-30 1h2m0 0h2m5 0h2m1 0h2m1 0h2m2 0h2m3 0h2m1 0h2m-33 1h2m2 0h2m4 0h2m3 0h2m0 0h2m-1 0h2m3 0h2m1 0h2m1 0h2m-21 1h2m2 0h2m0 0h2m4 0h2m0 0h2m2 0h2m1 0h2m-42 1h2m1 0h2m9 0h2m0 0h2m-1 0h2m8 0h2m-1 0h2m1 0h2m0 0h2m-1 0h2m1 0h2m10 0h2m0 0h2m-57 1h2m5 0h2m6 0h2m0 0h2m-1 0h2m0 0h2m-1 0h2m-1 0h2m-1 0h2m2 0h2m7 0h2m0 0h2m-1 0h2m0 0h2m-1 0h2m-1 0h2m-1 0h2m-41 1h2m8 0h2m-1 0h2m0 0h2m2 0h2m-1 0h2m0 0h2m-1 0h2m0 0h2m-1 0h2m0 0h2m0 0h2m-1 0h2m0 0h2m1 0h2m3 0h2m0 0h2m-38 1h2m-1 0h2m1 0h2m-1 0h2m0 0h2m3 0h2m-1 0h2m-1 0h2m0 0h2m0 0h2m-1 0h2m-1 0h2m0 0h2m1 0h2m-1 0h2m5 0h2m-47 1h2m3 0h2m4 0h2m1 0h2m0 0h2m1 0h2m6 0h2m0 0h2m-1 0h2m2 0h2m-1 0h2m1 0h2m3 0h2m-1 0h2m1 0h2m-45 1h2m-1 0h2m1 0h2m2 0h2m0 0h2m-1 0h2m-1 0h2m5 0h2m-1 0h2m-1 0h2m-1 0h2m1 0h2m1 0h2m-1 0h2m-1 0h2m1 0h2m-1 0h2m0 0h2m1 0h2m-1 0h2m0 0h2m-1 0h2m0 0h2m-1 0h2m-50 1h2m5 0h2m-1 0h2m0 0h2m2 0h2m0 0h2m3 0h2m-1 0h2m1 0h2m-1 0h2m-1 0h2m0 0h2m-1 0h2m1 0h2m0 0h2m-1 0h2m-1 0h2m1 0h2m-1 0h2m-1 0h2m0 0h2m-1 0h2m0 0h2m-53 1h2m1 0h2m1 0h2m0 0h2m1 0h2m1 0h2m-1 0h2m-1 0h2m0 0h2m2 0h2m0 0h2m-1 0h2m-1 0h2m-1 0h2m-1 0h2m-1 0h2m2 0h2m1 0h2m1 0h2m0 0h2m-1 0h2m1 0h2m0 0h2m0 0h2m-42 1h2m0 0h2m1 0h2m0 0h2m3 0h2m-1 0h2m-1 0h2m-1 0h2m0 0h2m1 0h2m-1 0h2m-1 0h2m0 0h2m4 0h2m-1 0h2m1 0h2m0 0h2m-1 0h2m-1 0h2m-41 1h2m-1 0h2m-1 0h2m0 0h2m-1 0h2m1 0h2m-1 0h2m1 0h2m-1 0h2m1 0h2m0 0h2m0 0h2m-1 0h2m0 0h2m2 0h2m-1 0h2m2 0h2m-1 0h2m2 0h2m0 0h2m3 0h2m-47 1h2m-1 0h2m-1 0h2m0 0h2m-1 0h2m3 0h2m0 0h2m1 0h2m0 0h2m3 0h2m0 0h2m2 0h2m-1 0h2m-1 0h2m-1 0h2m0 0h2m4 0h2m0 0h2m-50 1h2m2 0h2m-1 0h2m4 0h2m-1 0h2m1 0h2m-1 0h2m3 0h2m-1 0h2m-1 0h2m-1 0h2m-1 0h2m-1 0h2m2 0h2m-1 0h2m-1 0h2m0 0h2m2 0h2m1 0h2m3 0h2m-1 0h2m-1 0h2m-48 1h2m0 0h2m-1 0h2m1 0h2m-1 0h2m-1 0h2m5 0h2m1 0h2m-1 0h2m2 0h2m-1 0h2m1 0h2m-1 0h2m1 0h2m-1 0h2m-1 0h2m-1 0h2m8 0h2m0 0h2m-50 1h2m4 0h2m-1 0h2m-1 0h2m-1 0h2m2 0h2m-1 0h2m0 0h2m1 0h2m0 0h2m-1 0h2m-1 0h2m0 0h2m-1 0h2m0 0h2m1 0h2m5 0h2m-1 0h2m-1 0h2m3 0h2m-48 1h2m0 0h2m0 0h2m2 0h2m0 0h2m4 0h2m1 0h2m-1 0h2m2 0h2m4 0h2m3 0h2m-1 0h2m0 0h2m3 0h2m-45 1h2m1 0h2m0 0h2m-1 0h2m0 0h2m2 0h2m1 0h2m0 0h2m1 0h2m2 0h2m1 0h2m-1 0h2m-1 0h2m2 0h2m1 0h2m0 0h2m0 0h2m0 0h2m1 0h2m-43 1h2m0 0h2m0 0h2m-1 0h2m0 0h2m2 0h2m0 0h2m-1 0h2m0 0h2m-1 0h2m-1 0h2m-1 0h2m0 0h2m-1 0h2m0 0h2m0 0h2m1 0h2m2 0h2m1 0h2m-1 0h2m-36 1h2m0 0h2m3 0h2m0 0h2m-1 0h2m-1 0h2m-1 0h2m-1 0h2m0 0h2m-1 0h2m0 0h2m-1 0h2m-1 0h2m-1 0h2m2 0h2m1 0h2m4 0h2m-36 1h2m0 0h2m-1 0h2m2 0h2m0 0h2m0 0h2m-1 0h2m1 0h2m2 0h2m3 0h2m2 0h2m2 0h2m1 0h2m-44 1h2m2 0h2m3 0h2m-1 0h2m1 0h2m2 0h2m0 0h2m0 0h2m-1 0h2m-1 0h2m0 0h2m-1 0h2m0 0h2m0 0h2m1 0h2m4 0h2m0 0h2m-47 1h2m4 0h2m2 0h2m-1 0h2m-1 0h2m1 0h2m2 0h2m2 0h2m-1 0h2m0 0h2m-1 0h2m4 0h2m5 0h2m-31 1h2m-1 0h2m-1 0h2m7 0h2m4 0h2m-1 0h2m1 0h2m0 0h2m-1 0h2m1 0h2m0 0h2m-42 1h2m2 0h2m0 0h2m2 0h2m3 0h2m11 0h2m0 0h2m1 0h2m7 0h2m-39 1h2m-1 0h2m0 0h2m16 0h2m-1 0h2m-1 0h2m-1 0h2m9 0h2m-1 0h2m-36 1h2m1 0h2m4 0h2m5 0h2m1 0h2m3 0h2m0 0h2m4 0h2m-31 1h2m24 0h2m-25 1h2m12 0h2" stroke="#727272"/></g><rect x="211.5" y="413.8" width="133.3" height="114.7" fill="none" stroke="#9c9c9c" stroke-width="1"/><line x1="211.5" y1="413.8" x2="211.5" y2="529.0" stroke="#858585" stroke-width="1"/><line x1="211.0" y1="528.5" x2="344.8" y2="528.5" stroke="#858585" stroke-width="1"/><path d="M210.0 528.5h1.5M211.5 528.5v1.5M210.5 519.9h1.0M221.5 528.5v1.0M210.5 514.8h1.0M227.4 528.5v1.0M210.5 511.2h1.0M231.6 528.5v1.0M210.5 508.5h1.0M234.8 528.5v1.0M210.5 506.2h1.0M237.4 528.5v1.0M210.5 504.3h1.0M239.7 528.5v1.0M210.5 502.6h1.0M241.6 528.5v1.0M210.5 501.1h1.0M243.3 528.5v1.0M210.0 499.8h1.5M244.8 528.5v1.5M210.5 491.2h1.0M254.9 528.5v1.0M210.5 486.1h1.0M260.7 528.5v1.0M210.5 482.6h1.0M264.9 528.5v1.0M210.5 479.8h1.0M268.1 528.5v1.0M210.5 477.5h1.0M270.8 528.5v1.0M210.5 475.6h1.0M273.0 528.5v1.0M210.5 473.9h1.0M274.9 528.5v1.0M210.5 472.5h1.0M276.6 528.5v1.0M210.0 471.1h1.5M278.1 528.5v1.5M210.5 462.5h1.0M288.2 528.5v1.0M210.5 457.5h1.0M294.1 528.5v1.0M210.5 453.9h1.0M298.2 528.5v1.0M210.5 451.1h1.0M301.4 528.5v1.0M210.5 448.8h1.0M304.1 528.5v1.0M210.5 446.9h1.0M306.3 528.5v1.0M210.5 445.3h1.0M308.2 528.5v1.0M210.5 443.8h1.0M310.0 528.5v1.0M210.0 442.5h1.5M311.5 528.5v1.5M210.5 433.8h1.0M321.5 528.5v1.0M210.5 428.8h1.0M327.4 528.5v1.0M210.5 425.2h1.0M331.5 528.5v1.0M210.5 422.4h1.0M334.8 528.5v1.0M210.5 420.2h1.0M337.4 528.5v1.0M210.5 418.2h1.0M339.6 528.5v1.0M210.5 416.6h1.0M341.6 528.5v1.0M210.5 415.1h1.0M343.3 528.5v1.0" stroke="#777" stroke-width="0.7"/><text x="245.1" y="539.7" font-size="8" fill="#1e1e1e" stroke="#1e1e1e" stroke-width="0.15" text-anchor="middle">10<tspan font-size="6.6" dy="-3.6">1</tspan></text><text x="207.1" y="499.8" font-size="8" fill="#1e1e1e" stroke="#1e1e1e" stroke-width="0.15" text-anchor="middle" transform="rotate(-90 207.1 499.8)">10<tspan font-size="6.6" dy="-3.6">1</tspan></text><text x="278.4" y="539.7" font-size="8" fill="#1e1e1e" stroke="#1e1e1e" stroke-width="0.15" text-anchor="middle">10<tspan font-size="6.6" dy="-3.6">2</tspan></text><text x="207.1" y="471.1" font-size="8" fill="#1e1e1e" stroke="#1e1e1e" stroke-width="0.15" text-anchor="middle" transform="rotate(-90 207.1 471.1)">10<tspan font-size="6.6" dy="-3.6">2</tspan></text><text x="311.8" y="539.7" font-size="8" fill="#1e1e1e" stroke="#1e1e1e" stroke-width="0.15" text-anchor="middle">10<tspan font-size="6.6" dy="-3.6">3</tspan></text><text x="207.1" y="442.5" font-size="8" fill="#1e1e1e" stroke="#1e1e1e" stroke-width="0.15" text-anchor="middle" transform="rotate(-90 207.1 442.5)">10<tspan font-size="6.6" dy="-3.6">3</tspan></text><text x="345.1" y="539.7" font-size="8" fill="#1e1e1e" stroke="#1e1e1e" stroke-width="0.15" text-anchor="middle">10<tspan font-size="6.6" dy="-3.6">4</tspan></text><text x="207.1" y="413.8" font-size="8" fill="#1e1e1e" stroke="#1e1e1e" stroke-width="0.15" text-anchor="middle" transform="rotate(-90 207.1 413.8)">10<tspan font-size="6.6" dy="-3.6">4</tspan></text><rect x="239.5" y="446.6" width="29.1" height="37.7" fill="none" stroke="#8a8a8a" stroke-width="1.8"/><rect x="260.1" y="493.4" width="68.3" height="34.6" fill="none" stroke="#484848" stroke-width="1.8"/><text x="256.0" y="427.5" font-size="14.8" font-weight="bold" fill="#8c8c8c">A1</text><line x1="260.2" y1="430.9" x2="257.5" y2="437.0" stroke="#8c8c8c" stroke-width="2.1"/><polygon points="255.3,442.0 254.7,434.7 261.1,437.5" fill="#8c8c8c"/><text x="286.7" y="474.3" font-size="14.8" font-weight="bold" fill="#454545">A2</text><line x1="294.8" y1="478.8" x2="294.8" y2="483.3" stroke="#454545" stroke-width="2.1"/><polygon points="294.8,488.8 291.3,482.3 298.3,482.3" fill="#454545"/><text x="343.5" y="409.5" font-size="14.5" font-weight="bold" text-anchor="end" fill="#000">Thrombin</text><text x="276.2" y="552.0" font-size="13" font-weight="bold" text-anchor="middle" fill="#000">FITC – annexin V</text><g transform="scale(0.5)" filter="url(#bl)" stroke-width="2" fill="none"><path d="M861 864h2m-27 16h2m-32 14h2m6 6h2m41 0h2m-14 2h2m78 2h2m-44 3h2m-56 1h2m-10 2h2m21 0h2m-20 4h2m70 1h2m-20 1h2m-4 1h2m-43 1h2m2 0h2m4 0h2m-51 2h2m83 0h2m4 0h2m-90 1h2m34 0h2m32 0h2m-105 1h2m76 0h2m9 0h2m-14 1h2m5 0h2m-49 1h2m7 0h2m0 1h2m17 0h2m16 0h2m6 1h2m-5 1h2m15 1h2m-56 1h2m6 0h2m54 0h2m-79 1h2m27 0h2m15 0h2m9 0h2m-57 1h2m27 0h2m8 0h2m3 0h2m22 0h2m20 1h2m-78 1h2m-1 1h2m12 0h2m-44 1h2m11 0h2m6 0h2m32 0h2m-69 1h2m23 0h2m-20 1h2m24 0h2m5 0h2m28 1h2m48 0h2m-77 1h2m24 0h2m24 0h2m32 0h2m-86 1h2m2 0h2m31 1h2m-84 1h2m34 0h2m33 0h2m12 0h2m130 0h2m-173 1h2m22 0h2m0 0h2m1 0h2m2 0h2m0 0h2m-38 1h2m23 0h2m-36 1h2m46 0h2m12 0h2m-87 1h2m33 0h2m17 0h2m98 0h2m62 0h2m-238 1h2m192 0h2m-193 1h2m12 0h2m-20 1h2m22 0h2m3 0h2m20 0h2m-32 1h2m10 0h2m0 0h2m-48 1h2m106 0h2m-94 2h2m4 0h2m17 0h2m46 0h2m29 0h2m-75 1h2m8 0h2m-67 1h2m95 0h2m28 0h2m-93 1h2m44 0h2m29 0h2m-75 1h2m27 0h2m29 0h2m19 1h2m20 0h2m-47 1h2m-65 1h2m26 0h2m37 0h2m10 0h2m-121 1h2m100 0h2m-56 1h2m23 0h2m32 0h2m12 1h2m-119 1h2m4 0h2m23 0h2m27 0h2m48 0h2m0 0h2m-106 1h2m29 0h2m55 0h2m41 0h2m-93 1h2m58 0h2m20 0h2m50 0h2m-154 1h2m12 0h2m2 0h2m20 0h2m15 0h2m4 0h2m16 0h2m25 0h2m-11 1h2m-124 1h2m41 0h2m15 0h2m54 0h2m95 0h2m-217 1h2m12 1h2m14 0h2m58 0h2m-52 1h2m18 0h2m40 0h2m38 0h2m75 0h2m-199 1h2m19 0h2m14 0h2m11 0h2m8 0h2m27 0h2m58 0h2m-143 1h2m12 0h2m31 0h2m16 0h2m17 0h2m10 0h2m78 0h2m-175 1h2m-1 0h2m9 0h2m0 0h2m3 0h2m39 0h2m-43 1h2m1 0h2m-21 1h2m42 0h2m59 0h2m-128 1h2m25 0h2m12 0h2m63 0h2m-112 1h2m81 0h2m4 0h2m6 0h2m34 0h2m3 0h2m-162 1h2m29 0h2m48 0h2m36 0h2m14 0h2m6 0h2m-143 1h2m13 0h2m21 0h2m18 0h2m30 0h2m-48 1h2m30 0h2m24 0h2m52 0h2m-106 1h2m13 0h2m71 0h2m-68 1h2m47 0h2m9 0h2m12 0h2m23 0h2m1 0h2m2 0h2m-182 1h2m42 0h2m13 0h2m43 0h2m40 0h2m-151 1h2m17 0h2m118 0h2m19 0h2m88 0h2m-247 1h2m47 0h2m9 0h2m20 0h2m35 0h2m20 0h2m71 0h2m-207 1h2m12 0h2m21 0h2m35 0h2m19 0h2m10 0h2m-117 1h2m4 0h2m48 0h2m26 0h2m20 0h2m50 0h2m-157 1h2m6 0h2m29 0h2m13 0h2m43 0h2m125 0h2m-235 1h2m46 0h2m16 0h2m13 0h2m7 0h2m-1 0h2m2 0h2m64 0h2m0 0h2m-120 1h2m-1 0h2m12 0h2m-1 0h2m18 0h2m23 0h2m118 0h2m13 0h2m-206 1h2m40 0h2m19 0h2m56 0h2m82 0h2m-245 1h2m24 0h2m-5 1h2m38 0h2m39 0h2m-74 1h2m5 0h2m34 0h2m-64 1h2m30 0h2m5 0h2m1 0h2m0 0h2m-35 1h2m46 0h2m15 0h2m15 0h2m-82 1h2m12 0h2m17 0h2m1 0h2m-1 0h2m33 0h2m-69 1h2m3 0h2m12 0h2m1 0h2m2 0h2m13 0h2m-72 1h2m237 0h2m6 0h2m-175 1h2m-68 1h2m0 0h2m41 0h2m10 0h2m7 0h2m-36 1h2m7 0h2m-45 1h2m6 0h2m227 0h2m-222 1h2m-1 0h2m19 0h2m9 0h2m3 0h2m19 0h2m8 0h2m1 0h2m144 0h2m-241 1h2m60 0h2m12 0h2m-1 0h2m-1 0h2m159 0h2m6 0h2m-242 1h2m41 0h2m5 0h2m187 0h2m-223 1h2m38 0h2m18 0h2m14 0h2m-55 1h2m13 1h2m15 0h2m20 0h2m-98 1h2m19 0h2m43 0h2m21 0h2m-97 1h2m46 0h2m52 0h2m132 0h2m-142 1h2m-66 1h2m45 2h2m-21 1h2m3 0h2m-21 1h2m14 0h2m24 0h2m0 0h2m142 0h2m-187 1h2m3 0h2m44 0h2m-65 1h2m51 0h2m3 0h2m-100 1h2m8 0h2m88 0h2m-37 1h2m10 0h2m17 0h2m-17 1h2m22 1h2m-37 1h2m3 0h2m-74 1h2m30 0h2m34 0h2m26 0h2m-103 1h2m20 0h2m-1 0h2m226 1h2m8 0h2m-212 1h2m0 0h2m18 1h2m25 0h2m-82 1h2m22 0h2m33 0h2m13 0h2m-1 0h2m154 0h2m-160 1h2m-68 1h2m15 1h2m42 0h2m17 0h2m-86 2h2m26 0h2m29 0h2m4 0h2m20 1h2m-21 2h2m16 0h2m126 1h2m8 0h2m0 0h2m0 0h2m-189 1h2m21 0h2m10 0h2m0 0h2m132 0h2m2 0h2m19 0h2m-211 3h2m41 0h2m-85 1h2m66 2h2m23 0h2m134 0h2m1 0h2m-234 1h2m71 0h2m-84 1h2m168 0h2m63 0h2m1 0h2m-12 1h2m14 0h2m-241 2h2m17 0h2m111 0h2m49 0h2m27 0h2m-216 1h2m100 0h2m44 0h2m20 0h2m3 0h2m23 0h2m-76 1h2m28 0h2m17 0h2m1 0h2m10 0h2m32 0h2m1 0h2m10 0h2m17 0h2m-186 1h2m58 0h2m-39 1h2" stroke="#ababab"/><path d="M846 921h2m-16 4h2m3 0h2m-2 2h2m-1 0h2m3 4h2m-1 0h2m-1 1h2m5 1h2m-8 1h2m-4 1h2m-1 0h2m0 0h2m-1 0h2m-4 1h2m-29 1h2m26 0h2m-9 1h2m2 0h2m4 0h2m-14 1h2m2 0h2m-24 1h2m15 0h2m8 0h2m-5 1h2m6 0h2m-35 1h2m7 0h2m19 0h2m-14 2h2m3 0h2m5 0h2m-17 2h2m1 0h2m-25 1h2m25 0h2m2 0h2m0 0h2m3 0h2m-47 1h2m15 0h2m9 0h2m9 0h2m0 0h2m5 0h2m-36 1h2m20 0h2m-1 0h2m-1 0h2m-38 1h2m4 0h2m21 1h2m11 0h2m-16 1h2m9 0h2m0 0h2m-21 1h2m19 0h2m-28 1h2m0 0h2m5 0h2m6 1h2m-36 1h2m-1 0h2m1 0h2m15 0h2m21 0h2m-1 1h2m-21 1h2m19 0h2m-28 1h2m9 0h2m4 0h2m-19 1h2m17 0h2m-1 0h2m1 0h2m-51 1h2m26 0h2m3 0h2m10 0h2m-2 1h2m6 0h2m-35 1h2m11 0h2m2 0h2m6 0h2m-25 1h2m19 0h2m8 0h2m-22 1h2m2 0h2m-43 1h2m15 0h2m5 0h2m13 0h2m17 0h2m2 0h2m-61 1h2m31 0h2m12 0h2m-19 1h2m13 0h2m-19 1h2m3 0h2m0 0h2m18 0h2m9 0h2m-49 1h2m3 0h2m3 0h2m26 0h2m-29 1h2m2 0h2m35 0h2m-48 1h2m2 0h2m5 0h2m5 0h2m14 0h2m19 0h2m-88 1h2m11 0h2m32 0h2m-42 2h2m31 0h2m7 0h2m-42 1h2m23 0h2m0 0h2m34 1h2m8 0h2m-85 1h2m73 0h2m-31 1h2m25 0h2m-43 1h2m134 0h2m-139 1h2m15 0h2m-12 1h2m0 0h2m76 0h2m47 0h2m-22 2h2m-138 1h2m89 0h2m18 0h2m0 0h2m-58 1h2m11 0h2m82 0h2m4 1h2m-120 1h2m19 0h2m7 0h2m11 0h2m9 0h2m-1 0h2m36 0h2m-1 0h2m3 0h2m11 0h2m-126 1h2m37 0h2m4 0h2m7 0h2m5 0h2m3 0h2m31 0h2m1 0h2m20 0h2m2 0h2m-138 1h2m33 0h2m21 0h2m6 0h2m6 0h2m4 0h2m24 0h2m24 0h2m4 0h2m-1 0h2m9 0h2m7 0h2m-173 1h2m53 0h2m6 0h2m2 0h2m4 0h2m-1 0h2m35 0h2m2 0h2m0 0h2m14 0h2m2 0h2m-1 0h2m17 0h2m2 0h2m-116 1h2m22 0h2m23 0h2m25 0h2m10 0h2m13 0h2m3 0h2m-1 0h2m5 0h2m4 0h2m-172 1h2m29 0h2m26 0h2m8 0h2m0 0h2m11 0h2m44 0h2m2 0h2m7 0h2m10 0h2m10 0h2m0 0h2m-162 1h2m4 0h2m-1 0h2m31 0h2m6 0h2m8 0h2m1 0h2m7 0h2m18 0h2m18 0h2m10 0h2m10 0h2m24 0h2m7 0h2m2 0h2m-200 1h2m62 0h2m20 0h2m8 0h2m19 0h2m23 0h2m9 0h2m-96 1h2m13 0h2m0 0h2m-1 0h2m30 0h2m31 0h2m10 0h2m4 0h2m22 0h2m0 0h2m-139 1h2m23 0h2m33 0h2m23 0h2m8 0h2m3 0h2m29 0h2m-57 1h2m14 0h2m7 0h2m7 0h2m13 0h2m21 0h2m-137 1h2m77 0h2m28 0h2m19 0h2m-166 1h2m61 0h2m80 0h2m3 0h2m7 0h2m-1 0h2m-162 1h2m38 0h2m10 0h2m74 0h2m20 0h2m8 0h2m-1 0h2m2 0h2m-159 1h2m46 0h2m24 0h2m0 0h2m55 0h2m13 0h2m6 0h2m0 0h2m-114 1h2m68 0h2m20 0h2m6 0h2m-200 1h2m168 0h2m17 0h2m-2 1h2m7 0h2m-194 1h2m8 0h2m1 0h2m171 0h2m8 0h2m2 0h2m-168 1h2m52 0h2m76 0h2m8 0h2m4 0h2m19 0h2m0 0h2m-170 1h2m34 0h2m93 0h2m9 0h2m3 0h2m10 0h2m2 0h2m-17 1h2m6 0h2m5 0h2m-194 1h2m58 0h2m26 0h2m100 0h2m6 0h2m-142 1h2m20 0h2m87 0h2m2 0h2m23 0h2m-165 1h2m118 0h2m27 0h2m8 0h2m-17 1h2m-149 1h2m86 0h2m59 0h2m0 0h2m6 0h2m-15 1h2m4 0h2m7 0h2m-191 1h2m28 0h2m25 0h2m105 0h2m3 0h2m-1 0h2m2 0h2m-8 1h2m21 0h2m2 0h2m-39 1h2m-1 0h2m20 0h2m-1 1h2m10 0h2m0 0h2m-18 1h2m3 0h2m-31 1h2m10 0h2m0 0h2m9 0h2m11 0h2m-175 1h2m39 0h2m111 0h2m12 0h2m-1 0h2m-18 1h2m16 0h2m-164 1h2m28 0h2m125 0h2m5 0h2m-39 1h2m19 0h2m-124 1h2m3 0h2m0 0h2m105 0h2m2 0h2m11 0h2m-163 1h2m22 0h2m3 0h2m1 0h2m93 0h2m19 0h2m18 0h2m-140 1h2m-10 1h2m11 0h2m115 0h2m7 0h2m1 0h2m-1 0h2m-132 1h2m107 0h2m8 0h2m11 0h2m0 0h2m-166 1h2m31 0h2m-4 1h2m-15 1h2m8 0h2m110 0h2m19 0h2m-144 1h2m11 0h2m0 0h2m114 0h2m9 0h2m-132 1h2m6 0h2m105 0h2m4 0h2m5 0h2m-1 0h2m-1 0h2m0 0h2m-127 1h2m-1 0h2m101 0h2m3 0h2m5 0h2m10 0h2m-128 1h2m99 0h2m12 0h2m0 0h2m4 0h2m-114 1h2m26 0h2m58 0h2m6 0h2m2 0h2m-38 1h2m28 0h2m14 0h2m-119 1h2m-1 0h2m1 0h2m87 0h2m0 0h2m8 0h2m-100 1h2m3 0h2m0 0h2m15 0h2m49 0h2m-1 0h2m33 0h2m-104 1h2m2 0h2m15 0h2m3 0h2m42 0h2m22 0h2m1 0h2m0 0h2m-129 1h2m-1 0h2m20 0h2m42 0h2m30 0h2m14 0h2m-126 1h2m10 0h2m-1 0h2m11 0h2m36 0h2m31 0h2m0 0h2m8 0h2m-103 1h2m2 0h2m7 0h2m8 0h2m82 0h2m-1 0h2m4 0h2m3 0h2m-130 1h2m8 0h2m23 0h2m24 0h2m26 0h2m-75 1h2m10 0h2m-1 0h2m2 0h2m-1 0h2m0 0h2m4 0h2m6 0h2m41 0h2m5 0h2m1 0h2m4 0h2m0 0h2m-104 1h2m0 0h2m7 0h2m34 0h2m17 0h2m5 0h2m2 0h2m0 0h2m10 0h2m3 0h2m1 0h2m10 0h2m11 0h2m-1 0h2m-119 1h2m28 0h2m8 0h2m0 0h2m18 0h2m7 0h2m35 0h2m7 0h2m-137 1h2m13 0h2m8 0h2m0 0h2m1 0h2m13 0h2m1 0h2m3 0h2m4 0h2m6 0h2m10 0h2m19 0h2m17 0h2m8 0h2m-105 1h2m9 0h2m8 0h2m3 0h2m7 0h2m7 0h2m9 0h2m3 0h2m8 0h2m8 0h2m10 0h2m5 0h2m2 0h2m8 0h2m-120 1h2m7 0h2m3 0h2m0 0h2m4 0h2m2 0h2m4 0h2m7 0h2m3 0h2m-1 0h2m35 0h2m3 0h2m6 0h2m-110 1h2m13 0h2m-1 0h2m-1 0h2m29 0h2m5 0h2m7 0h2m29 0h2m-1 0h2m7 0h2m1 0h2m1 0h2m2 0h2m-1 0h2m-116 1h2m5 0h2m47 0h2m2 0h2m3 0h2m2 0h2m38 0h2m0 0h2m20 0h2m-134 1h2m5 0h2m1 0h2m8 0h2m9 0h2m-1 0h2m21 0h2m16 0h2m1 0h2m18 0h2m0 0h2m4 0h2m-58 1h2m21 0h2m-24 1h2" stroke="#9c9c9c"/><path d="M846 940h2m-5 3h2m0 0h2m-8 7h2m-6 2h2m4 0h2m4 0h2m-12 2h2m7 0h2m0 0h2m-11 2h2m4 1h2m3 0h2m-13 1h2m10 0h2m-19 1h2m15 0h2m-17 1h2m-1 0h2m-8 5h2m130 23h2m-37 1h2m33 0h2m-40 1h2m-28 1h2m22 0h2m14 0h2m19 0h2m1 0h2m-99 1h2m5 0h2m24 0h2m21 0h2m-1 0h2m-1 0h2m5 0h2m29 0h2m-98 1h2m0 0h2m52 0h2m0 0h2m1 0h2m0 0h2m14 0h2m19 0h2m-1 0h2m5 0h2m-102 1h2m22 0h2m2 0h2m17 0h2m2 0h2m1 0h2m-1 0h2m26 0h2m1 0h2m3 0h2m3 0h2m-1 0h2m-89 1h2m3 0h2m2 0h2m4 0h2m18 0h2m7 0h2m0 0h2m1 0h2m23 0h2m3 0h2m5 0h2m15 0h2m-118 1h2m18 0h2m5 0h2m1 0h2m15 0h2m0 0h2m0 0h2m1 0h2m2 0h2m27 0h2m12 0h2m7 0h2m-117 1h2m4 0h2m-1 0h2m11 0h2m3 0h2m1 0h2m7 0h2m-1 0h2m25 0h2m5 0h2m3 0h2m1 0h2m2 0h2m16 0h2m-99 1h2m4 0h2m16 0h2m6 0h2m9 0h2m-1 0h2m7 0h2m10 0h2m26 0h2m-1 0h2m5 0h2m13 0h2m-124 1h2m-1 0h2m12 0h2m-1 0h2m9 0h2m0 0h2m8 0h2m0 0h2m-1 0h2m-1 0h2m-1 0h2m13 0h2m21 0h2m6 0h2m11 0h2m-91 1h2m14 0h2m2 0h2m2 0h2m0 0h2m0 0h2m1 0h2m37 0h2m0 0h2m9 0h2m-1 0h2m0 0h2m-1 0h2m16 0h2m-119 1h2m2 0h2m0 0h2m1 0h2m1 0h2m11 0h2m4 0h2m4 0h2m9 0h2m0 0h2m0 0h2m2 0h2m7 0h2m2 0h2m2 0h2m7 0h2m1 0h2m8 0h2m8 0h2m-92 1h2m5 0h2m5 0h2m13 0h2m6 0h2m3 0h2m25 0h2m5 0h2m16 0h2m-109 1h2m4 0h2m-1 0h2m9 0h2m38 0h2m2 0h2m-1 0h2m3 0h2m0 0h2m0 0h2m-1 0h2m0 0h2m1 0h2m13 0h2m3 0h2m-101 1h2m-1 0h2m2 0h2m9 0h2m0 0h2m6 0h2m10 0h2m0 0h2m-1 0h2m20 0h2m0 0h2m-1 0h2m10 0h2m12 0h2m1 0h2m12 0h2m-114 1h2m4 0h2m3 0h2m3 0h2m5 0h2m4 0h2m12 0h2m13 0h2m0 0h2m7 0h2m6 0h2m-1 0h2m8 0h2m-1 0h2m12 0h2m-103 1h2m0 0h2m-1 0h2m15 0h2m0 0h2m-1 0h2m2 0h2m6 0h2m-1 0h2m9 0h2m-1 0h2m2 0h2m1 0h2m11 0h2m13 0h2m8 0h2m10 0h2m19 0h2m-132 1h2m19 0h2m2 0h2m9 0h2m1 0h2m1 0h2m8 0h2m-1 0h2m0 0h2m0 0h2m12 0h2m16 0h2m7 0h2m4 0h2m6 0h2m-113 1h2m-1 0h2m2 0h2m18 0h2m-1 0h2m-1 0h2m7 0h2m-1 0h2m3 0h2m10 0h2m25 0h2m0 0h2m13 0h2m3 0h2m24 0h2m-129 1h2m4 0h2m20 0h2m16 0h2m7 0h2m24 0h2m5 0h2m-1 0h2m-90 1h2m3 0h2m2 0h2m1 0h2m7 0h2m-1 0h2m11 0h2m9 0h2m3 0h2m3 0h2m13 0h2m13 0h2m0 0h2m2 0h2m0 0h2m-99 1h2m18 0h2m10 0h2m2 0h2m-1 0h2m2 0h2m4 0h2m1 0h2m8 0h2m21 0h2m9 0h2m0 0h2m0 0h2m2 0h2m-104 1h2m3 0h2m2 0h2m9 0h2m2 0h2m23 0h2m0 0h2m3 0h2m2 0h2m0 0h2m15 0h2m16 0h2m3 0h2m-102 1h2m13 0h2m7 0h2m1 0h2m21 0h2m6 0h2m27 0h2m0 0h2m2 0h2m1 0h2m27 0h2m-129 1h2m0 0h2m3 0h2m43 0h2m25 0h2m2 0h2m2 0h2m-1 0h2m1 0h2m19 0h2m-111 1h2m4 0h2m7 0h2m9 0h2m-1 0h2m0 0h2m27 0h2m14 0h2m1 0h2m4 0h2m20 0h2m-91 1h2m5 0h2m24 0h2m1 0h2m25 0h2m3 0h2m1 0h2m23 0h2m1 0h2m-113 1h2m-1 0h2m5 0h2m13 0h2m22 0h2m4 0h2m31 0h2m6 0h2m1 0h2m1 0h2m-103 1h2m13 0h2m-1 0h2m62 0h2m10 0h2m-1 0h2m3 0h2m12 0h2m-115 1h2m14 0h2m66 0h2m8 0h2m1 0h2m6 0h2m1 0h2m-110 1h2m-1 0h2m-1 0h2m9 0h2m58 0h2m3 0h2m6 0h2m5 0h2m2 0h2m13 0h2m-114 1h2m17 0h2m59 0h2m1 0h2m31 0h2m-1 0h2m-123 1h2m59 0h2m3 0h2m34 0h2m-1 0h2m5 0h2m5 0h2m1 0h2m-99 1h2m1 0h2m34 0h2m16 0h2m-1 0h2m15 0h2m0 0h2m-84 1h2m8 0h2m57 0h2m1 0h2m6 0h2m4 0h2m14 0h2m1 0h2m-122 1h2m19 0h2m57 0h2m3 0h2m5 0h2m1 0h2m5 0h2m6 0h2m-81 1h2m52 0h2m2 0h2m2 0h2m6 0h2m-105 1h2m3 0h2m-1 0h2m16 0h2m3 0h2m4 0h2m47 0h2m15 0h2m-1 0h2m14 0h2m-1 0h2m2 0h2m2 0h2m-126 1h2m14 0h2m7 0h2m13 0h2m3 0h2m12 0h2m39 0h2m0 0h2m4 0h2m7 0h2m-1 0h2m3 0h2m-121 1h2m4 0h2m7 0h2m17 0h2m-1 0h2m26 0h2m16 0h2m7 0h2m6 0h2m2 0h2m-109 1h2m4 0h2m13 0h2m0 0h2m12 0h2m-1 0h2m-1 0h2m9 0h2m4 0h2m25 0h2m5 0h2m4 0h2m12 0h2m5 0h2m1 0h2m-118 1h2m-1 0h2m10 0h2m2 0h2m3 0h2m11 0h2m20 0h2m16 0h2m1 0h2m6 0h2m-1 0h2m11 0h2m15 0h2m-116 1h2m22 0h2m2 0h2m1 0h2m23 0h2m23 0h2m2 0h2m0 0h2m0 0h2m7 0h2m8 0h2m11 0h2m-121 1h2m4 0h2m4 0h2m51 0h2m14 0h2m1 0h2m0 0h2m-96 1h2m5 0h2m4 0h2m1 0h2m0 0h2m3 0h2m1 0h2m7 0h2m1 0h2m0 0h2m5 0h2m23 0h2m7 0h2m4 0h2m8 0h2m9 0h2m5 0h2m5 0h2m-111 1h2m15 0h2m0 0h2m-1 0h2m11 0h2m7 0h2m22 0h2m3 0h2m7 0h2m1 0h2m2 0h2m4 0h2m3 0h2m-114 1h2m20 0h2m9 0h2m0 0h2m0 0h2m1 0h2m8 0h2m-1 0h2m7 0h2m8 0h2m5 0h2m7 0h2m-76 1h2m1 0h2m2 0h2m2 0h2m19 0h2m5 0h2m0 0h2m8 0h2m-1 0h2m2 0h2m13 0h2m2 0h2m-1 0h2m11 0h2m0 0h2m-100 1h2m0 0h2m14 0h2m0 0h2m25 0h2m9 0h2m7 0h2m5 0h2m6 0h2m7 0h2m8 0h2m3 0h2m-110 1h2m11 0h2m15 0h2m6 0h2m0 0h2m9 0h2m13 0h2m21 0h2m2 0h2m1 0h2m-94 1h2m10 0h2m7 0h2m8 0h2m26 0h2m10 0h2m12 0h2m14 0h2m-1 0h2m-107 1h2m26 0h2m14 0h2m4 0h2m1 0h2m1 0h2m3 0h2m4 0h2m-1 0h2m16 0h2m9 0h2m-93 1h2m18 0h2m2 0h2m8 0h2m1 0h2m11 0h2m6 0h2m2 0h2m-1 0h2m2 0h2m-1 0h2m-1 0h2m4 0h2m10 0h2m4 0h2m2 0h2m0 0h2m-96 1h2m2 0h2m11 0h2m-1 0h2m4 0h2m0 0h2m1 0h2m-1 0h2m5 0h2m1 0h2m-1 0h2m7 0h2m3 0h2m1 0h2m2 0h2m7 0h2m9 0h2m5 0h2m-100 1h2m0 0h2m1 0h2m15 0h2m2 0h2m7 0h2m2 0h2m4 0h2m0 0h2m2 0h2m2 0h2m16 0h2m0 0h2m-1 0h2m10 0h2m14 0h2m4 0h2m-112 1h2m17 0h2m10 0h2m12 0h2m12 0h2m0 0h2m2 0h2m7 0h2m-1 0h2m3 0h2m-1 0h2m-1 0h2m1 0h2m9 0h2m1 0h2m-98 1h2m17 0h2m2 0h2m-1 0h2m6 0h2m0 0h2m-1 0h2m8 0h2m8 0h2m11 0h2m-69 1h2m19 0h2m35 0h2m23 0h2m18 0h2m-115 1h2m18 0h2m33 0h2m23 0h2m33 0h2m-116 1h2m4 0h2m53 0h2m13 0h2m-37 1h2m29 0h2m0 0h2m-71 1h2m5 0h2m36 0h2m0 0h2m10 1h2m0 0h2m-50 1h2m3 0h2m13 0h2" stroke="#8e8e8e"/><path d="M963 994h2m-63 2h2m17 0h2m-47 1h2m11 0h2m4 0h2m2 0h2m-8 2h2m4 0h2m9 0h2m25 0h2m-63 1h2m11 0h2m15 0h2m0 1h2m27 0h2m2 0h2m-1 0h2m-74 1h2m59 0h2m3 0h2m-1 0h2m10 0h2m-83 1h2m45 0h2m7 0h2m2 0h2m15 0h2m-58 1h2m4 0h2m2 0h2m22 0h2m-52 1h2m43 0h2m9 0h2m-1 0h2m-1 0h2m-61 1h2m52 0h2m1 0h2m1 0h2m12 0h2m-75 1h2m15 0h2m6 0h2m4 0h2m21 0h2m19 0h2m-24 1h2m3 0h2m6 0h2m0 0h2m20 0h2m-65 1h2m2 0h2m20 0h2m0 0h2m-1 0h2m6 0h2m2 0h2m2 0h2m-72 1h2m19 0h2m3 0h2m1 0h2m23 0h2m3 0h2m5 0h2m0 0h2m-79 1h2m29 0h2m33 0h2m-1 0h2m1 0h2m-64 1h2m2 0h2m26 0h2m1 0h2m22 0h2m-1 0h2m2 0h2m-71 1h2m3 0h2m2 0h2m6 0h2m9 0h2m9 0h2m1 0h2m1 0h2m15 0h2m1 0h2m1 0h2m0 0h2m-1 0h2m5 0h2m12 0h2m-70 1h2m6 0h2m2 0h2m0 0h2m19 0h2m6 0h2m8 0h2m-79 1h2m9 0h2m7 0h2m-1 0h2m7 0h2m4 0h2m-1 0h2m0 0h2m18 0h2m-1 0h2m12 0h2m-71 1h2m9 0h2m10 0h2m4 0h2m5 0h2m-1 0h2m15 0h2m1 0h2m12 0h2m22 0h2m-96 1h2m-1 0h2m5 0h2m1 0h2m10 0h2m6 0h2m3 0h2m3 0h2m4 0h2m2 0h2m4 0h2m2 0h2m4 0h2m6 0h2m-79 1h2m2 0h2m-1 0h2m-1 0h2m1 0h2m8 0h2m4 0h2m7 0h2m1 0h2m15 0h2m8 0h2m-68 1h2m1 0h2m2 0h2m-1 0h2m5 0h2m3 0h2m4 0h2m-1 0h2m1 0h2m10 0h2m-1 0h2m10 0h2m1 0h2m1 0h2m0 0h2m1 0h2m3 0h2m0 0h2m25 0h2m-99 1h2m4 0h2m14 0h2m-1 0h2m0 0h2m2 0h2m7 0h2m2 0h2m3 0h2m2 0h2m5 0h2m1 0h2m0 0h2m11 0h2m8 0h2m-92 1h2m21 0h2m19 0h2m-1 0h2m0 0h2m9 0h2m3 0h2m3 0h2m-1 0h2m-66 1h2m10 0h2m4 0h2m4 0h2m8 0h2m2 0h2m1 0h2m2 0h2m1 0h2m-1 0h2m1 0h2m6 0h2m-1 0h2m2 0h2m2 0h2m-75 1h2m11 0h2m-1 0h2m6 0h2m0 0h2m1 0h2m-1 0h2m2 0h2m-1 0h2m12 0h2m-1 0h2m0 0h2m-1 0h2m12 0h2m31 0h2m-99 1h2m0 0h2m5 0h2m1 0h2m9 0h2m6 0h2m5 0h2m6 0h2m-1 0h2m2 0h2m2 0h2m3 0h2m-1 0h2m-1 0h2m4 0h2m0 0h2m2 0h2m-78 1h2m-1 0h2m0 0h2m5 0h2m4 0h2m10 0h2m7 0h2m9 0h2m1 0h2m2 0h2m6 0h2m12 0h2m0 0h2m-1 0h2m2 0h2m-83 1h2m1 0h2m3 0h2m0 0h2m-1 0h2m7 0h2m-1 0h2m2 0h2m6 0h2m-1 0h2m-1 0h2m3 0h2m4 0h2m14 0h2m-1 0h2m1 0h2m2 0h2m-1 0h2m2 0h2m0 0h2m14 0h2m-94 1h2m6 0h2m1 0h2m6 0h2m-1 0h2m4 0h2m10 0h2m1 0h2m-1 0h2m2 0h2m1 0h2m-1 0h2m-1 0h2m10 0h2m4 0h2m4 0h2m11 0h2m-87 1h2m-1 0h2m-1 0h2m7 0h2m16 0h2m2 0h2m1 0h2m8 0h2m5 0h2m-1 0h2m0 0h2m10 0h2m0 0h2m10 0h2m1 0h2m-83 1h2m3 0h2m2 0h2m0 0h2m1 0h2m1 0h2m-1 0h2m8 0h2m8 0h2m0 0h2m-1 0h2m-1 0h2m9 0h2m2 0h2m0 0h2m1 0h2m-60 1h2m8 0h2m11 0h2m-1 0h2m6 0h2m4 0h2m1 0h2m6 0h2m-1 0h2m1 0h2m3 0h2m3 0h2m6 0h2m7 0h2m0 0h2m-94 1h2m-1 0h2m0 0h2m3 0h2m7 0h2m6 0h2m16 0h2m7 0h2m-47 1h2m12 0h2m16 0h2m8 0h2m9 0h2m0 0h2m3 0h2m0 0h2m7 0h2m10 0h2m-89 1h2m15 0h2m17 0h2m3 0h2m0 0h2m0 0h2m1 0h2m10 0h2m0 0h2m-1 0h2m-43 1h2m-1 0h2m27 0h2m0 0h2m11 0h2m0 0h2m11 0h2m0 0h2m4 0h2m-93 1h2m-1 0h2m0 0h2m16 0h2m18 0h2m8 0h2m-1 0h2m9 0h2m3 0h2m-1 0h2m-23 1h2m6 0h2m2 0h2m13 0h2m-56 1h2m22 0h2m13 0h2m11 0h2m5 0h2m-61 1h2m2 0h2m2 0h2m1 0h2m12 0h2m5 0h2m0 0h2m-1 0h2m14 0h2m18 0h2m-1 0h2m-52 1h2m1 0h2m0 0h2m0 0h2m10 0h2m13 0h2m2 0h2m-62 1h2m42 0h2m-17 1h2m-30 1h2m30 0h2m15 0h2m-48 1h2m23 0h2m-18 1h2m-5 1h2" stroke="#808080"/><path d="M929 1008h2m0 3h2m2 0h2m-2 1h2m-33 2h2m3 0h2m23 0h2m-34 1h2m36 0h2m-44 1h2m-1 0h2m8 0h2m24 1h2m3 0h2m-1 0h2m-69 1h2m29 0h2m-1 0h2m0 0h2m-1 0h2m21 0h2m-1 0h2m-33 1h2m0 0h2m4 0h2m0 0h2m19 0h2m3 0h2m0 0h2m-40 1h2m1 0h2m3 0h2m31 0h2m-71 1h2m3 0h2m19 0h2m2 0h2m1 0h2m-1 0h2m0 0h2m1 0h2m25 0h2m-69 1h2m-1 0h2m3 0h2m14 0h2m7 0h2m28 0h2m-61 1h2m29 0h2m33 0h2m-43 1h2m2 0h2m9 0h2m20 0h2m0 0h2m-67 1h2m0 0h2m0 0h2m16 0h2m10 0h2m6 0h2m2 0h2m-13 1h2m5 0h2m9 0h2m11 0h2m-62 1h2m35 0h2m28 0h2m-23 1h2m18 0h2m-7 1h2m1 0h2m-13 1h2m-5 2h2m1 0h2m-6 1h2m-4 1h2m-1 0h2" stroke="#727272"/></g><rect x="377.2" y="413.8" width="133.2" height="114.7" fill="none" stroke="#9c9c9c" stroke-width="1"/><line x1="377.2" y1="413.8" x2="377.2" y2="529.0" stroke="#858585" stroke-width="1"/><line x1="376.7" y1="528.5" x2="510.4" y2="528.5" stroke="#858585" stroke-width="1"/><path d="M375.7 528.5h1.5M377.2 528.5v1.5M376.2 519.9h1.0M387.2 528.5v1.0M376.2 514.8h1.0M393.1 528.5v1.0M376.2 511.2h1.0M397.2 528.5v1.0M376.2 508.5h1.0M400.5 528.5v1.0M376.2 506.2h1.0M403.1 528.5v1.0M376.2 504.3h1.0M405.3 528.5v1.0M376.2 502.6h1.0M407.3 528.5v1.0M376.2 501.1h1.0M409.0 528.5v1.0M375.7 499.8h1.5M410.5 528.5v1.5M376.2 491.2h1.0M420.5 528.5v1.0M376.2 486.1h1.0M426.4 528.5v1.0M376.2 482.6h1.0M430.5 528.5v1.0M376.2 479.8h1.0M433.8 528.5v1.0M376.2 477.5h1.0M436.4 528.5v1.0M376.2 475.6h1.0M438.6 528.5v1.0M376.2 473.9h1.0M440.6 528.5v1.0M376.2 472.5h1.0M442.3 528.5v1.0M375.7 471.1h1.5M443.8 528.5v1.5M376.2 462.5h1.0M453.8 528.5v1.0M376.2 457.5h1.0M459.7 528.5v1.0M376.2 453.9h1.0M463.8 528.5v1.0M376.2 451.1h1.0M467.1 528.5v1.0M376.2 448.8h1.0M469.7 528.5v1.0M376.2 446.9h1.0M471.9 528.5v1.0M376.2 445.3h1.0M473.9 528.5v1.0M376.2 443.8h1.0M475.6 528.5v1.0M375.7 442.5h1.5M477.1 528.5v1.5M376.2 433.8h1.0M487.1 528.5v1.0M376.2 428.8h1.0M493.0 528.5v1.0M376.2 425.2h1.0M497.1 528.5v1.0M376.2 422.4h1.0M500.4 528.5v1.0M376.2 420.2h1.0M503.0 528.5v1.0M376.2 418.2h1.0M505.2 528.5v1.0M376.2 416.6h1.0M507.2 528.5v1.0M376.2 415.1h1.0M508.9 528.5v1.0" stroke="#777" stroke-width="0.7"/><text x="410.8" y="539.7" font-size="8" fill="#1e1e1e" stroke="#1e1e1e" stroke-width="0.15" text-anchor="middle">10<tspan font-size="6.6" dy="-3.6">1</tspan></text><text x="372.8" y="499.8" font-size="8" fill="#1e1e1e" stroke="#1e1e1e" stroke-width="0.15" text-anchor="middle" transform="rotate(-90 372.8 499.8)">10<tspan font-size="6.6" dy="-3.6">1</tspan></text><text x="444.1" y="539.7" font-size="8" fill="#1e1e1e" stroke="#1e1e1e" stroke-width="0.15" text-anchor="middle">10<tspan font-size="6.6" dy="-3.6">2</tspan></text><text x="372.8" y="471.1" font-size="8" fill="#1e1e1e" stroke="#1e1e1e" stroke-width="0.15" text-anchor="middle" transform="rotate(-90 372.8 471.1)">10<tspan font-size="6.6" dy="-3.6">2</tspan></text><text x="477.4" y="539.7" font-size="8" fill="#1e1e1e" stroke="#1e1e1e" stroke-width="0.15" text-anchor="middle">10<tspan font-size="6.6" dy="-3.6">3</tspan></text><text x="372.8" y="442.5" font-size="8" fill="#1e1e1e" stroke="#1e1e1e" stroke-width="0.15" text-anchor="middle" transform="rotate(-90 372.8 442.5)">10<tspan font-size="6.6" dy="-3.6">3</tspan></text><text x="510.7" y="539.7" font-size="8" fill="#1e1e1e" stroke="#1e1e1e" stroke-width="0.15" text-anchor="middle">10<tspan font-size="6.6" dy="-3.6">4</tspan></text><text x="372.8" y="413.8" font-size="8" fill="#1e1e1e" stroke="#1e1e1e" stroke-width="0.15" text-anchor="middle" transform="rotate(-90 372.8 413.8)">10<tspan font-size="6.6" dy="-3.6">4</tspan></text><rect x="405.8" y="446.6" width="28.7" height="37.4" fill="none" stroke="#8a8a8a" stroke-width="1.8"/><rect x="426.2" y="493.7" width="68.5" height="34.3" fill="none" stroke="#484848" stroke-width="1.8"/><text x="421.0" y="427.5" font-size="14.8" font-weight="bold" fill="#8c8c8c">A1</text><line x1="425.6" y1="430.9" x2="422.9" y2="437.0" stroke="#8c8c8c" stroke-width="2.1"/><polygon points="420.7,442.0 420.1,434.7 426.5,437.5" fill="#8c8c8c"/><text x="452.0" y="474.3" font-size="14.8" font-weight="bold" fill="#454545">A2</text><line x1="460.5" y1="478.8" x2="460.5" y2="483.3" stroke="#454545" stroke-width="2.1"/><polygon points="460.5,488.8 457.0,482.3 464.0,482.3" fill="#454545"/><text x="508.0" y="409.8" font-size="14.5" font-weight="bold" text-anchor="end" fill="#000">Thrombin + Cvx</text><text x="444.4" y="552.0" font-size="13" font-weight="bold" text-anchor="middle" fill="#000">FITC – annexin V</text><g transform="scale(0.5)" filter="url(#bl)" stroke-width="2" fill="none"><path d="M353 1231h2m-196 24h2m5 0h2m-20 2h2m19 5h2m-28 1h2m37 4h2m-47 3h2m18 0h2m11 0h2m3 0h2m-33 1h2m23 0h2m-1 0h2m-48 1h2m27 0h2m48 0h2m-56 2h2m7 0h2m-5 1h2m36 0h2m-38 1h2m-1 0h2m19 0h2m-19 1h2m13 0h2m1 0h2m-25 1h2m-54 1h2m25 0h2m59 0h2m3 0h2m63 0h2m-144 1h2m2 0h2m1 0h2m14 1h2m43 0h2m-62 1h2m29 0h2m-10 1h2m56 0h2m-103 1h2m22 0h2m-24 2h2m25 0h2m67 0h2m-94 1h2m12 0h2m91 0h2m-95 2h2m-23 1h2m17 1h2m-8 1h2m-25 1h2m2 0h2m97 0h2m8 0h2m18 0h2m-125 1h2m2 0h2m86 0h2m-84 2h2m-9 3h2m6 0h2m90 0h2m-14 1h2m12 1h2m-114 1h2m13 0h2m85 0h2m-97 1h2m108 0h2m-119 1h2m11 0h2m96 0h2m14 0h2m-29 2h2m-96 1h2m118 0h2m-131 2h2m134 0h2m4 0h2m-144 2h2m110 0h2m7 0h2m8 0h2m-29 1h2m-1 0h2m19 0h2m-129 1h2m129 0h2m-121 1h2m112 0h2m-123 1h2m2 0h2m-3 1h2m103 0h2m38 1h2m-147 1h2m7 0h2m-12 1h2m99 0h2m39 0h2m-35 1h2m-111 1h2m140 1h2m-139 2h2m-1 0h2m-12 2h2m105 0h2m-112 1h2m120 1h2m-19 1h2m-107 3h2m8 1h2m97 1h2m-107 1h2m102 0h2m20 0h2m-108 1h2m5 0h2m72 0h2m5 1h2m-99 1h2m3 0h2m85 0h2m15 0h2m1 0h2m2 0h2m-125 1h2m12 1h2m-17 2h2m146 0h2m-157 1h2m139 0h2m-141 1h2m149 0h2m-43 1h2m-103 1h2m84 0h2m0 0h2m48 0h2m-149 1h2m8 0h2m112 0h2m-100 1h2m6 0h2m5 0h2m109 0h2m-119 1h2m3 0h2m43 1h2m-52 1h2m38 0h2m14 0h2m13 0h2m-93 1h2m11 0h2m13 0h2m-37 1h2m79 0h2m20 0h2m-23 1h2m16 0h2m-100 1h2m22 0h2m50 0h2m16 0h2m-22 1h2m0 0h2m-44 1h2m49 0h2m0 0h2m-26 1h2m12 0h2m-1 0h2m8 1h2m0 0h2m2 0h2m-82 1h2m89 1h2m-105 1h2m64 0h2m27 0h2m-49 1h2m23 0h2m-1 0h2m-57 1h2m6 0h2m22 0h2m3 0h2m13 0h2m-50 1h2m21 0h2m33 0h2m8 0h2m-83 1h2m18 0h2m-26 1h2m4 0h2m1 0h2m9 0h2m11 0h2m2 0h2m11 0h2m25 0h2m-4 1h2m5 1h2m71 0h2m-1 0h2m-132 1h2m9 0h2m21 0h2m12 0h2m-58 1h2m23 0h2m1 0h2m31 0h2m-14 1h2m-27 1h2m13 0h2m-41 1h2m116 0h2m22 0h2m-151 1h2m42 0h2m-72 1h2m3 0h2m35 0h2m10 0h2m18 0h2m24 0h2m28 0h2m-83 1h2m18 0h2m-33 1h2m27 0h2m2 0h2m3 0h2m12 0h2m95 0h2m-173 1h2m69 0h2m-93 1h2m3 0h2m20 0h2m4 0h2m20 0h2m0 0h2m57 0h2m-109 1h2m23 0h2m45 0h2m14 0h2m-83 1h2m11 0h2m77 0h2m52 0h2m-131 1h2m52 0h2m40 0h2m-106 2h2m12 0h2m10 0h2m3 0h2m-42 1h2m30 0h2m24 0h2m-45 1h2m32 0h2m39 0h2m-59 1h2m17 0h2m-1 0h2m27 0h2m-69 1h2m82 0h2m-64 1h2m2 0h2m15 0h2m-59 1h2m17 0h2m28 0h2m-38 1h2m72 0h2m8 0h2m-69 1h2m33 0h2m23 0h2m13 0h2m-37 1h2m-55 1h2m1 0h2m1 0h2m10 0h2m-44 1h2m54 0h2m0 0h2m23 0h2m-77 1h2m24 0h2m9 0h2m22 0h2m18 0h2m-73 1h2m16 0h2m11 0h2m22 0h2m2 0h2m70 0h2m14 0h2m-157 1h2m25 0h2m38 0h2m21 0h2m-112 1h2m51 0h2m1 0h2m7 0h2m-35 1h2m96 0h2m-70 1h2m-51 1h2m11 0h2m34 0h2m44 0h2m-89 1h2m20 0h2m20 0h2m41 1h2m-66 1h2m48 1h2m-9 1h2m63 0h2m-120 1h2m17 0h2m14 0h2m7 0h2m77 0h2m-118 1h2m20 0h2m15 0h2m3 0h2m-25 1h2m7 1h2m-5 1h2m7 0h2m4 1h2m-84 1h2m41 0h2m-8 1h2m178 0h2m-181 1h2m5 0h2m9 0h2m27 0h2m-34 1h2m10 0h2m55 0h2m36 0h2m-153 1h2m13 0h2m22 0h2m29 1h2m-33 1h2m16 1h2m11 0h2m12 1h2m28 1h2m-124 1h2m38 1h2m37 0h2m-58 1h2m10 1h2m-22 1h2m8 0h2m8 0h2m6 0h2m92 0h2m51 0h2m-131 2h2m77 2h2m-120 2h2m20 0h2m132 0h2m-171 1h2m23 0h2m110 0h2m-126 2h2m50 2h2m14 1h2m-95 1h2m116 0h2" stroke="#ababab"/><path d="M173 1277h2m10 1h2m-20 1h2m-21 1h2m0 1h2m16 0h2m3 0h2m2 0h2m-72 1h2m44 0h2m14 0h2m0 0h2m10 0h2m5 0h2m-51 1h2m-1 0h2m11 0h2m16 0h2m0 0h2m12 0h2m-40 1h2m5 0h2m17 0h2m10 0h2m0 0h2m-52 1h2m4 0h2m-15 1h2m18 0h2m16 0h2m12 0h2m-29 1h2m2 0h2m12 0h2m3 0h2m-48 1h2m54 0h2m-54 1h2m0 0h2m31 0h2m4 0h2m5 0h2m1 1h2m1 0h2m-70 1h2m0 0h2m3 0h2m43 0h2m8 0h2m-89 1h2m7 0h2m20 0h2m1 0h2m-6 1h2m-7 1h2m64 0h2m-2 1h2m-71 1h2m2 0h2m65 0h2m-74 1h2m3 0h2m-11 2h2m6 0h2m-15 1h2m11 2h2m-10 1h2m2 0h2m2 0h2m80 0h2m-90 1h2m-1 0h2m4 0h2m-15 1h2m4 1h2m1 0h2m74 0h2m-96 1h2m8 0h2m-3 1h2m82 0h2m-82 2h2m6 0h2m78 0h2m-97 1h2m0 1h2m-1 0h2m2 0h2m-13 1h2m3 1h2m-15 2h2m22 2h2m-13 2h2m3 1h2m78 0h2m-93 1h2m8 0h2m5 0h2m-9 1h2m-5 2h2m81 0h2m-83 1h2m-5 1h2m5 1h2m-3 1h2m74 0h2m-83 1h2m-13 1h2m9 0h2m3 0h2m4 0h2m-16 1h2m9 1h2m6 0h2m0 0h2m-7 1h2m7 0h2m59 0h2m-88 2h2m4 0h2m5 0h2m5 0h2m63 0h2m-84 1h2m0 0h2m22 0h2m55 0h2m-76 1h2m11 0h2m-1 0h2m-24 1h2m9 0h2m13 0h2m-25 1h2m29 0h2m-20 1h2m-1 0h2m59 0h2m0 0h2m-65 1h2m4 0h2m7 0h2m40 0h2m-72 1h2m-1 0h2m11 0h2m-15 1h2m24 0h2m30 0h2m0 0h2m1 0h2m-65 1h2m16 0h2m0 0h2m-1 0h2m4 0h2m11 0h2m3 0h2m20 1h2m-1 0h2m-66 1h2m5 0h2m17 0h2m36 0h2m-67 1h2m46 0h2m1 0h2m12 0h2m-71 1h2m30 0h2m-4 1h2m3 0h2m3 0h2m4 0h2m3 0h2m-22 1h2m13 0h2m-47 1h2m20 0h2m7 0h2m2 0h2m-1 0h2m2 1h2m0 0h2m11 0h2m-37 1h2m18 0h2m11 0h2m-28 1h2m-1 0h2m3 0h2m40 0h2m-90 1h2m45 1h2m7 0h2m7 0h2m29 0h2m-51 1h2m11 0h2m5 0h2m-31 1h2m8 0h2m7 0h2m0 0h2m1 0h2m25 0h2m-68 1h2m0 0h2m15 0h2m3 0h2m-24 1h2m11 0h2m21 0h2m12 0h2m-38 1h2m0 0h2m-36 1h2m19 0h2m42 0h2m-34 1h2m10 0h2m32 0h2m-67 1h2m33 0h2m2 0h2m3 0h2m-16 2h2m-16 1h2m36 0h2m12 0h2m-63 1h2m1 0h2m2 0h2m12 0h2m-14 3h2m39 1h2m3 0h2m-23 1h2m13 0h2m-47 1h2m7 0h2m0 1h2m-18 1h2m8 0h2m-35 2h2m30 0h2m3 0h2m0 0h2m22 0h2m-19 2h2m28 0h2m-45 1h2m13 0h2m5 0h2m5 0h2m25 0h2m-42 1h2m13 0h2m19 0h2m-47 1h2m5 1h2m6 0h2m-34 1h2m10 0h2m22 0h2m-50 1h2m34 4h2m-2 1h2m12 2h2m20 1h2m-34 2h2m5 1h2m-43 2h2m17 0h2m-31 1h2m23 1h2m-13 1h2m34 0h2m-36 4h2m24 0h2m-15 1h2m-26 1h2m-1 2h2m41 0h2m-44 1h2m34 0h2m-35 1h2m34 0h2m-32 1h2m26 0h2m-2 3h2" stroke="#9c9c9c"/><path d="M179 1282h2m5 0h2m-19 1h2m11 0h2m-14 1h2m11 0h2m-41 2h2m18 0h2m5 0h2m-17 1h2m4 0h2m0 0h2m-1 0h2m3 0h2m6 0h2m7 0h2m-57 1h2m13 0h2m2 0h2m3 0h2m8 0h2m1 0h2m6 0h2m-1 0h2m3 0h2m3 0h2m0 0h2m-41 1h2m1 0h2m2 0h2m24 0h2m-54 1h2m10 0h2m8 0h2m6 0h2m2 0h2m8 0h2m6 0h2m-47 1h2m-1 0h2m2 0h2m-1 0h2m1 0h2m-1 0h2m1 0h2m8 0h2m2 0h2m2 0h2m8 0h2m0 0h2m-48 1h2m4 0h2m7 0h2m16 0h2m4 0h2m-32 1h2m31 0h2m7 0h2m4 0h2m-1 0h2m-64 1h2m-1 0h2m22 0h2m18 0h2m-1 0h2m1 0h2m6 0h2m-1 0h2m-63 1h2m6 0h2m50 0h2m0 1h2m-64 1h2m0 0h2m6 0h2m33 0h2m-49 1h2m5 0h2m0 0h2m-1 0h2m-1 0h2m5 0h2m-15 1h2m-1 0h2m55 1h2m-57 2h2m-13 1h2m6 0h2m58 1h2m-66 1h2m-1 0h2m0 0h2m0 0h2m2 0h2m55 0h2m-73 2h2m69 1h2m-73 1h2m-9 1h2m1 0h2m0 0h2m71 1h2m-1 1h2m-72 1h2m-1 0h2m2 0h2m-17 1h2m1 0h2m2 0h2m4 0h2m67 0h2m-83 1h2m7 0h2m0 0h2m-5 1h2m1 0h2m65 0h2m-66 1h2m-5 2h2m66 0h2m0 0h2m-80 1h2m0 0h2m71 0h2m-70 1h2m-1 0h2m-10 1h2m1 0h2m0 0h2m-1 0h2m-2 1h2m-8 1h2m1 0h2m1 1h2m-5 1h2m-1 0h2m3 0h2m-1 0h2m62 0h2m-77 1h2m2 1h2m7 0h2m-16 1h2m4 0h2m4 0h2m-4 1h2m2 0h2m1 0h2m57 0h2m-63 1h2m-1 0h2m0 0h2m55 1h2m-71 1h2m13 0h2m-4 1h2m-4 2h2m0 0h2m5 0h2m8 0h2m34 0h2m-1 0h2m-51 1h2m-1 0h2m5 0h2m40 0h2m-47 1h2m43 0h2m-58 1h2m5 0h2m2 0h2m4 0h2m35 0h2m-1 0h2m-36 1h2m27 0h2m5 0h2m-42 1h2m27 0h2m-1 0h2m-34 1h2m3 0h2m0 0h2m14 0h2m2 0h2m1 0h2m0 0h2m-50 1h2m12 0h2m0 0h2m4 0h2m0 0h2m17 0h2m-11 1h2m-15 1h2m8 0h2m-4 1h2m4 0h2m0 0h2m0 0h2m-9 1h2m0 1h2m-19 1h2m13 0h2m-21 1h2m6 0h2m-13 1h2m0 1h2m-1 0h2m3 0h2m6 0h2m4 1h2m-20 1h2m13 0h2m-1 0h2m-10 1h2m0 0h2m1 0h2m-16 1h2m4 0h2m6 2h2" stroke="#8e8e8e"/><path d="M158 1288h2m5 1h2m-16 1h2m7 0h2m-1 0h2m1 0h2m1 0h2m4 0h2m-28 1h2m9 0h2m16 0h2m-29 1h2m-1 0h2m2 0h2m1 0h2m4 0h2m-16 1h2m4 0h2m-1 0h2m2 0h2m6 0h2m-32 1h2m20 0h2m1 0h2m1 0h2m-1 0h2m-35 1h2m2 0h2m4 0h2m4 0h2m-1 0h2m7 0h2m4 0h2m1 0h2m0 0h2m8 0h2m2 0h2m3 0h2m-54 1h2m5 0h2m0 0h2m9 0h2m5 0h2m1 0h2m6 0h2m2 0h2m-1 0h2m-51 1h2m7 0h2m1 0h2m-1 0h2m1 0h2m4 0h2m-1 0h2m13 0h2m7 0h2m2 0h2m3 0h2m-47 1h2m9 0h2m4 0h2m5 0h2m10 0h2m-1 0h2m1 0h2m3 0h2m0 0h2m-49 1h2m0 0h2m12 0h2m4 0h2m5 0h2m15 0h2m0 0h2m-17 1h2m3 0h2m-49 1h2m4 0h2m16 0h2m14 0h2m10 0h2m3 0h2m0 0h2m-52 1h2m19 0h2m23 0h2m-56 1h2m0 0h2m22 0h2m1 0h2m-37 1h2m5 0h2m3 0h2m45 0h2m-58 1h2m4 0h2m-14 1h2m1 0h2m1 0h2m0 0h2m57 0h2m-61 1h2m26 0h2m29 0h2m-63 1h2m4 0h2m0 0h2m-1 0h2m49 0h2m-65 1h2m3 0h2m0 0h2m4 0h2m45 0h2m2 0h2m-66 1h2m1 0h2m1 0h2m58 0h2m-65 1h2m0 0h2m-1 0h2m56 0h2m-62 1h2m0 0h2m57 0h2m-62 1h2m-5 1h2m60 0h2m-64 1h2m-1 0h2m-8 1h2m-1 2h2m-1 0h2m-1 0h2m3 0h2m56 0h2m-2 1h2m-70 1h2m67 0h2m-65 1h2m-3 1h2m2 0h2m55 0h2m-58 1h2m-4 1h2m0 2h2m53 0h2m-1 0h2m-64 1h2m2 0h2m2 0h2m-4 1h2m22 0h2m28 0h2m-56 1h2m-1 0h2m-1 0h2m55 0h2m-54 1h2m43 0h2m-29 1h2m30 0h2m-44 1h2m39 0h2m-48 1h2m1 0h2m2 0h2m3 0h2m33 0h2m0 0h2m-55 1h2m2 0h2m0 0h2m-1 0h2m4 0h2m3 0h2m24 0h2m-50 1h2m15 0h2m0 0h2m-1 0h2m0 0h2m1 0h2m26 0h2m-1 0h2m-46 1h2m39 0h2m-45 1h2m4 0h2m3 0h2m0 0h2m0 0h2m0 0h2m-1 0h2m-15 1h2m6 0h2m2 0h2m5 0h2m10 0h2m-27 1h2m1 0h2m2 0h2m1 0h2m1 0h2m5 0h2m-1 0h2m5 0h2m-30 1h2m2 0h2m2 0h2m3 0h2m1 0h2m3 0h2m1 0h2m-25 1h2m-1 0h2m1 0h2m0 0h2m1 0h2m0 0h2m-3 1h2m-13 1h2m0 0h2m12 0h2m-1 0h2m4 0h2m-10 1h2m-1 0h2" stroke="#808080"/><path d="M164 1293h2m-11 1h2m2 1h2m3 0h2m-1 0h2m-13 1h2m26 0h2m-33 1h2m15 0h2m-15 1h2m4 0h2m0 0h2m3 0h2m0 0h2m1 0h2m11 0h2m-1 0h2m-35 1h2m2 0h2m4 0h2m13 0h2m6 0h2m-39 1h2m0 0h2m3 0h2m0 0h2m1 0h2m-1 0h2m0 0h2m1 0h2m4 0h2m8 0h2m-1 0h2m-1 0h2m-47 1h2m0 0h2m1 0h2m-1 0h2m0 0h2m3 0h2m-1 0h2m-1 0h2m1 0h2m2 0h2m2 0h2m-1 0h2m0 0h2m1 0h2m5 0h2m0 0h2m4 0h2m-45 1h2m-1 0h2m0 0h2m-1 0h2m2 0h2m0 0h2m1 0h2m0 0h2m4 0h2m-1 0h2m0 0h2m0 0h2m1 0h2m3 0h2m-1 0h2m-1 0h2m0 0h2m3 0h2m-48 1h2m6 0h2m0 0h2m-1 0h2m-1 0h2m11 0h2m2 0h2m-1 0h2m1 0h2m2 0h2m1 0h2m0 0h2m-1 0h2m-1 0h2m0 0h2m-48 1h2m0 0h2m0 0h2m3 0h2m1 0h2m-1 0h2m-1 0h2m10 0h2m-1 0h2m-1 0h2m1 0h2m0 0h2m-1 0h2m-1 0h2m0 0h2m-1 0h2m0 0h2m-1 0h2m0 0h2m-1 0h2m1 0h2m-49 1h2m-1 0h2m1 0h2m-1 0h2m-1 0h2m0 0h2m-1 0h2m-1 0h2m-1 0h2m0 0h2m-1 0h2m4 0h2m-1 0h2m2 0h2m0 0h2m0 0h2m-1 0h2m-1 0h2m1 0h2m1 0h2m2 0h2m0 0h2m-1 0h2m-52 1h2m6 0h2m-1 0h2m0 0h2m-1 0h2m-1 0h2m-1 0h2m-1 0h2m1 0h2m1 0h2m1 0h2m3 0h2m0 0h2m-1 0h2m1 0h2m-1 0h2m-1 0h2m0 0h2m5 0h2m7 0h2m-47 1h2m0 0h2m-1 0h2m0 0h2m2 0h2m2 0h2m3 0h2m12 0h2m1 0h2m1 0h2m2 0h2m-55 1h2m-1 0h2m4 0h2m2 0h2m1 0h2m0 0h2m-1 0h2m-1 0h2m0 0h2m-1 0h2m-1 0h2m0 0h2m0 0h2m-1 0h2m-1 0h2m3 0h2m2 0h2m-1 0h2m-1 0h2m0 0h2m-1 0h2m0 0h2m3 0h2m1 0h2m0 0h2m-1 0h2m-1 0h2m-50 1h2m1 0h2m-1 0h2m2 0h2m-1 0h2m-1 0h2m0 0h2m3 0h2m-1 0h2m-1 0h2m-1 0h2m-1 0h2m2 0h2m0 0h2m3 0h2m-1 0h2m3 0h2m-1 0h2m0 0h2m-44 1h2m-1 0h2m5 0h2m2 0h2m2 0h2m-1 0h2m2 0h2m2 0h2m1 0h2m0 0h2m-1 0h2m1 0h2m-1 0h2m0 0h2m0 0h2m1 0h2m-1 0h2m-40 1h2m1 0h2m-1 0h2m-1 0h2m11 0h2m0 0h2m-1 0h2m3 0h2m0 0h2m0 0h2m1 0h2m-1 0h2m1 0h2m0 0h2m0 0h2m0 0h2m-53 1h2m1 0h2m1 0h2m2 0h2m0 0h2m2 0h2m2 0h2m3 0h2m1 0h2m3 0h2m2 0h2m2 0h2m-1 0h2m-1 0h2m2 0h2m0 0h2m1 0h2m0 0h2m-57 1h2m0 0h2m1 0h2m1 0h2m3 0h2m-1 0h2m-1 0h2m2 0h2m-1 0h2m0 0h2m-1 0h2m3 0h2m0 0h2m0 0h2m-1 0h2m0 0h2m3 0h2m-1 0h2m-1 0h2m1 0h2m0 0h2m2 0h2m0 0h2m-1 0h2m-58 1h2m-1 0h2m0 0h2m1 0h2m1 0h2m-1 0h2m-1 0h2m-1 0h2m-1 0h2m-1 0h2m-1 0h2m0 0h2m-1 0h2m-1 0h2m1 0h2m-1 0h2m0 0h2m0 0h2m3 0h2m-1 0h2m-1 0h2m1 0h2m0 0h2m2 0h2m2 0h2m-1 0h2m-1 0h2m-1 0h2m-51 1h2m1 0h2m-1 0h2m3 0h2m0 0h2m-1 0h2m3 0h2m-1 0h2m-1 0h2m-1 0h2m-1 0h2m0 0h2m2 0h2m-1 0h2m0 0h2m-1 0h2m-1 0h2m2 0h2m6 0h2m-1 0h2m-1 0h2m-1 0h2m0 0h2m-1 0h2m1 0h2m-56 1h2m0 0h2m-1 0h2m0 0h2m-1 0h2m-1 0h2m1 0h2m-1 0h2m1 0h2m2 0h2m-1 0h2m2 0h2m-1 0h2m4 0h2m6 0h2m2 0h2m0 0h2m-1 0h2m-1 0h2m0 0h2m0 0h2m-1 0h2m1 0h2m-57 1h2m3 0h2m2 0h2m-1 0h2m1 0h2m-1 0h2m0 0h2m0 0h2m-1 0h2m1 0h2m-1 0h2m-1 0h2m1 0h2m0 0h2m0 0h2m-1 0h2m0 0h2m1 0h2m1 0h2m1 0h2m-1 0h2m3 0h2m2 0h2m-1 0h2m-1 0h2m-60 1h2m5 0h2m0 0h2m-1 0h2m1 0h2m-1 0h2m0 0h2m1 0h2m1 0h2m-1 0h2m-1 0h2m4 0h2m-1 0h2m-1 0h2m3 0h2m0 0h2m2 0h2m-1 0h2m3 0h2m0 0h2m1 0h2m-1 0h2m-1 0h2m-1 0h2m0 0h2m-57 1h2m-1 0h2m0 0h2m-1 0h2m-1 0h2m-1 0h2m-1 0h2m0 0h2m0 0h2m0 0h2m0 0h2m-1 0h2m3 0h2m-1 0h2m-1 0h2m1 0h2m2 0h2m-1 0h2m0 0h2m-1 0h2m-1 0h2m0 0h2m-1 0h2m-1 0h2m0 0h2m1 0h2m-1 0h2m0 0h2m1 0h2m-1 0h2m4 0h2m-61 1h2m-1 0h2m3 0h2m1 0h2m-1 0h2m-1 0h2m0 0h2m1 0h2m-1 0h2m2 0h2m-1 0h2m-1 0h2m1 0h2m1 0h2m-1 0h2m-1 0h2m1 0h2m-1 0h2m-1 0h2m-1 0h2m0 0h2m-1 0h2m-1 0h2m0 0h2m5 0h2m3 0h2m-1 0h2m-58 1h2m1 0h2m0 0h2m0 0h2m2 0h2m0 0h2m1 0h2m-1 0h2m0 0h2m-1 0h2m0 0h2m-1 0h2m1 0h2m-1 0h2m0 0h2m0 0h2m-1 0h2m1 0h2m-1 0h2m0 0h2m-1 0h2m-1 0h2m-1 0h2m0 0h2m0 0h2m1 0h2m-1 0h2m-1 0h2m0 0h2m0 0h2m-1 0h2m1 0h2m-60 1h2m-1 0h2m5 0h2m-1 0h2m-1 0h2m-1 0h2m0 0h2m1 0h2m-1 0h2m-1 0h2m0 0h2m-1 0h2m1 0h2m-1 0h2m-1 0h2m0 0h2m0 0h2m-1 0h2m8 0h2m-1 0h2m1 0h2m4 0h2m-1 0h2m1 0h2m0 0h2m-57 1h2m1 0h2m0 0h2m1 0h2m1 0h2m0 0h2m-1 0h2m-1 0h2m0 0h2m0 0h2m2 0h2m0 0h2m1 0h2m0 0h2m0 0h2m-1 0h2m0 0h2m0 0h2m0 0h2m5 0h2m3 0h2m-48 1h2m2 0h2m-1 0h2m0 0h2m-1 0h2m3 0h2m3 0h2m0 0h2m-1 0h2m2 0h2m3 0h2m0 0h2m-1 0h2m-1 0h2m-1 0h2m0 0h2m0 0h2m1 0h2m2 0h2m-1 0h2m-53 1h2m-1 0h2m0 0h2m3 0h2m0 0h2m0 0h2m0 0h2m0 0h2m-1 0h2m0 0h2m0 0h2m-1 0h2m-1 0h2m0 0h2m-1 0h2m1 0h2m6 0h2m0 0h2m-1 0h2m3 0h2m-1 0h2m-1 0h2m-1 0h2m0 0h2m0 0h2m-1 0h2m-55 1h2m-1 0h2m2 0h2m2 0h2m4 0h2m0 0h2m-1 0h2m8 0h2m0 0h2m0 0h2m0 0h2m-1 0h2m0 0h2m2 0h2m1 0h2m-1 0h2m0 0h2m0 0h2m-1 0h2m-50 1h2m0 0h2m-1 0h2m0 0h2m2 0h2m1 0h2m4 0h2m1 0h2m-1 0h2m-1 0h2m2 0h2m0 0h2m-1 0h2m-1 0h2m0 0h2m0 0h2m-1 0h2m-1 0h2m0 0h2m-1 0h2m-1 0h2m4 0h2m0 0h2m1 0h2m-55 1h2m-1 0h2m4 0h2m1 0h2m-1 0h2m-1 0h2m1 0h2m4 0h2m0 0h2m-1 0h2m-1 0h2m3 0h2m1 0h2m-1 0h2m-1 0h2m1 0h2m2 0h2m0 0h2m5 0h2m-50 1h2m-1 0h2m0 0h2m-1 0h2m1 0h2m0 0h2m1 0h2m0 0h2m0 0h2m4 0h2m0 0h2m0 0h2m-1 0h2m-1 0h2m-1 0h2m0 0h2m0 0h2m-1 0h2m-1 0h2m3 0h2m0 0h2m0 0h2m-47 1h2m0 0h2m-1 0h2m-1 0h2m0 0h2m1 0h2m0 0h2m0 0h2m0 0h2m1 0h2m5 0h2m-1 0h2m1 0h2m0 0h2m4 0h2m2 0h2m0 0h2m0 0h2m-46 1h2m0 0h2m1 0h2m13 0h2m2 0h2m-1 0h2m0 0h2m3 0h2m-1 0h2m1 0h2m-1 0h2m0 0h2m-1 0h2m-1 0h2m0 0h2m0 0h2m-42 1h2m6 0h2m10 0h2m-1 0h2m1 0h2m1 0h2m-1 0h2m-1 0h2m0 0h2m1 0h2m-1 0h2m0 0h2m-1 0h2m0 0h2m-1 0h2m-1 0h2m-48 1h2m11 0h2m3 0h2m2 0h2m-1 0h2m0 0h2m-1 0h2m0 0h2m0 0h2m-1 0h2m1 0h2m-1 0h2m2 0h2m0 0h2m-23 1h2m10 0h2m-1 0h2m-1 0h2m9 0h2m-30 1h2m4 0h2m0 0h2m-1 0h2m-1 0h2m-1 0h2m-1 0h2m0 0h2m1 0h2m0 0h2m-1 0h2m-1 0h2m0 0h2m-1 0h2m-1 0h2m-27 1h2m4 0h2m0 0h2m1 0h2m-1 0h2m-1 0h2m3 0h2m2 0h2m-20 1h2m1 0h2m-1 0h2m-1 0h2m0 0h2m0 0h2m-1 0h2m-1 0h2m2 0h2m-1 0h2m0 0h2m-18 1h2m10 0h2m-16 1h2m9 0h2m1 0h2m1 0h2m-8 2h2" stroke="#727272"/></g><rect x="48.3" y="607.3" width="130.7" height="113.8" fill="none" stroke="#9c9c9c" stroke-width="1"/><line x1="48.3" y1="607.3" x2="48.3" y2="721.6" stroke="#858585" stroke-width="1"/><line x1="47.8" y1="721.1" x2="179.0" y2="721.1" stroke="#858585" stroke-width="1"/><path d="M46.8 721.1h1.5M48.3 721.1v1.5M47.3 712.5h1.0M58.1 721.1v1.0M47.3 707.5h1.0M63.9 721.1v1.0M47.3 704.0h1.0M68.0 721.1v1.0M47.3 701.2h1.0M71.1 721.1v1.0M47.3 699.0h1.0M73.7 721.1v1.0M47.3 697.1h1.0M75.9 721.1v1.0M47.3 695.4h1.0M77.8 721.1v1.0M47.3 694.0h1.0M79.5 721.1v1.0M46.8 692.6h1.5M81.0 721.1v1.5M47.3 684.1h1.0M90.8 721.1v1.0M47.3 679.1h1.0M96.6 721.1v1.0M47.3 675.5h1.0M100.6 721.1v1.0M47.3 672.8h1.0M103.8 721.1v1.0M47.3 670.5h1.0M106.4 721.1v1.0M47.3 668.6h1.0M108.6 721.1v1.0M47.3 667.0h1.0M110.5 721.1v1.0M47.3 665.5h1.0M112.2 721.1v1.0M46.8 664.2h1.5M113.6 721.1v1.5M47.3 655.6h1.0M123.5 721.1v1.0M47.3 650.6h1.0M129.2 721.1v1.0M47.3 647.1h1.0M133.3 721.1v1.0M47.3 644.3h1.0M136.5 721.1v1.0M47.3 642.1h1.0M139.1 721.1v1.0M47.3 640.2h1.0M141.3 721.1v1.0M47.3 638.5h1.0M143.2 721.1v1.0M47.3 637.1h1.0M144.8 721.1v1.0M46.8 635.8h1.5M146.3 721.1v1.5M47.3 627.2h1.0M156.2 721.1v1.0M47.3 622.2h1.0M161.9 721.1v1.0M47.3 618.6h1.0M166.0 721.1v1.0M47.3 615.9h1.0M169.2 721.1v1.0M47.3 613.6h1.0M171.8 721.1v1.0M47.3 611.7h1.0M173.9 721.1v1.0M47.3 610.1h1.0M175.8 721.1v1.0M47.3 608.6h1.0M177.5 721.1v1.0" stroke="#777" stroke-width="0.7"/><text x="81.3" y="732.3" font-size="8" fill="#1e1e1e" stroke="#1e1e1e" stroke-width="0.15" text-anchor="middle">10<tspan font-size="6.6" dy="-3.6">1</tspan></text><text x="43.9" y="692.6" font-size="8" fill="#1e1e1e" stroke="#1e1e1e" stroke-width="0.15" text-anchor="middle" transform="rotate(-90 43.9 692.6)">10<tspan font-size="6.6" dy="-3.6">1</tspan></text><text x="113.9" y="732.3" font-size="8" fill="#1e1e1e" stroke="#1e1e1e" stroke-width="0.15" text-anchor="middle">10<tspan font-size="6.6" dy="-3.6">2</tspan></text><text x="43.9" y="664.2" font-size="8" fill="#1e1e1e" stroke="#1e1e1e" stroke-width="0.15" text-anchor="middle" transform="rotate(-90 43.9 664.2)">10<tspan font-size="6.6" dy="-3.6">2</tspan></text><text x="146.6" y="732.3" font-size="8" fill="#1e1e1e" stroke="#1e1e1e" stroke-width="0.15" text-anchor="middle">10<tspan font-size="6.6" dy="-3.6">3</tspan></text><text x="43.9" y="635.8" font-size="8" fill="#1e1e1e" stroke="#1e1e1e" stroke-width="0.15" text-anchor="middle" transform="rotate(-90 43.9 635.8)">10<tspan font-size="6.6" dy="-3.6">3</tspan></text><text x="179.3" y="732.3" font-size="8" fill="#1e1e1e" stroke="#1e1e1e" stroke-width="0.15" text-anchor="middle">10<tspan font-size="6.6" dy="-3.6">4</tspan></text><text x="43.9" y="607.3" font-size="8" fill="#1e1e1e" stroke="#1e1e1e" stroke-width="0.15" text-anchor="middle" transform="rotate(-90 43.9 607.3)">10<tspan font-size="6.6" dy="-3.6">4</tspan></text><rect x="96.4" y="637.4" width="29.4" height="39.8" fill="none" stroke="#8a8a8a" stroke-width="1.8"/><rect x="111.6" y="679.1" width="39.1" height="41.0" fill="none" stroke="#484848" stroke-width="1.8"/><text x="145.7" y="643.8" font-size="14.8" font-weight="bold" fill="#8c8c8c">A1</text><line x1="141.9" y1="641.8" x2="133.9" y2="646.7" stroke="#8c8c8c" stroke-width="2.1"/><polygon points="129.2,649.6 132.9,643.2 136.6,649.2" fill="#8c8c8c"/><text x="158.3" y="676.1" font-size="14.8" font-weight="bold" fill="#454545">A2</text><line x1="164.7" y1="680.6" x2="158.8" y2="689.2" stroke="#454545" stroke-width="2.1"/><polygon points="155.7,693.8 156.5,686.5 162.3,690.4" fill="#454545"/><text x="179.2" y="603.5" font-size="14.5" font-weight="bold" text-anchor="end" fill="#000">Unstimulated</text><text x="114.2" y="746.7" font-size="13" font-weight="bold" text-anchor="middle" fill="#000">FITC – anti-fibrinogen</text><text x="29.4" y="664.1" font-size="13.2" font-weight="bold" text-anchor="middle" fill="#000" transform="rotate(-90 29.4 664.1)">TMRM</text><g transform="scale(0.5)" filter="url(#bl)" stroke-width="2" fill="none"><path d="M584 1246h2m-48 4h2m33 0h2m-136 2h2m91 4h2m13 4h2m-29 1h2m29 2h2m-3 6h2m-32 1h2m27 0h2m6 1h2m-19 1h2m5 0h2m7 0h2m7 2h2m-32 1h2m-24 1h2m22 0h2m26 0h2m15 0h2m-54 1h2m15 0h2m-14 2h2m1 0h2m33 0h2m-1 0h2m22 0h2m-55 1h2m19 0h2m-27 1h2m58 0h2m-41 1h2m-55 2h2m22 1h2m35 0h2m7 0h2m7 0h2m-57 1h2m46 0h2m-61 1h2m3 1h2m-15 1h2m8 1h2m-21 1h2m77 3h2m-1 0h2m0 0h2m-70 4h2m-15 3h2m8 0h2m-1 0h2m76 0h2m-135 1h2m42 0h2m-8 2h2m86 0h2m-106 1h2m11 0h2m93 0h2m12 0h2m-23 1h2m9 1h2m-90 1h2m-52 1h2m35 1h2m2 1h2m93 1h2m-104 1h2m92 0h2m0 4h2m20 0h2m-110 1h2m87 0h2m3 2h2m-90 1h2m-49 2h2m45 0h2m-83 2h2m1 0h2m166 0h2m-137 1h2m139 0h2m-103 2h2m-31 1h2m29 0h2m-10 1h2m3 2h2m78 0h2m-2 1h2m-1 0h2m-149 2h2m32 0h2m111 0h2m-84 1h2m4 0h2m-34 1h2m29 0h2m-55 1h2m26 3h2m91 1h2m-79 2h2m-36 1h2m24 1h2m15 0h2m74 0h2m4 0h2m2 0h2m16 0h2m-131 1h2m97 0h2m-89 1h2m84 0h2m-73 1h2m-5 1h2m8 0h2m-52 1h2m46 0h2m2 0h2m-66 1h2m119 0h2m-1 0h2m2 0h2m9 0h2m-129 1h2m6 0h2m21 0h2m73 0h2m28 0h2m-114 1h2m16 0h2m-37 1h2m0 0h2m16 0h2m20 0h2m8 0h2m-1 0h2m51 0h2m-121 1h2m102 0h2m-114 1h2m12 0h2m111 0h2m2 0h2m-141 1h2m77 0h2m-79 1h2m10 0h2m38 0h2m14 0h2m56 0h2m29 0h2m-126 1h2m49 0h2m3 0h2m-72 1h2m10 0h2m10 0h2m45 0h2m40 0h2m-153 1h2m173 0h2m-125 2h2m4 0h2m-33 1h2m16 0h2m9 0h2m25 0h2m105 0h2m-117 1h2m19 0h2m38 0h2m30 0h2m3 0h2m-157 1h2m101 0h2m30 0h2m0 0h2m1 0h2m8 0h2m-55 1h2m31 1h2m-131 1h2m28 0h2m36 0h2m18 0h2m10 0h2m9 0h2m9 0h2m-83 1h2m41 0h2m55 0h2m5 0h2m-166 1h2m-1 0h2m49 0h2m28 0h2m29 0h2m20 0h2m11 0h2m-120 1h2m54 0h2m18 0h2m-1 0h2m48 0h2m2 0h2m-139 1h2m15 0h2m0 0h2m6 0h2m9 0h2m63 0h2m-115 1h2m73 0h2m72 0h2m19 0h2m-170 1h2m34 0h2m22 0h2m5 0h2m47 0h2m51 0h2m-74 1h2m44 0h2m-142 1h2m1 0h2m52 0h2m4 0h2m30 0h2m34 0h2m-136 1h2m36 0h2m6 0h2m26 0h2m29 0h2m20 0h2m12 0h2m-140 1h2m30 0h2m15 0h2m10 0h2m14 0h2m1 0h2m21 0h2m8 0h2m9 0h2m17 0h2m-17 1h2m4 0h2m-52 1h2m69 0h2m-51 1h2m0 0h2m26 0h2m-80 1h2m20 0h2m48 0h2m-115 1h2m27 0h2m32 0h2m-1 0h2m32 0h2m-89 1h2m21 0h2m19 0h2m31 0h2m4 0h2m17 0h2m-116 1h2m22 0h2m74 0h2m36 0h2m-124 1h2m5 0h2m11 0h2m39 0h2m6 0h2m4 0h2m17 0h2m-123 1h2m92 0h2m-122 1h2m1 0h2m30 0h2m25 0h2m62 0h2m-47 1h2m66 0h2m12 0h2m-167 1h2m15 0h2m12 0h2m68 0h2m2 0h2m5 0h2m59 0h2m-139 1h2m33 0h2m41 0h2m28 0h2m23 0h2m-119 1h2m111 0h2m-158 1h2m68 0h2m8 0h2m1 0h2m47 0h2m-1 0h2m-100 1h2m99 0h2m3 0h2m12 0h2m24 1h2m-178 1h2m30 0h2m76 0h2m2 0h2m-61 1h2m-1 0h2m59 0h2m-37 1h2m11 0h2m0 0h2m4 0h2m48 0h2m-166 1h2m91 0h2m17 0h2m29 0h2m6 0h2m18 0h2m-109 1h2m51 0h2m9 0h2m22 0h2m24 0h2m-163 1h2m122 0h2m3 0h2m28 0h2m-180 1h2m49 0h2m32 0h2m3 0h2m69 0h2m-114 1h2m45 0h2m17 0h2m27 0h2m9 0h2m-141 1h2m84 0h2m17 0h2m16 0h2m19 0h2m-135 1h2m21 0h2m46 0h2m69 0h2m-1 0h2m1 0h2m-76 1h2m25 0h2m14 0h2m3 0h2m-36 1h2m20 0h2m42 0h2m-148 1h2m121 0h2m33 0h2m-131 1h2m12 0h2m38 0h2m0 0h2m30 0h2m-141 1h2m58 0h2m25 0h2m-5 1h2m8 0h2m22 0h2m-96 1h2m9 1h2m64 0h2m31 0h2m21 1h2m-134 1h2m95 0h2m-109 1h2m36 1h2m66 0h2m41 0h2m-6 1h2m-119 1h2m54 0h2m20 0h2m15 0h2m-36 1h2m34 0h2m-142 1h2m89 1h2m15 0h2m8 1h2m12 0h2m20 2h2m-127 2h2m113 0h2m-12 2h2m6 2h2m13 1h2m-148 1h2m114 0h2m-3 1h2m-79 1h2m74 0h2m5 2h2m20 0h2m-101 2h2m29 0h2m15 0h2m17 1h2m-71 1h2m167 0h2" stroke="#ababab"/><path d="M550 1274h2m-5 1h2m3 1h2m-6 3h2m-1 0h2m-19 1h2m28 0h2m-26 1h2m21 0h2m-25 1h2m4 0h2m20 0h2m8 0h2m-32 1h2m5 0h2m4 1h2m4 0h2m-27 1h2m5 0h2m4 0h2m3 0h2m5 0h2m9 0h2m3 0h2m-64 1h2m1 0h2m-4 1h2m36 0h2m4 0h2m-29 1h2m21 0h2m-37 1h2m5 0h2m39 0h2m-59 1h2m9 0h2m7 0h2m26 1h2m9 0h2m5 0h2m-68 1h2m1 0h2m9 0h2m37 0h2m-1 0h2m2 0h2m6 0h2m-10 1h2m-1 2h2m3 0h2m-57 1h2m53 1h2m0 0h2m0 0h2m-8 1h2m0 0h2m-63 2h2m-4 2h2m68 1h2m-11 1h2m0 0h2m-74 2h2m71 0h2m-4 1h2m-72 1h2m3 1h2m-1 1h2m63 1h2m3 0h2m-78 1h2m69 0h2m-75 1h2m2 0h2m70 2h2m-76 1h2m-1 0h2m70 0h2m-10 1h2m3 3h2m-77 1h2m75 0h2m-5 1h2m-69 1h2m69 1h2m-82 3h2m0 0h2m8 2h2m70 0h2m-3 2h2m-78 1h2m67 0h2m1 0h2m-73 2h2m-3 1h2m65 1h2m0 0h2m-69 1h2m3 2h2m-7 2h2m2 0h2m-1 0h2m-8 1h2m5 0h2m-9 1h2m8 0h2m-1 0h2m53 0h2m-54 1h2m46 0h2m-4 1h2m-59 1h2m9 1h2m-12 1h2m0 0h2m1 1h2m10 0h2m-9 1h2m-1 0h2m-8 1h2m46 0h2m7 0h2m-47 1h2m-14 1h2m56 1h2m-64 1h2m10 0h2m14 0h2m-11 1h2m3 0h2m3 0h2m16 0h2m2 0h2m-120 1h2m87 0h2m-69 2h2m63 0h2m19 0h2m1 0h2m-39 1h2m12 0h2m-1 1h2m-5 1h2m11 0h2m10 0h2m-91 1h2m55 0h2m7 0h2m-1 0h2m9 0h2m-1 0h2m11 1h2m-24 1h2m2 0h2m6 0h2m15 0h2m-19 2h2m4 0h2m-7 1h2m1 0h2m-8 1h2m-39 1h2m49 0h2m-9 1h2m7 0h2m-99 1h2m63 0h2m-6 1h2m18 1h2m10 0h2m-3 1h2m6 0h2m-35 1h2m26 1h2m11 0h2m-29 1h2m34 0h2m-51 1h2m6 0h2m-1 0h2m14 0h2m-9 2h2m4 1h2m-36 2h2m56 1h2m-49 3h2m5 0h2m19 0h2m7 0h2m-1 1h2m-117 3h2m82 0h2m-4 1h2m-2 1h2m-1 1h2m26 1h2m-1 2h2m-3 2h2m12 0h2m5 1h2m-58 1h2m7 0h2m11 0h2m10 1h2m-42 1h2m47 0h2m-13 1h2m14 0h2m-49 1h2m45 0h2m0 0h2m-7 2h2m-20 2h2m-14 2h2m10 0h2m4 0h2m-17 1h2m15 2h2m-13 2h2m7 4h2" stroke="#9c9c9c"/><path d="M552 1280h2m-14 2h2m12 0h2m-1 1h2m-14 2h2m6 0h2m3 0h2m-8 1h2m-1 0h2m0 1h2m4 0h2m0 0h2m-24 1h2m4 0h2m9 0h2m-17 1h2m10 0h2m9 0h2m-32 1h2m6 0h2m4 0h2m1 0h2m-4 1h2m10 0h2m0 0h2m-37 1h2m32 0h2m-34 1h2m24 0h2m12 0h2m-6 1h2m-1 0h2m2 0h2m-46 1h2m0 0h2m-3 1h2m39 0h2m-47 1h2m47 0h2m-1 0h2m-1 0h2m0 0h2m-57 1h2m46 1h2m4 0h2m-53 2h2m-5 1h2m-1 0h2m50 0h2m-58 1h2m49 0h2m5 0h2m-9 1h2m7 0h2m-7 2h2m-60 3h2m58 0h2m0 0h2m-7 1h2m-1 0h2m-1 0h2m-64 1h2m1 0h2m54 0h2m4 0h2m-68 1h2m3 0h2m57 0h2m3 0h2m-68 1h2m61 0h2m-10 1h2m4 0h2m-61 1h2m55 1h2m5 0h2m-70 1h2m58 1h2m-63 1h2m1 2h2m-4 1h2m1 0h2m59 0h2m-66 2h2m64 0h2m-4 1h2m-1 0h2m0 0h2m-67 1h2m57 0h2m2 0h2m2 0h2m-7 1h2m-68 1h2m61 0h2m3 0h2m-65 1h2m-1 0h2m53 1h2m2 0h2m0 0h2m-69 1h2m0 1h2m0 0h2m-5 1h2m60 0h2m-59 1h2m56 0h2m-65 2h2m3 0h2m-1 0h2m54 0h2m-63 1h2m2 0h2m52 0h2m4 0h2m-68 1h2m0 0h2m5 0h2m3 0h2m-16 1h2m12 0h2m0 0h2m45 0h2m0 0h2m-56 1h2m44 0h2m-1 0h2m-40 2h2m38 0h2m-54 1h2m6 0h2m-7 1h2m4 0h2m2 0h2m33 1h2m-40 1h2m2 0h2m2 0h2m23 0h2m-26 1h2m4 0h2m16 0h2m2 0h2m-1 0h2m-43 1h2m1 0h2m7 0h2m20 0h2m-38 1h2m2 0h2m6 0h2m0 0h2m-12 1h2m6 0h2m22 0h2m-28 1h2m10 0h2m11 0h2m0 0h2m2 0h2m-33 1h2m1 0h2m2 0h2m9 0h2m-17 1h2m-1 0h2m0 0h2m11 0h2m5 0h2m-26 1h2m3 0h2m0 0h2m5 0h2m3 0h2m3 0h2m-9 1h2m-19 1h2m9 0h2m-2 1h2m-12 2h2m1 0h2m4 0h2m1 0h2m1 0h2m-15 1h2m16 0h2m-9 1h2m3 0h2m-11 1h2m4 1h2m1 0h2m-4 1h2" stroke="#8e8e8e"/><path d="M551 1288h2m-7 1h2m3 0h2m-10 2h2m3 0h2m4 0h2m-22 1h2m2 0h2m0 0h2m15 0h2m-1 0h2m-25 1h2m-1 0h2m0 0h2m-1 0h2m1 0h2m4 0h2m0 0h2m2 0h2m-1 0h2m1 0h2m3 0h2m-28 1h2m2 0h2m0 0h2m5 0h2m5 0h2m3 0h2m1 0h2m-32 1h2m-1 0h2m5 0h2m-1 0h2m9 0h2m7 0h2m-37 1h2m-1 0h2m0 0h2m3 0h2m21 0h2m0 0h2m1 0h2m3 0h2m0 0h2m-44 1h2m-5 1h2m41 0h2m1 0h2m-44 1h2m35 0h2m-47 1h2m-1 0h2m0 0h2m34 0h2m2 0h2m-41 1h2m-1 0h2m1 0h2m29 0h2m-1 0h2m4 0h2m-2 1h2m1 0h2m-50 1h2m0 0h2m-8 1h2m0 0h2m45 0h2m-48 1h2m-1 0h2m41 0h2m1 0h2m-49 1h2m45 0h2m0 0h2m-55 1h2m1 0h2m46 0h2m-51 1h2m50 0h2m-1 0h2m1 0h2m-59 1h2m3 0h2m42 0h2m2 0h2m-56 1h2m-1 0h2m-1 0h2m44 0h2m-1 1h2m4 0h2m0 0h2m-3 1h2m-61 1h2m1 1h2m48 0h2m1 0h2m-53 1h2m49 1h2m-58 1h2m-1 1h2m1 0h2m-8 1h2m2 0h2m1 0h2m47 0h2m-54 1h2m52 0h2m-56 1h2m51 0h2m-2 1h2m-52 1h2m-1 0h2m50 1h2m0 0h2m-59 1h2m52 0h2m0 1h2m-60 2h2m-1 0h2m1 0h2m-2 1h2m49 0h2m-59 1h2m54 0h2m-53 1h2m49 0h2m0 0h2m-52 1h2m45 0h2m-1 0h2m-52 1h2m0 0h2m43 0h2m-58 1h2m10 0h2m-10 1h2m3 0h2m2 0h2m2 0h2m37 1h2m-1 0h2m-52 1h2m3 0h2m4 0h2m37 0h2m-47 1h2m3 0h2m38 0h2m-40 1h2m33 0h2m1 0h2m-44 1h2m9 0h2m12 0h2m10 0h2m-43 1h2m6 0h2m0 0h2m0 0h2m11 0h2m3 0h2m11 0h2m-1 0h2m1 0h2m-1 0h2m-46 1h2m-1 0h2m7 0h2m-1 0h2m15 0h2m-23 1h2m30 0h2m-30 1h2m-1 0h2m4 0h2m-2 1h2m0 0h2m-1 0h2m7 0h2m-23 1h2m13 0h2m-1 0h2m7 0h2m0 0h2m-38 1h2m-1 0h2m7 0h2m6 0h2m1 0h2m7 0h2m-24 1h2m4 0h2m4 0h2m4 0h2m3 0h2m2 0h2m-17 1h2m-1 0h2m6 0h2m3 0h2m-26 1h2m8 0h2m3 0h2m3 0h2m-1 0h2m-12 1h2m0 0h2m-1 0h2m2 0h2m-10 1h2m8 0h2m-24 1h2m11 0h2m5 0h2m1 0h2m-11 1h2m1 1h2m-5 1h2m2 1h2m-1 0h2m-8 1h2m-1 0h2m0 0h2m-3 2h2" stroke="#808080"/><path d="M549 1292h2m-1 0h2m0 1h2m-6 1h2m2 0h2m-8 1h2m0 0h2m13 0h2m-31 1h2m0 0h2m0 0h2m1 0h2m2 0h2m-1 0h2m-1 0h2m0 0h2m3 0h2m-1 0h2m-1 0h2m1 0h2m-26 1h2m1 0h2m5 0h2m5 0h2m-1 0h2m3 0h2m2 0h2m-1 0h2m-32 1h2m5 0h2m1 0h2m-1 0h2m0 0h2m-1 0h2m0 0h2m2 0h2m-1 0h2m-1 0h2m0 0h2m0 0h2m-1 0h2m-1 0h2m2 0h2m-31 1h2m-1 0h2m-1 0h2m2 0h2m4 0h2m2 0h2m0 0h2m0 0h2m3 0h2m0 0h2m-37 1h2m0 0h2m4 0h2m8 0h2m-1 0h2m-1 0h2m-1 0h2m2 0h2m3 0h2m0 0h2m-1 0h2m6 0h2m-37 1h2m-1 0h2m0 0h2m-1 0h2m0 0h2m1 0h2m4 0h2m0 0h2m1 0h2m-1 0h2m-1 0h2m-1 0h2m-1 0h2m-27 1h2m1 0h2m-1 0h2m-1 0h2m-1 0h2m-1 0h2m0 0h2m0 0h2m-1 0h2m1 0h2m3 0h2m1 0h2m-1 0h2m8 0h2m-41 1h2m3 0h2m-1 0h2m0 0h2m-1 0h2m1 0h2m-1 0h2m-1 0h2m-1 0h2m1 0h2m-1 0h2m-1 0h2m-1 0h2m-1 0h2m1 0h2m1 0h2m7 0h2m0 0h2m-1 0h2m-40 1h2m1 0h2m-1 0h2m0 0h2m-1 0h2m-1 0h2m0 0h2m-1 0h2m2 0h2m-1 0h2m-1 0h2m0 0h2m3 0h2m-1 0h2m0 0h2m2 0h2m0 0h2m-1 0h2m-1 0h2m-39 1h2m1 0h2m0 0h2m-1 0h2m-1 0h2m0 0h2m0 0h2m-1 0h2m-1 0h2m0 0h2m0 0h2m2 0h2m0 0h2m-1 0h2m2 0h2m0 0h2m3 0h2m-38 1h2m3 0h2m-1 0h2m-1 0h2m2 0h2m-1 0h2m0 0h2m-1 0h2m1 0h2m-1 0h2m-1 0h2m-1 0h2m3 0h2m-1 0h2m-1 0h2m-1 0h2m0 0h2m0 0h2m-1 0h2m-1 0h2m9 0h2m-47 1h2m-1 0h2m-1 0h2m-1 0h2m6 0h2m0 0h2m-1 0h2m-1 0h2m0 0h2m0 0h2m-1 0h2m-1 0h2m-1 0h2m0 0h2m1 0h2m-1 0h2m-1 0h2m2 0h2m2 0h2m0 0h2m-42 1h2m-1 0h2m1 0h2m7 0h2m0 0h2m-1 0h2m3 0h2m-1 0h2m-1 0h2m1 0h2m0 0h2m-1 0h2m2 0h2m-1 0h2m-1 0h2m0 0h2m-1 0h2m-43 1h2m1 0h2m1 0h2m-1 0h2m0 0h2m-1 0h2m0 0h2m-1 0h2m-1 0h2m-1 0h2m0 0h2m-1 0h2m2 0h2m0 0h2m-1 0h2m-1 0h2m-1 0h2m1 0h2m1 0h2m0 0h2m-1 0h2m0 0h2m0 0h2m4 0h2m-45 1h2m1 0h2m-1 0h2m-1 0h2m1 0h2m-1 0h2m-1 0h2m-1 0h2m0 0h2m-1 0h2m1 0h2m0 0h2m0 0h2m-1 0h2m-1 0h2m3 0h2m1 0h2m0 0h2m-1 0h2m-1 0h2m-1 0h2m-1 0h2m-1 0h2m2 0h2m-49 1h2m-1 0h2m1 0h2m-1 0h2m6 0h2m-1 0h2m5 0h2m1 0h2m-1 0h2m2 0h2m-1 0h2m-1 0h2m-1 0h2m-1 0h2m-1 0h2m1 0h2m0 0h2m-1 0h2m-42 1h2m-1 0h2m0 0h2m-1 0h2m-1 0h2m0 0h2m3 0h2m0 0h2m0 0h2m-1 0h2m-1 0h2m-1 0h2m-1 0h2m0 0h2m0 0h2m1 0h2m0 0h2m-1 0h2m-1 0h2m-1 0h2m0 0h2m-1 0h2m-1 0h2m3 0h2m-1 0h2m-1 0h2m-44 1h2m2 0h2m3 0h2m0 0h2m1 0h2m2 0h2m-1 0h2m0 0h2m-1 0h2m-1 0h2m-1 0h2m0 0h2m-1 0h2m-1 0h2m1 0h2m0 0h2m0 0h2m0 0h2m0 0h2m-1 0h2m-1 0h2m-43 1h2m-1 0h2m2 0h2m4 0h2m0 0h2m-1 0h2m-1 0h2m-1 0h2m4 0h2m1 0h2m-1 0h2m-1 0h2m-1 0h2m0 0h2m-1 0h2m-1 0h2m-1 0h2m1 0h2m-1 0h2m0 0h2m1 0h2m-48 1h2m-1 0h2m3 0h2m0 0h2m-1 0h2m-1 0h2m3 0h2m3 0h2m0 0h2m0 0h2m-1 0h2m1 0h2m0 0h2m-1 0h2m-1 0h2m1 0h2m-1 0h2m0 0h2m0 0h2m0 0h2m-1 0h2m2 0h2m-47 1h2m0 0h2m-1 0h2m0 0h2m0 0h2m-1 0h2m0 0h2m0 0h2m-1 0h2m-1 0h2m-1 0h2m0 0h2m-1 0h2m-1 0h2m-1 0h2m1 0h2m-1 0h2m3 0h2m-1 0h2m-1 0h2m-1 0h2m3 0h2m-1 0h2m-1 0h2m4 0h2m1 0h2m-52 1h2m2 0h2m-1 0h2m2 0h2m-1 0h2m-1 0h2m0 0h2m-1 0h2m-1 0h2m-1 0h2m-1 0h2m-1 0h2m-1 0h2m-1 0h2m5 0h2m-1 0h2m1 0h2m-1 0h2m-1 0h2m0 0h2m0 0h2m-1 0h2m-1 0h2m0 0h2m-1 0h2m-1 0h2m4 0h2m-45 1h2m-1 0h2m2 0h2m-1 0h2m-1 0h2m2 0h2m-1 0h2m1 0h2m-1 0h2m0 0h2m-1 0h2m0 0h2m-1 0h2m-1 0h2m-1 0h2m-1 0h2m-1 0h2m-1 0h2m1 0h2m0 0h2m3 0h2m-1 0h2m-1 0h2m-1 0h2m0 0h2m-46 1h2m0 0h2m2 0h2m0 0h2m-1 0h2m2 0h2m-1 0h2m-1 0h2m-1 0h2m-1 0h2m-1 0h2m1 0h2m0 0h2m0 0h2m0 0h2m-1 0h2m0 0h2m-1 0h2m-1 0h2m-1 0h2m0 0h2m0 0h2m2 0h2m0 0h2m-43 1h2m3 0h2m0 0h2m-1 0h2m2 0h2m0 0h2m-1 0h2m-1 0h2m-1 0h2m-1 0h2m1 0h2m-1 0h2m2 0h2m-1 0h2m-1 0h2m-1 0h2m2 0h2m3 0h2m0 0h2m0 0h2m-1 0h2m-1 0h2m-52 1h2m2 0h2m0 0h2m3 0h2m0 0h2m-1 0h2m1 0h2m2 0h2m-1 0h2m0 0h2m-1 0h2m0 0h2m-1 0h2m5 0h2m0 0h2m-1 0h2m-1 0h2m0 0h2m-1 0h2m-1 0h2m-1 0h2m-1 0h2m-1 0h2m-1 0h2m-1 0h2m1 0h2m-46 1h2m0 0h2m-1 0h2m2 0h2m0 0h2m-1 0h2m-1 0h2m-1 0h2m-1 0h2m-1 0h2m1 0h2m-1 0h2m2 0h2m-1 0h2m0 0h2m-1 0h2m-1 0h2m-1 0h2m-1 0h2m-1 0h2m0 0h2m0 0h2m-1 0h2m1 0h2m-1 0h2m0 0h2m-46 1h2m1 0h2m1 0h2m-1 0h2m-1 0h2m0 0h2m-1 0h2m1 0h2m-1 0h2m2 0h2m0 0h2m-1 0h2m0 0h2m-1 0h2m0 0h2m-1 0h2m-1 0h2m-1 0h2m0 0h2m-1 0h2m-1 0h2m-1 0h2m5 0h2m0 0h2m0 0h2m-1 0h2m-1 0h2m-53 1h2m-1 0h2m-1 0h2m4 0h2m2 0h2m-1 0h2m-1 0h2m0 0h2m1 0h2m0 0h2m-1 0h2m-1 0h2m2 0h2m0 0h2m0 0h2m1 0h2m-1 0h2m-1 0h2m2 0h2m4 0h2m1 0h2m-1 0h2m-50 1h2m0 0h2m-1 0h2m1 0h2m-1 0h2m-1 0h2m0 0h2m-1 0h2m0 0h2m0 0h2m-1 0h2m-1 0h2m0 0h2m-1 0h2m0 0h2m1 0h2m0 0h2m4 0h2m1 0h2m-1 0h2m-1 0h2m3 0h2m5 0h2m-54 1h2m4 0h2m-1 0h2m-1 0h2m-1 0h2m-1 0h2m-1 0h2m0 0h2m1 0h2m-1 0h2m0 0h2m-1 0h2m0 0h2m-1 0h2m-1 0h2m0 0h2m-1 0h2m2 0h2m-1 0h2m-1 0h2m-1 0h2m-1 0h2m-1 0h2m-1 0h2m7 0h2m3 0h2m-1 0h2m-1 0h2m-54 1h2m-1 0h2m1 0h2m0 0h2m-1 0h2m-1 0h2m0 0h2m-1 0h2m-1 0h2m-1 0h2m-1 0h2m1 0h2m-1 0h2m0 0h2m-1 0h2m0 0h2m0 0h2m-1 0h2m0 0h2m-1 0h2m-1 0h2m0 0h2m2 0h2m2 0h2m1 0h2m1 0h2m-47 1h2m0 0h2m1 0h2m0 0h2m-1 0h2m1 0h2m2 0h2m-1 0h2m0 0h2m-1 0h2m-1 0h2m-1 0h2m0 0h2m-1 0h2m1 0h2m-1 0h2m-1 0h2m1 0h2m0 0h2m0 0h2m-1 0h2m-1 0h2m0 0h2m5 0h2m-48 1h2m-1 0h2m6 0h2m-1 0h2m-1 0h2m1 0h2m-1 0h2m0 0h2m1 0h2m0 0h2m-1 0h2m-1 0h2m-1 0h2m1 0h2m-1 0h2m-1 0h2m-1 0h2m-1 0h2m2 0h2m-1 0h2m-1 0h2m-1 0h2m1 0h2m-1 0h2m-1 0h2m-1 0h2m-49 1h2m5 0h2m1 0h2m-1 0h2m3 0h2m1 0h2m-1 0h2m0 0h2m0 0h2m-1 0h2m0 0h2m1 0h2m-1 0h2m-1 0h2m-1 0h2m-1 0h2m2 0h2m-1 0h2m-1 0h2m0 0h2m1 0h2m-1 0h2m0 0h2m-47 1h2m2 0h2m1 0h2m-1 0h2m0 0h2m-1 0h2m-1 0h2m-1 0h2m-1 0h2m0 0h2m4 0h2m3 0h2m-1 0h2m-1 0h2m-1 0h2m-1 0h2m-1 0h2m3 0h2m-1 0h2m-1 0h2m1 0h2m-1 0h2m-47 1h2m1 0h2m-1 0h2m1 0h2m1 0h2m-1 0h2m1 0h2m-1 0h2m0 0h2m-1 0h2m-1 0h2m-1 0h2m-1 0h2m-1 0h2m-1 0h2m0 0h2m-1 0h2m-1 0h2m-1 0h2m-1 0h2m2 0h2m0 0h2m0 0h2m0 0h2m-38 1h2m0 0h2m-1 0h2m4 0h2m1 0h2m0 0h2m-1 0h2m0 0h2m0 0h2m-1 0h2m1 0h2m-1 0h2m2 0h2m-1 0h2m-1 0h2m0 0h2m0 0h2m4 0h2m-1 0h2m1 0h2m-51 1h2m3 0h2m0 0h2m1 0h2m-1 0h2m-1 0h2m0 0h2m0 0h2m-1 0h2m-1 0h2m0 0h2m-1 0h2m1 0h2m-1 0h2m2 0h2m1 0h2m-1 0h2m1 0h2m-1 0h2m3 0h2m-1 0h2m-41 1h2m9 0h2m1 0h2m1 0h2m6 0h2m2 0h2m-1 0h2m1 0h2m1 0h2m2 0h2m0 0h2m-1 0h2m-44 1h2m3 0h2m0 0h2m7 0h2m-1 0h2m0 0h2m0 0h2m3 0h2m1 0h2m7 0h2m-1 0h2m0 0h2m-41 1h2m7 0h2m0 0h2m-1 0h2m0 0h2m-1 0h2m0 0h2m0 0h2m0 0h2m-1 0h2m-1 0h2m-1 0h2m-1 0h2m-1 0h2m4 0h2m-1 0h2m0 0h2m1 0h2m-35 1h2m5 0h2m1 0h2m-1 0h2m-1 0h2m8 0h2m-1 0h2m-1 0h2m0 0h2m-1 0h2m-1 0h2m-1 0h2m-1 0h2m-1 0h2m-1 0h2m-1 0h2m-35 1h2m1 0h2m0 0h2m1 0h2m2 0h2m1 0h2m0 0h2m4 0h2m0 0h2m-1 0h2m-1 0h2m4 0h2m-25 1h2m-1 0h2m-1 0h2m4 0h2m-1 0h2m1 0h2m0 0h2m3 0h2m-1 0h2m-27 1h2m3 0h2m-1 0h2m-1 0h2m0 0h2m9 0h2m-1 0h2m-1 0h2m-1 0h2m-23 1h2m1 0h2m12 0h2m0 0h2m0 0h2m-1 0h2m-25 1h2m-1 0h2m2 0h2m0 0h2m11 0h2m-1 0h2m0 0h2m2 0h2m-19 1h2m0 0h2m3 0h2m-14 1h2m0 1h2m-1 0h2m2 0h2m4 0h2m-12 1h2m4 0h2m-1 0h2m-2 2h2m0 0h2m-6 1h2" stroke="#727272"/></g><rect x="211.5" y="608.4" width="133.4" height="114.5" fill="none" stroke="#9c9c9c" stroke-width="1"/><line x1="211.5" y1="608.4" x2="211.5" y2="723.4" stroke="#858585" stroke-width="1"/><line x1="211.0" y1="722.9" x2="344.9" y2="722.9" stroke="#858585" stroke-width="1"/><path d="M210.0 722.9h1.5M211.5 722.9v1.5M210.5 714.3h1.0M221.5 722.9v1.0M210.5 709.2h1.0M227.4 722.9v1.0M210.5 705.7h1.0M231.6 722.9v1.0M210.5 702.9h1.0M234.8 722.9v1.0M210.5 700.6h1.0M237.5 722.9v1.0M210.5 698.7h1.0M239.7 722.9v1.0M210.5 697.0h1.0M241.6 722.9v1.0M210.5 695.6h1.0M243.3 722.9v1.0M210.0 694.3h1.5M244.8 722.9v1.5M210.5 685.7h1.0M254.9 722.9v1.0M210.5 680.6h1.0M260.8 722.9v1.0M210.5 677.0h1.0M264.9 722.9v1.0M210.5 674.3h1.0M268.2 722.9v1.0M210.5 672.0h1.0M270.8 722.9v1.0M210.5 670.1h1.0M273.0 722.9v1.0M210.5 668.4h1.0M275.0 722.9v1.0M210.5 667.0h1.0M276.7 722.9v1.0M210.0 665.6h1.5M278.2 722.9v1.5M210.5 657.0h1.0M288.2 722.9v1.0M210.5 652.0h1.0M294.1 722.9v1.0M210.5 648.4h1.0M298.3 722.9v1.0M210.5 645.6h1.0M301.5 722.9v1.0M210.5 643.4h1.0M304.2 722.9v1.0M210.5 641.5h1.0M306.4 722.9v1.0M210.5 639.8h1.0M308.3 722.9v1.0M210.5 638.3h1.0M310.0 722.9v1.0M210.0 637.0h1.5M311.5 722.9v1.5M210.5 628.4h1.0M321.6 722.9v1.0M210.5 623.4h1.0M327.5 722.9v1.0M210.5 619.8h1.0M331.6 722.9v1.0M210.5 617.0h1.0M334.9 722.9v1.0M210.5 614.8h1.0M337.5 722.9v1.0M210.5 612.8h1.0M339.7 722.9v1.0M210.5 611.2h1.0M341.7 722.9v1.0M210.5 609.7h1.0M343.4 722.9v1.0" stroke="#777" stroke-width="0.7"/><text x="245.2" y="734.1" font-size="8" fill="#1e1e1e" stroke="#1e1e1e" stroke-width="0.15" text-anchor="middle">10<tspan font-size="6.6" dy="-3.6">1</tspan></text><text x="207.1" y="694.3" font-size="8" fill="#1e1e1e" stroke="#1e1e1e" stroke-width="0.15" text-anchor="middle" transform="rotate(-90 207.1 694.3)">10<tspan font-size="6.6" dy="-3.6">1</tspan></text><text x="278.5" y="734.1" font-size="8" fill="#1e1e1e" stroke="#1e1e1e" stroke-width="0.15" text-anchor="middle">10<tspan font-size="6.6" dy="-3.6">2</tspan></text><text x="207.1" y="665.6" font-size="8" fill="#1e1e1e" stroke="#1e1e1e" stroke-width="0.15" text-anchor="middle" transform="rotate(-90 207.1 665.6)">10<tspan font-size="6.6" dy="-3.6">2</tspan></text><text x="311.8" y="734.1" font-size="8" fill="#1e1e1e" stroke="#1e1e1e" stroke-width="0.15" text-anchor="middle">10<tspan font-size="6.6" dy="-3.6">3</tspan></text><text x="207.1" y="637.0" font-size="8" fill="#1e1e1e" stroke="#1e1e1e" stroke-width="0.15" text-anchor="middle" transform="rotate(-90 207.1 637.0)">10<tspan font-size="6.6" dy="-3.6">3</tspan></text><text x="345.2" y="734.1" font-size="8" fill="#1e1e1e" stroke="#1e1e1e" stroke-width="0.15" text-anchor="middle">10<tspan font-size="6.6" dy="-3.6">4</tspan></text><text x="207.1" y="608.4" font-size="8" fill="#1e1e1e" stroke="#1e1e1e" stroke-width="0.15" text-anchor="middle" transform="rotate(-90 207.1 608.4)">10<tspan font-size="6.6" dy="-3.6">4</tspan></text><rect x="262.4" y="639.1" width="29.7" height="40.4" fill="none" stroke="#8a8a8a" stroke-width="1.8"/><rect x="277.6" y="681.3" width="39.0" height="40.7" fill="none" stroke="#484848" stroke-width="1.8"/><text x="311.6" y="645.9" font-size="14.8" font-weight="bold" fill="#8c8c8c">A1</text><line x1="307.6" y1="643.6" x2="300.3" y2="648.0" stroke="#8c8c8c" stroke-width="2.1"/><polygon points="295.6,650.9 299.4,644.5 303.0,650.5" fill="#8c8c8c"/><text x="324.4" y="677.8" font-size="14.8" font-weight="bold" fill="#454545">A2</text><line x1="330.1" y1="682.9" x2="324.4" y2="691.2" stroke="#454545" stroke-width="2.1"/><polygon points="321.3,695.8 322.1,688.5 327.9,692.4" fill="#454545"/><text x="343.5" y="603.5" font-size="14.5" font-weight="bold" text-anchor="end" fill="#000">Thrombin</text><text x="277.3" y="746.7" font-size="13" font-weight="bold" text-anchor="middle" fill="#000">FITC – anti-fibrinogen</text><g transform="scale(0.5)" filter="url(#bl)" stroke-width="2" fill="none"><path d="M878 1277h2m30 1h2m46 0h2m-107 8h2m46 3h2m-15 4h2m-31 2h2m1 1h2m22 0h2m-21 1h2m32 0h2m-28 1h2m3 0h2m16 1h2m-38 1h2m30 0h2m27 2h2m-37 2h2m-15 1h2m9 1h2m4 0h2m-15 1h2m17 1h2m10 0h2m0 0h2m-47 1h2m-26 1h2m45 0h2m-23 1h2m16 1h2m21 0h2m21 0h2m-33 1h2m-57 1h2m26 0h2m7 0h2m31 0h2m-75 1h2m66 2h2m15 0h2m6 0h2m-70 1h2m72 0h2m-96 1h2m16 0h2m33 0h2m36 0h2m-86 1h2m4 0h2m44 0h2m-56 1h2m70 0h2m-82 1h2m68 0h2m14 1h2m-106 1h2m40 0h2m36 0h2m-63 2h2m50 1h2m0 0h2m23 0h2m-52 1h2m32 1h2m-80 1h2m10 0h2m73 0h2m8 0h2m-95 1h2m28 0h2m51 0h2m3 1h2m-69 1h2m5 0h2m-10 1h2m10 0h2m75 1h2m-37 2h2m-51 1h2m63 1h2m-84 1h2m27 0h2m-8 2h2m63 0h2m16 0h2m-100 1h2m70 0h2m3 0h2m-58 1h2m38 1h2m-64 1h2m4 0h2m7 0h2m54 0h2m26 0h2m-127 1h2m91 0h2m-1 0h2m-62 1h2m47 0h2m-69 1h2m31 0h2m22 0h2m14 0h2m-89 1h2m119 0h2m-87 1h2m49 0h2m21 0h2m-89 1h2m11 0h2m19 0h2m41 0h2m-1 0h2m8 0h2m-89 1h2m1 0h2m52 0h2m-35 1h2m-122 1h2m87 0h2m7 0h2m14 0h2m-39 1h2m4 0h2m17 0h2m67 0h2m18 0h2m-122 1h2m11 0h2m26 0h2m-1 1h2m13 0h2m73 0h2m-48 1h2m10 0h2m10 0h2m-101 1h2m21 0h2m65 0h2m-79 3h2m19 0h2m73 0h2m10 0h2m9 0h2m-128 1h2m133 0h2m-168 2h2m2 0h2m20 0h2m117 0h2m-103 1h2m88 0h2m13 0h2m-143 2h2m54 0h2m63 0h2m-90 1h2m5 0h2m110 0h2m7 0h2m-169 1h2m-19 2h2m15 0h2m16 0h2m41 0h2m86 0h2m12 0h2m-119 1h2m1 0h2m-63 1h2m56 0h2m17 0h2m-50 1h2m18 0h2m25 0h2m-3 1h2m-23 1h2m-13 1h2m15 0h2m107 0h2m-110 1h2m6 1h2m93 0h2m4 0h2m-147 1h2m13 0h2m26 0h2m-54 2h2m25 0h2m12 0h2m19 0h2m83 0h2m0 0h2m-171 2h2m49 1h2m125 0h2m-144 1h2m8 0h2m22 0h2m96 0h2m-183 1h2m54 0h2m-65 2h2m61 1h2m121 0h2m-174 2h2m32 0h2m6 0h2m130 0h2m-1 0h2m-161 1h2m38 0h2m3 1h2m2 0h2m-39 1h2m23 0h2m23 0h2m-66 1h2m2 0h2m41 0h2m7 0h2m110 0h2m-171 1h2m23 0h2m11 0h2m134 0h2m-224 1h2m104 1h2m-42 1h2m1 0h2m5 0h2m129 0h2m-1 0h2m9 0h2m-14 1h2m8 0h2m-221 1h2m105 0h2m7 0h2m4 0h2m-89 1h2m7 0h2m-45 1h2m88 0h2m6 0h2m10 0h2m97 0h2m15 0h2m-189 1h2m50 0h2m31 0h2m-67 1h2m-41 1h2m9 0h2m39 0h2m2 0h2m-21 1h2m-30 1h2m1 0h2m179 0h2m22 0h2m-198 1h2m32 0h2m4 0h2m35 0h2m110 0h2m-161 1h2m41 0h2m-59 1h2m14 0h2m15 0h2m8 0h2m4 0h2m98 0h2m-158 2h2m167 0h2m1 0h2m-146 1h2m40 0h2m92 0h2m-129 1h2m29 0h2m-58 1h2m21 0h2m21 0h2m-56 2h2m33 0h2m20 0h2m-92 1h2m5 0h2m177 0h2m8 0h2m-160 1h2m9 0h2m8 0h2m12 0h2m-45 1h2m12 0h2m3 0h2m-13 1h2m33 0h2m15 0h2m12 0h2m89 0h2m-108 2h2m4 0h2m90 0h2m-1 0h2m-207 1h2m74 0h2m-36 1h2m22 0h2m0 0h2m8 0h2m5 0h2m5 0h2m22 0h2m1 0h2m87 0h2m-180 1h2m6 0h2m3 0h2m14 1h2m22 1h2m119 0h2m-161 1h2m8 1h2m44 1h2m12 0h2m80 0h2m-115 1h2m27 0h2m0 0h2m-118 1h2m54 1h2m12 0h2m1 0h2m17 0h2m-1 1h2m94 0h2m-160 1h2m86 0h2m93 0h2m-156 2h2m41 0h2m81 0h2m2 0h2m6 0h2m-90 1h2m24 0h2m30 0h2m6 0h2m16 0h2m8 0h2m-172 1h2m61 0h2m1 0h2m29 0h2m9 0h2m24 0h2m-1 0h2m-49 1h2m40 0h2m13 0h2m-36 1h2" stroke="#ababab"/><path d="M875 1302h2m-3 3h2m14 1h2m-5 2h2m7 0h2m-12 1h2m5 0h2m-11 1h2m16 0h2m-11 1h2m3 0h2m6 1h2m-27 1h2m10 0h2m2 0h2m-11 1h2m5 0h2m-16 1h2m12 0h2m-17 1h2m3 0h2m12 1h2m-20 1h2m-1 0h2m5 1h2m3 0h2m1 0h2m-36 1h2m7 0h2m16 0h2m2 0h2m5 0h2m-26 1h2m-22 1h2m17 0h2m6 0h2m8 1h2m-40 1h2m23 0h2m15 0h2m1 0h2m22 0h2m-53 1h2m8 0h2m6 0h2m10 0h2m-42 1h2m13 0h2m36 0h2m-56 1h2m9 0h2m15 0h2m-1 0h2m-33 1h2m3 1h2m2 0h2m21 0h2m4 0h2m7 0h2m-47 1h2m3 0h2m25 0h2m4 0h2m3 0h2m1 0h2m2 0h2m-58 1h2m13 0h2m13 0h2m1 0h2m15 0h2m0 0h2m-50 1h2m11 0h2m5 0h2m11 0h2m7 0h2m-46 1h2m0 0h2m4 0h2m19 0h2m12 0h2m-29 1h2m26 0h2m-47 1h2m5 0h2m31 0h2m4 0h2m3 0h2m-15 1h2m4 0h2m8 0h2m-41 1h2m1 0h2m1 0h2m0 0h2m7 0h2m11 0h2m13 0h2m-32 1h2m5 0h2m10 0h2m-41 1h2m1 0h2m10 0h2m10 0h2m5 0h2m-30 1h2m0 0h2m2 0h2m12 0h2m13 0h2m4 0h2m0 0h2m-73 1h2m25 0h2m52 0h2m-55 1h2m8 0h2m9 0h2m6 0h2m12 0h2m-70 1h2m6 0h2m17 0h2m32 0h2m-43 1h2m30 0h2m1 0h2m-13 1h2m3 0h2m-24 1h2m2 0h2m-1 0h2m6 0h2m10 0h2m12 0h2m-39 1h2m8 0h2m-1 0h2m15 0h2m-44 1h2m10 0h2m4 0h2m-35 1h2m36 0h2m4 0h2m29 0h2m-31 1h2m3 0h2m5 0h2m8 0h2m-32 1h2m10 0h2m0 0h2m-27 1h2m2 0h2m8 0h2m2 0h2m13 0h2m12 0h2m-1 0h2m-53 1h2m17 0h2m10 0h2m11 0h2m-15 1h2m-31 1h2m4 0h2m12 0h2m-1 0h2m4 0h2m6 0h2m21 0h2m-44 1h2m6 0h2m6 0h2m8 0h2m-25 1h2m0 0h2m2 0h2m50 0h2m-74 1h2m3 0h2m0 0h2m4 0h2m8 0h2m-48 1h2m18 0h2m31 0h2m15 0h2m6 0h2m15 0h2m-63 1h2m14 0h2m15 0h2m3 0h2m-64 1h2m11 0h2m48 0h2m7 0h2m-64 1h2m1 0h2m56 0h2m9 0h2m-78 1h2m19 0h2m1 0h2m17 0h2m-79 1h2m12 0h2m38 0h2m5 0h2m17 0h2m12 0h2m-61 1h2m2 0h2m7 0h2m3 0h2m25 0h2m4 0h2m-1 0h2m0 0h2m26 0h2m-88 1h2m9 0h2m3 0h2m50 0h2m3 0h2m-69 1h2m45 0h2m7 0h2m11 0h2m4 0h2m0 0h2m-84 1h2m18 0h2m58 0h2m1 0h2m-78 1h2m1 0h2m48 0h2m2 0h2m3 0h2m8 0h2m7 0h2m-84 1h2m74 0h2m2 0h2m-87 1h2m71 0h2m1 0h2m4 0h2m5 0h2m-77 1h2m60 0h2m8 0h2m-100 1h2m11 0h2m61 0h2m-54 1h2m61 0h2m-1 0h2m1 0h2m-10 2h2m15 0h2m0 0h2m-1 0h2m-95 1h2m1 0h2m10 0h2m76 0h2m-14 1h2m7 0h2m-85 1h2m77 0h2m-86 2h2m80 0h2m-74 1h2m3 0h2m58 0h2m13 0h2m-84 1h2m2 0h2m58 0h2m0 0h2m11 1h2m-87 1h2m87 0h2m-87 1h2m83 0h2m-9 1h2m1 0h2m-89 1h2m0 0h2m85 0h2m-91 1h2m85 0h2m5 0h2m-83 1h2m-8 1h2m82 0h2m-99 1h2m2 1h2m4 1h2m84 0h2m-4 1h2m-84 1h2m77 0h2m-115 1h2m21 0h2m2 0h2m83 0h2m0 0h2m2 0h2m-93 1h2m3 0h2m-12 1h2m6 0h2m5 0h2m-18 1h2m8 1h2m-11 1h2m87 0h2m4 0h2m6 0h2m-103 1h2m2 0h2m7 2h2m77 0h2m2 0h2m-94 1h2m2 0h2m-20 1h2m17 0h2m8 0h2m69 0h2m-142 1h2m-1 0h2m138 0h2m-88 1h2m3 0h2m84 0h2m3 0h2m-137 1h2m42 0h2m79 0h2m-89 1h2m90 0h2m-8 1h2m5 0h2m-94 2h2m5 0h2m1 0h2m2 0h2m-9 1h2m65 0h2m6 0h2m-78 1h2m80 0h2m-137 1h2m124 0h2m5 1h2m6 0h2m-83 3h2m-9 1h2m83 0h2m-16 1h2m9 0h2m-1 0h2m-1 0h2m-64 2h2m58 0h2m-12 2h2m0 0h2m2 0h2m-1 0h2m-107 1h2m47 0h2m49 0h2m9 0h2m-20 1h2m-66 1h2m73 0h2m-11 1h2m9 0h2m0 0h2m-150 1h2m87 0h2m-19 1h2m17 0h2m41 0h2m6 0h2m3 0h2m-84 1h2m67 0h2m4 0h2m2 0h2m-1 0h2m-74 1h2m18 0h2m14 0h2m-22 1h2m16 0h2m27 0h2m-3 1h2m-66 1h2m6 0h2m11 0h2m10 0h2m-1 0h2m20 0h2m4 0h2m-25 1h2m18 0h2m7 0h2m-56 1h2m5 0h2m10 0h2m9 0h2m4 0h2m0 0h2m7 0h2m3 0h2m-70 1h2m9 0h2m26 0h2m9 0h2m8 0h2m-60 1h2m5 0h2m21 0h2m-27 1h2m5 0h2m3 0h2m-1 0h2m6 0h2m-8 1h2m4 0h2m-1 0h2m5 1h2m-13 1h2" stroke="#9c9c9c"/><path d="M895 1311h2m-10 4h2m7 1h2m-5 2h2m1 0h2m-3 3h2m-5 1h2m1 0h2m-14 1h2m4 0h2m0 1h2m-10 1h2m4 0h2m-10 1h2m2 0h2m2 0h2m-7 1h2m0 1h2m-8 1h2m-1 0h2m11 0h2m-14 1h2m4 0h2m-10 1h2m3 0h2m1 0h2m-28 1h2m21 0h2m4 0h2m5 0h2m1 1h2m6 0h2m-34 1h2m3 0h2m2 0h2m-3 1h2m8 0h2m3 0h2m5 0h2m-31 1h2m5 0h2m14 0h2m-26 1h2m20 0h2m0 0h2m6 0h2m-31 1h2m0 2h2m6 0h2m10 0h2m-22 1h2m0 0h2m2 0h2m0 0h2m2 0h2m6 0h2m2 0h2m-27 2h2m1 0h2m-7 1h2m4 0h2m1 0h2m-4 1h2m0 1h2m4 2h2m-2 1h2m12 7h2m-2 1h2m-16 1h2m10 1h2m-13 1h2m5 0h2m7 1h2m-17 1h2m11 0h2m-1 0h2m1 0h2m-41 1h2m2 0h2m10 0h2m9 0h2m3 0h2m-7 1h2m1 0h2m0 0h2m12 0h2m1 0h2m7 0h2m-54 1h2m25 0h2m3 0h2m13 0h2m-39 1h2m1 0h2m10 0h2m16 0h2m3 0h2m-38 1h2m-1 0h2m15 0h2m0 0h2m3 0h2m-31 1h2m3 0h2m11 0h2m11 0h2m0 0h2m-33 1h2m11 0h2m0 0h2m4 0h2m1 0h2m3 0h2m13 0h2m9 0h2m6 0h2m-62 1h2m1 0h2m13 0h2m8 0h2m7 0h2m-1 0h2m8 0h2m-52 1h2m5 0h2m10 0h2m17 0h2m1 0h2m-22 1h2m27 0h2m-1 0h2m9 0h2m-65 1h2m1 0h2m14 0h2m2 0h2m24 0h2m-1 0h2m10 0h2m-62 1h2m1 0h2m1 0h2m32 0h2m19 0h2m3 0h2m-74 1h2m46 0h2m14 0h2m-70 1h2m2 0h2m0 0h2m-1 0h2m8 0h2m34 0h2m4 0h2m15 0h2m-70 1h2m0 0h2m7 0h2m29 0h2m3 0h2m18 0h2m2 0h2m-72 1h2m0 0h2m2 0h2m3 0h2m34 0h2m8 0h2m0 0h2m3 0h2m-72 1h2m1 0h2m-1 0h2m4 0h2m1 0h2m0 0h2m-1 0h2m36 0h2m6 0h2m0 0h2m0 0h2m-65 1h2m0 0h2m62 0h2m-64 1h2m8 0h2m37 0h2m-55 2h2m15 0h2m48 0h2m-72 1h2m62 0h2m-68 1h2m1 0h2m-1 0h2m2 0h2m4 0h2m45 0h2m1 0h2m1 0h2m-69 1h2m6 0h2m55 0h2m2 0h2m3 0h2m-12 1h2m1 0h2m-69 1h2m68 0h2m3 0h2m-85 1h2m9 0h2m-1 0h2m63 1h2m-1 0h2m3 0h2m-13 1h2m4 0h2m-66 1h2m-17 1h2m3 0h2m2 0h2m1 0h2m58 0h2m2 0h2m11 0h2m-90 1h2m2 0h2m4 1h2m64 0h2m2 0h2m-1 0h2m-77 1h2m-1 0h2m3 0h2m-9 2h2m1 0h2m1 0h2m66 0h2m-2 1h2m-1 1h2m-74 1h2m63 1h2m-69 2h2m3 0h2m6 0h2m-1 0h2m0 0h2m52 0h2m3 0h2m-71 1h2m1 0h2m53 0h2m3 0h2m-64 1h2m54 0h2m6 0h2m-66 1h2m1 0h2m-1 0h2m5 0h2m51 0h2m5 0h2m-70 1h2m55 0h2m5 0h2m-81 1h2m78 0h2m0 0h2m-13 1h2m-1 0h2m-65 1h2m1 0h2m-1 0h2m2 0h2m52 0h2m1 0h2m2 0h2m-69 1h2m3 0h2m55 0h2m2 0h2m2 0h2m-67 1h2m59 0h2m-65 1h2m1 0h2m61 0h2m-61 1h2m49 0h2m1 0h2m7 0h2m-72 1h2m49 0h2m-1 0h2m6 0h2m0 0h2m3 0h2m-72 1h2m51 0h2m15 0h2m-17 1h2m2 0h2m-62 1h2m-1 0h2m0 0h2m1 0h2m10 0h2m36 0h2m17 0h2m-60 1h2m55 0h2m-72 1h2m13 0h2m4 0h2m29 0h2m1 0h2m2 0h2m0 0h2m-1 0h2m2 0h2m0 0h2m-74 1h2m14 0h2m34 0h2m0 0h2m6 0h2m0 0h2m1 0h2m-54 1h2m3 0h2m0 0h2m42 0h2m-63 1h2m2 0h2m9 0h2m32 0h2m11 0h2m-68 1h2m10 0h2m2 0h2m-1 0h2m7 0h2m23 0h2m6 0h2m0 0h2m-61 1h2m8 0h2m6 0h2m1 0h2m-1 0h2m2 0h2m-1 0h2m0 0h2m9 0h2m9 0h2m0 0h2m-1 0h2m-59 1h2m15 0h2m-1 0h2m4 0h2m9 0h2m7 0h2m4 0h2m5 0h2m-58 1h2m0 0h2m15 0h2m-1 0h2m9 0h2m5 0h2m-1 0h2m4 0h2m7 0h2m4 0h2m-60 1h2m17 0h2m18 0h2m1 0h2m-47 1h2m1 0h2m4 0h2m6 0h2m14 0h2m4 0h2m13 0h2m-1 0h2m0 0h2m-61 1h2m4 0h2m3 0h2m29 0h2m9 0h2m-1 0h2m4 0h2m-59 1h2m8 0h2m-1 0h2m35 0h2m3 0h2m-56 1h2m5 0h2m2 0h2m6 0h2m2 0h2m0 0h2m6 0h2m6 0h2m1 0h2m-1 0h2m19 0h2m0 0h2m-65 1h2m1 0h2m-1 0h2m2 0h2m2 0h2m3 0h2m4 0h2m13 0h2m5 0h2m4 0h2m-59 1h2m11 0h2m10 0h2m-1 0h2m19 0h2m-50 1h2m1 0h2m0 0h2m6 0h2m10 0h2m3 0h2m12 0h2m4 0h2m-1 0h2m-55 1h2m2 0h2m-1 0h2m7 0h2m17 0h2m-1 0h2m-1 0h2m2 0h2m6 0h2m6 0h2m7 0h2m7 0h2m-71 1h2m7 0h2m7 0h2m0 0h2m-1 0h2m4 0h2m10 0h2m11 0h2m-48 1h2m0 0h2m1 0h2m17 0h2m13 0h2m2 0h2m12 0h2m-43 1h2m-14 1h2m1 1h2m6 0h2m2 0h2m-10 1h2m4 0h2m-4 1h2m-3 1h2" stroke="#8e8e8e"/><path d="M901 1365h2m8 0h2m-16 1h2m1 0h2m5 0h2m3 0h2m-15 2h2m-1 0h2m-1 0h2m8 0h2m10 0h2m-24 1h2m1 0h2m2 0h2m-12 1h2m5 0h2m6 0h2m-1 0h2m3 0h2m3 0h2m-1 0h2m-12 1h2m1 0h2m4 0h2m-36 1h2m6 0h2m0 0h2m2 0h2m2 0h2m17 0h2m-35 1h2m2 0h2m-1 0h2m0 0h2m-1 0h2m14 0h2m1 0h2m6 0h2m-31 1h2m4 0h2m5 0h2m1 0h2m10 0h2m-1 0h2m-40 1h2m0 0h2m10 0h2m1 0h2m7 0h2m8 0h2m-24 1h2m8 0h2m12 0h2m-33 1h2m7 0h2m5 0h2m14 0h2m-32 1h2m31 0h2m4 0h2m-1 0h2m-32 1h2m-1 0h2m1 0h2m20 0h2m0 0h2m-49 1h2m9 0h2m3 0h2m15 0h2m6 0h2m7 0h2m-37 1h2m1 0h2m3 0h2m-1 0h2m6 0h2m3 0h2m9 0h2m-46 1h2m11 0h2m0 0h2m5 0h2m11 0h2m6 0h2m0 0h2m-16 1h2m3 0h2m-33 1h2m1 0h2m2 0h2m17 0h2m2 0h2m-1 0h2m0 0h2m3 0h2m2 0h2m-50 1h2m5 0h2m17 0h2m1 0h2m-1 0h2m5 0h2m1 0h2m4 0h2m-31 1h2m11 0h2m1 0h2m5 0h2m0 0h2m-1 0h2m-47 1h2m1 0h2m2 0h2m1 0h2m14 0h2m20 0h2m0 0h2m-51 1h2m0 0h2m2 0h2m2 0h2m-1 0h2m6 0h2m5 0h2m1 0h2m2 0h2m0 0h2m1 0h2m0 0h2m7 0h2m4 0h2m-56 1h2m3 0h2m3 0h2m-1 0h2m4 0h2m-1 0h2m8 0h2m2 0h2m2 0h2m4 0h2m0 0h2m2 0h2m-55 1h2m14 0h2m19 0h2m2 0h2m-44 1h2m-1 0h2m3 0h2m1 0h2m-1 0h2m15 0h2m6 0h2m11 0h2m10 0h2m-1 0h2m-64 1h2m1 0h2m11 0h2m5 0h2m12 0h2m-1 0h2m19 0h2m4 0h2m1 0h2m-64 1h2m-1 0h2m12 0h2m0 0h2m13 0h2m22 0h2m-61 1h2m0 0h2m1 0h2m0 0h2m3 0h2m0 0h2m19 0h2m-1 0h2m16 0h2m-59 1h2m6 0h2m6 0h2m5 0h2m30 0h2m9 0h2m-54 1h2m0 0h2m1 0h2m-1 0h2m40 0h2m2 0h2m-65 1h2m7 0h2m1 0h2m-1 0h2m39 0h2m-1 0h2m4 0h2m-65 1h2m-1 0h2m59 0h2m-63 1h2m3 0h2m-1 0h2m4 0h2m-1 0h2m47 0h2m0 0h2m-68 1h2m0 0h2m-1 0h2m6 0h2m49 0h2m-1 0h2m0 0h2m-64 1h2m0 0h2m13 0h2m-1 0h2m33 0h2m3 0h2m4 0h2m-1 0h2m-71 1h2m4 0h2m3 0h2m1 0h2m0 0h2m38 0h2m3 0h2m4 0h2m-68 1h2m2 0h2m10 0h2m38 0h2m7 0h2m-67 1h2m10 0h2m6 0h2m33 0h2m5 0h2m-59 1h2m4 0h2m6 0h2m-1 0h2m37 0h2m-52 1h2m-1 0h2m3 0h2m1 0h2m34 0h2m0 0h2m-42 1h2m40 0h2m-57 1h2m7 0h2m8 0h2m-13 1h2m2 0h2m-1 0h2m-1 0h2m-1 0h2m3 0h2m-17 1h2m11 0h2m27 0h2m2 0h2m-53 1h2m49 0h2m-36 1h2m-14 1h2m-1 0h2m-1 0h2m-1 0h2m1 0h2m0 0h2m12 0h2m-21 1h2m0 0h2m-1 0h2m5 0h2m-1 0h2m3 0h2m19 0h2m8 0h2m-55 1h2m4 0h2m7 0h2m31 0h2m-1 0h2m6 0h2m-56 1h2m-1 0h2m-1 0h2m2 0h2m0 0h2m9 0h2m7 0h2m18 0h2m-56 1h2m12 0h2m-1 0h2m4 0h2m-1 0h2m0 0h2m0 0h2m-28 1h2m-1 0h2m1 0h2m1 0h2m2 0h2m17 0h2m-1 0h2m25 0h2m-56 1h2m0 0h2m0 0h2m24 0h2m4 0h2m14 0h2m-36 1h2m8 0h2m0 0h2m1 0h2m0 0h2m0 0h2m3 0h2m-1 0h2m4 0h2m0 0h2m0 0h2m-52 1h2m0 0h2m7 0h2m9 0h2m-1 0h2m4 0h2m2 0h2m0 0h2m1 0h2m8 0h2m-56 1h2m0 0h2m14 0h2m3 0h2m-1 0h2m-1 0h2m4 0h2m7 0h2m3 0h2m2 0h2m5 0h2m-59 1h2m1 0h2m1 0h2m20 0h2m0 0h2m1 0h2m-1 0h2m0 0h2m22 0h2m-63 1h2m4 0h2m25 0h2m0 0h2m4 0h2m4 0h2m0 0h2m3 0h2m0 0h2m-57 1h2m-1 0h2m4 0h2m8 0h2m14 0h2m11 0h2m-45 1h2m19 0h2m6 0h2m2 0h2m3 0h2m3 0h2m0 0h2m-46 1h2m16 0h2m1 0h2m33 0h2m-38 1h2m5 0h2m1 0h2m4 0h2m11 0h2m-51 1h2m23 0h2m2 0h2m5 0h2m5 0h2m0 0h2m-23 1h2m-11 1h2m-1 0h2m22 0h2m-20 1h2m14 0h2m-18 1h2m-1 0h2m2 0h2m11 0h2m-48 1h2m23 0h2m1 0h2m18 1h2m-1 0h2m0 0h2m-23 1h2m11 0h2m-20 1h2m20 0h2m-1 0h2m-1 0h2m-25 2h2" stroke="#808080"/><path d="M902 1370h2m-5 2h2m3 1h2m-3 1h2m0 0h2m0 0h2m-1 0h2m10 0h2m-1 0h2m-1 0h2m-1 0h2m1 0h2m-19 1h2m8 0h2m1 0h2m-1 0h2m-1 0h2m-1 0h2m-1 0h2m-18 1h2m8 0h2m-1 0h2m0 0h2m-1 0h2m0 0h2m-17 1h2m9 0h2m0 0h2m-1 0h2m-1 0h2m1 0h2m-23 1h2m0 0h2m1 0h2m4 0h2m1 0h2m-1 0h2m0 0h2m-1 0h2m-1 0h2m0 0h2m-14 1h2m-1 0h2m0 0h2m-1 0h2m2 0h2m-18 1h2m5 0h2m-1 0h2m2 0h2m3 0h2m0 0h2m-20 1h2m0 0h2m3 0h2m0 0h2m-1 0h2m5 0h2m7 0h2m-33 1h2m2 0h2m8 0h2m-1 0h2m9 0h2m-1 0h2m-22 1h2m3 0h2m16 0h2m2 0h2m0 0h2m-35 1h2m-1 0h2m-1 0h2m-1 0h2m-1 0h2m5 0h2m11 0h2m-28 1h2m3 0h2m1 0h2m-1 0h2m2 0h2m4 0h2m1 0h2m2 0h2m5 0h2m-47 1h2m0 0h2m-1 0h2m3 0h2m-1 0h2m1 0h2m5 0h2m8 0h2m14 0h2m-34 1h2m5 0h2m4 0h2m-1 0h2m7 0h2m2 0h2m5 0h2m-49 1h2m4 0h2m0 0h2m6 0h2m1 0h2m2 0h2m-1 0h2m0 0h2m17 0h2m-43 1h2m1 0h2m0 0h2m5 0h2m6 0h2m17 0h2m2 0h2m-52 1h2m0 0h2m4 0h2m11 0h2m2 0h2m0 0h2m0 0h2m-1 0h2m-1 0h2m7 0h2m-1 0h2m2 0h2m0 0h2m-44 1h2m2 0h2m2 0h2m1 0h2m0 0h2m2 0h2m1 0h2m10 0h2m12 0h2m-53 1h2m-1 0h2m-1 0h2m7 0h2m7 0h2m4 0h2m1 0h2m6 0h2m-1 0h2m1 0h2m-1 0h2m4 0h2m2 0h2m-47 1h2m-1 0h2m5 0h2m1 0h2m0 0h2m-1 0h2m-1 0h2m1 0h2m-1 0h2m3 0h2m7 0h2m0 0h2m1 0h2m1 0h2m-1 0h2m-54 1h2m1 0h2m7 0h2m12 0h2m0 0h2m-1 0h2m3 0h2m5 0h2m0 0h2m-1 0h2m1 0h2m1 0h2m-1 0h2m1 0h2m4 0h2m-60 1h2m9 0h2m11 0h2m0 0h2m0 0h2m-1 0h2m-1 0h2m4 0h2m2 0h2m1 0h2m-1 0h2m0 0h2m1 0h2m0 0h2m1 0h2m-1 0h2m-32 1h2m-1 0h2m-1 0h2m6 0h2m0 0h2m2 0h2m-1 0h2m-1 0h2m-1 0h2m-1 0h2m-1 0h2m1 0h2m1 0h2m0 0h2m-32 1h2m3 0h2m0 0h2m0 0h2m1 0h2m0 0h2m0 0h2m-1 0h2m-1 0h2m5 0h2m-1 0h2m-1 0h2m0 0h2m1 0h2m-57 1h2m16 0h2m1 0h2m0 0h2m1 0h2m0 0h2m1 0h2m-1 0h2m0 0h2m9 0h2m-1 0h2m1 0h2m-1 0h2m4 0h2m-59 1h2m4 0h2m-1 0h2m-1 0h2m8 0h2m1 0h2m1 0h2m-1 0h2m0 0h2m4 0h2m10 0h2m-1 0h2m4 0h2m0 0h2m-52 1h2m7 0h2m-1 0h2m6 0h2m8 0h2m0 0h2m-1 0h2m-1 0h2m-1 0h2m-1 0h2m1 0h2m-1 0h2m-1 0h2m-1 0h2m-1 0h2m0 0h2m3 0h2m7 0h2m-57 1h2m-1 0h2m11 0h2m4 0h2m1 0h2m1 0h2m0 0h2m-1 0h2m2 0h2m1 0h2m-1 0h2m-1 0h2m2 0h2m-1 0h2m-1 0h2m-51 1h2m13 0h2m3 0h2m1 0h2m-1 0h2m-1 0h2m-1 0h2m4 0h2m0 0h2m0 0h2m0 0h2m4 0h2m0 0h2m4 0h2m-55 1h2m13 0h2m-1 0h2m3 0h2m-1 0h2m0 0h2m3 0h2m-1 0h2m-1 0h2m-1 0h2m2 0h2m2 0h2m2 0h2m3 0h2m0 0h2m-43 1h2m0 0h2m-1 0h2m-1 0h2m-1 0h2m2 0h2m-1 0h2m2 0h2m0 0h2m0 0h2m-1 0h2m2 0h2m-1 0h2m-1 0h2m0 0h2m-1 0h2m-1 0h2m-1 0h2m-1 0h2m0 0h2m-1 0h2m2 0h2m-1 0h2m-31 1h2m0 0h2m1 0h2m2 0h2m-1 0h2m2 0h2m2 0h2m1 0h2m3 0h2m-1 0h2m-1 0h2m3 0h2m-36 1h2m1 0h2m0 0h2m-1 0h2m-1 0h2m-1 0h2m0 0h2m1 0h2m-1 0h2m0 0h2m0 0h2m-1 0h2m-1 0h2m-1 0h2m2 0h2m-1 0h2m0 0h2m-1 0h2m-1 0h2m1 0h2m-40 1h2m2 0h2m-1 0h2m0 0h2m0 0h2m-1 0h2m3 0h2m-1 0h2m-1 0h2m0 0h2m-1 0h2m-1 0h2m3 0h2m-1 0h2m0 0h2m0 0h2m-1 0h2m1 0h2m1 0h2m-43 1h2m9 0h2m-1 0h2m0 0h2m0 0h2m0 0h2m-1 0h2m0 0h2m-1 0h2m-1 0h2m2 0h2m1 0h2m0 0h2m2 0h2m-23 1h2m-1 0h2m-1 0h2m2 0h2m-1 0h2m11 0h2m-1 0h2m2 0h2m-34 1h2m3 0h2m6 0h2m-1 0h2m1 0h2m-1 0h2m0 0h2m-18 1h2m0 0h2m0 0h2m1 0h2m0 0h2m-1 0h2m3 0h2m-1 0h2m0 0h2m2 0h2m-1 0h2m0 0h2m-36 1h2m5 0h2m6 0h2m9 0h2m-1 0h2m4 0h2m0 0h2m0 0h2m-34 1h2m8 0h2m2 0h2m-1 0h2m-1 0h2m1 0h2m1 0h2m-1 0h2m-1 0h2m-1 0h2m-40 1h2m6 0h2m-1 0h2m0 0h2m1 0h2m4 0h2m1 0h2m-1 0h2m2 0h2m-1 0h2m1 0h2m-1 0h2m-1 0h2m0 0h2m2 0h2m-1 0h2m0 0h2m-35 1h2m3 0h2m-1 0h2m5 0h2m0 0h2m3 0h2m-1 0h2m-1 0h2m2 0h2m-1 0h2m-1 0h2m1 0h2m-41 1h2m12 0h2m5 0h2m4 0h2m2 0h2m-1 0h2m-1 0h2m-33 1h2m0 0h2m4 0h2m2 0h2m6 0h2m1 0h2m1 0h2m0 0h2m0 0h2m-1 0h2m2 0h2m-34 1h2m13 0h2m1 0h2m5 0h2m5 0h2m0 0h2m-27 1h2m3 0h2m5 0h2m-1 0h2m3 0h2m3 0h2m-27 1h2m2 0h2m15 0h2m-38 1h2m15 0h2m3 0h2m14 0h2m-3 1h2m-19 1h2m-4 1h2m17 1h2m-15 1h2m-1 1h2" stroke="#727272"/></g><rect x="377.2" y="608.3" width="133.2" height="114.8" fill="none" stroke="#9c9c9c" stroke-width="1"/><line x1="377.2" y1="608.3" x2="377.2" y2="723.6" stroke="#858585" stroke-width="1"/><line x1="376.7" y1="723.1" x2="510.4" y2="723.1" stroke="#858585" stroke-width="1"/><path d="M375.7 723.1h1.5M377.2 723.1v1.5M376.2 714.5h1.0M387.2 723.1v1.0M376.2 709.4h1.0M393.1 723.1v1.0M376.2 705.8h1.0M397.2 723.1v1.0M376.2 703.0h1.0M400.5 723.1v1.0M376.2 700.8h1.0M403.1 723.1v1.0M376.2 698.8h1.0M405.3 723.1v1.0M376.2 697.2h1.0M407.3 723.1v1.0M376.2 695.7h1.0M409.0 723.1v1.0M375.7 694.4h1.5M410.5 723.1v1.5M376.2 685.8h1.0M420.5 723.1v1.0M376.2 680.7h1.0M426.4 723.1v1.0M376.2 677.1h1.0M430.5 723.1v1.0M376.2 674.3h1.0M433.8 723.1v1.0M376.2 672.1h1.0M436.4 723.1v1.0M376.2 670.1h1.0M438.6 723.1v1.0M376.2 668.5h1.0M440.6 723.1v1.0M376.2 667.0h1.0M442.3 723.1v1.0M375.7 665.7h1.5M443.8 723.1v1.5M376.2 657.1h1.0M453.8 723.1v1.0M376.2 652.0h1.0M459.7 723.1v1.0M376.2 648.4h1.0M463.8 723.1v1.0M376.2 645.6h1.0M467.1 723.1v1.0M376.2 643.4h1.0M469.7 723.1v1.0M376.2 641.4h1.0M471.9 723.1v1.0M376.2 639.8h1.0M473.9 723.1v1.0M376.2 638.3h1.0M475.6 723.1v1.0M375.7 637.0h1.5M477.1 723.1v1.5M376.2 628.4h1.0M487.1 723.1v1.0M376.2 623.3h1.0M493.0 723.1v1.0M376.2 619.7h1.0M497.1 723.1v1.0M376.2 616.9h1.0M500.4 723.1v1.0M376.2 614.7h1.0M503.0 723.1v1.0M376.2 612.7h1.0M505.2 723.1v1.0M376.2 611.1h1.0M507.2 723.1v1.0M376.2 609.6h1.0M508.9 723.1v1.0" stroke="#777" stroke-width="0.7"/><text x="410.8" y="734.3" font-size="8" fill="#1e1e1e" stroke="#1e1e1e" stroke-width="0.15" text-anchor="middle">10<tspan font-size="6.6" dy="-3.6">1</tspan></text><text x="372.8" y="694.4" font-size="8" fill="#1e1e1e" stroke="#1e1e1e" stroke-width="0.15" text-anchor="middle" transform="rotate(-90 372.8 694.4)">10<tspan font-size="6.6" dy="-3.6">1</tspan></text><text x="444.1" y="734.3" font-size="8" fill="#1e1e1e" stroke="#1e1e1e" stroke-width="0.15" text-anchor="middle">10<tspan font-size="6.6" dy="-3.6">2</tspan></text><text x="372.8" y="665.7" font-size="8" fill="#1e1e1e" stroke="#1e1e1e" stroke-width="0.15" text-anchor="middle" transform="rotate(-90 372.8 665.7)">10<tspan font-size="6.6" dy="-3.6">2</tspan></text><text x="477.4" y="734.3" font-size="8" fill="#1e1e1e" stroke="#1e1e1e" stroke-width="0.15" text-anchor="middle">10<tspan font-size="6.6" dy="-3.6">3</tspan></text><text x="372.8" y="637.0" font-size="8" fill="#1e1e1e" stroke="#1e1e1e" stroke-width="0.15" text-anchor="middle" transform="rotate(-90 372.8 637.0)">10<tspan font-size="6.6" dy="-3.6">3</tspan></text><text x="510.7" y="734.3" font-size="8" fill="#1e1e1e" stroke="#1e1e1e" stroke-width="0.15" text-anchor="middle">10<tspan font-size="6.6" dy="-3.6">4</tspan></text><text x="372.8" y="608.3" font-size="8" fill="#1e1e1e" stroke="#1e1e1e" stroke-width="0.15" text-anchor="middle" transform="rotate(-90 372.8 608.3)">10<tspan font-size="6.6" dy="-3.6">4</tspan></text><rect x="426.5" y="639.1" width="29.9" height="39.7" fill="none" stroke="#8a8a8a" stroke-width="1.8"/><rect x="442.1" y="681.3" width="39.2" height="41.2" fill="none" stroke="#484848" stroke-width="1.8"/><text x="476.0" y="645.9" font-size="14.8" font-weight="bold" fill="#8c8c8c">A1</text><line x1="471.9" y1="643.6" x2="464.3" y2="648.4" stroke="#8c8c8c" stroke-width="2.1"/><polygon points="459.6,651.3 463.3,644.9 467.0,650.8" fill="#8c8c8c"/><text x="488.7" y="677.8" font-size="14.8" font-weight="bold" fill="#454545">A2</text><line x1="494.6" y1="682.9" x2="489.1" y2="691.0" stroke="#454545" stroke-width="2.1"/><polygon points="485.9,695.5 486.7,688.2 492.5,692.1" fill="#454545"/><text x="507.8" y="603.2" font-size="14.5" font-weight="bold" text-anchor="end" fill="#000">Thrombin + Cvx</text><text x="444.4" y="746.7" font-size="13" font-weight="bold" text-anchor="middle" fill="#000">FITC – anti-fibrinogen</text><text x="1" y="216" font-size="18.5" font-weight="bold" fill="#000">B</text><text x="1" y="404.2" font-size="18.5" font-weight="bold" fill="#000">C</text><text x="1" y="589.2" font-size="18.5" font-weight="bold" fill="#000">D</text></svg></body></html>
